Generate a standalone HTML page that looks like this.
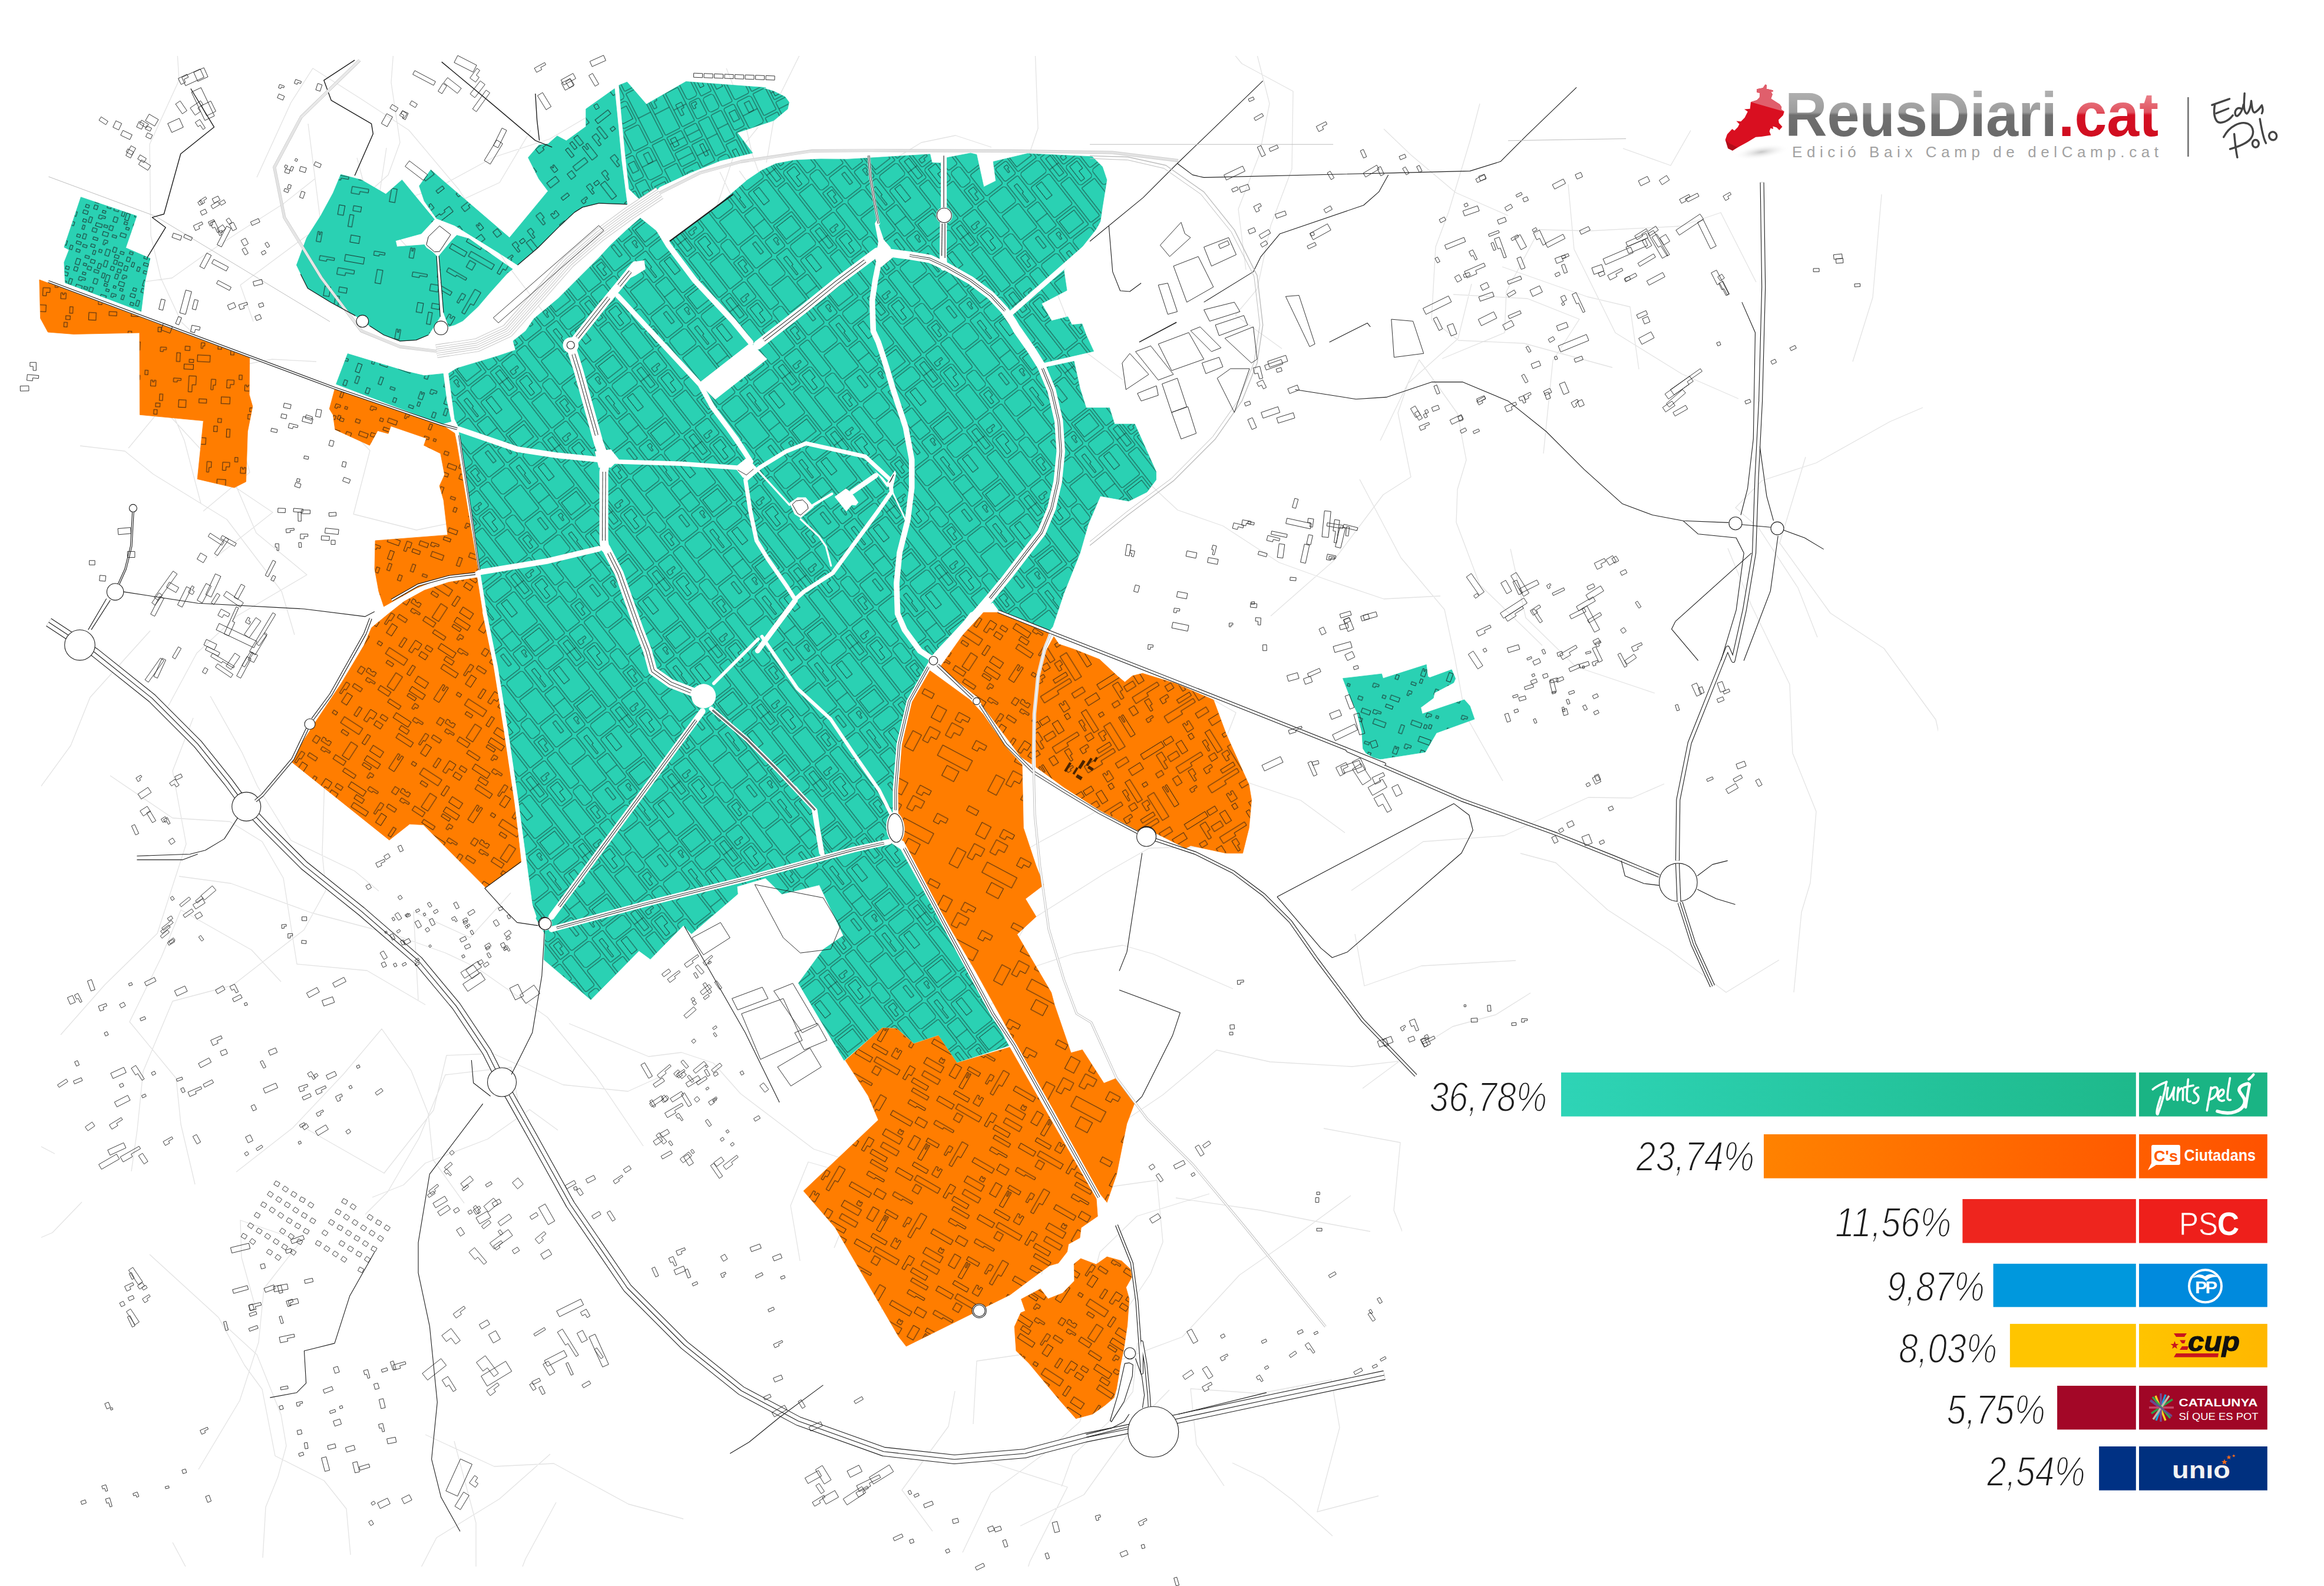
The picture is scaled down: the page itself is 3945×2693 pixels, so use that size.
<!DOCTYPE html><html><head><meta charset="utf-8"><title>Reus</title><style>html,body{margin:0;padding:0;background:#fff}body{width:3945px;height:2693px;position:relative;overflow:hidden;font-family:"Liberation Sans",sans-serif}svg{position:absolute;left:0;top:0}</style></head><body>
<svg width="3945" height="2693" viewBox="0 0 3945 2693">
<defs><clipPath id="mapclip"><path d="M70,95H2870V330H3290V1760H2380V2660H70Z"/></clipPath></defs><path clip-path="url(#mapclip)" d="M1526,1523 L1587,1487 L1703,1467 L1759,1433 L1864,1376 L1956,1338 L2074,1327 M2755,252 L2836,281 L2896,176 L2946,89 L2986,-65 M1081,678 L1214,733 L1352,769 L1494,718 M1583,2600 L1531,2530 L1610,2422 L1621,2362 M254,2130 L371,2237 L415,2318 L445,2359 L467,2472 L550,2514 L588,2562 L595,2640 M2564,932 L2590,1049 L2675,1132 L2809,1177 M500,1078 L478,1004 L385,882 L260,805 L212,766 L136,757 M2343,748 L2409,611 L2474,702 L2489,781 L2474,831 L2472,887 L2512,993 L2618,1096 M2300,1586 L2316,1674 L2413,1640 L2573,1631 M304,1488 L392,1500 L529,1550 L669,1587 L756,1618 L809,1643 L929,1727 L1012,1828 L1092,1946 M331,2011 L307,1909 L299,1831 L220,1735 L274,1625 L307,1545 L427,1613 L477,1667 M771,2447 L808,2586 L808,2666 L839,2740 L920,2828 M1660,897 L1592,854 L1531,801 L1434,745 L1380,699 L1309,584 L1296,522 L1222,427 M1255,290 L1332,398 L1402,359 L1484,291 L1564,242 L1622,230 L1683,250 M1529,1691 L1622,1640 L1707,1630 L1744,1566 L1877,1482 L1951,1440 L2039,1438 M328,1219 L293,1309 L316,1433 L267,1585 L178,1672 L103,1757 M2293,2030 L2196,2101 L2104,2165 L2007,2270 L1873,2320 L1762,2296 L1658,2311 L1652,2418 M1358,2141 L1342,2047 L1372,1973 L1515,2014 L1590,2092 L1640,2109 L1798,2117 M175,488 L292,472 L344,435 L404,395 L481,346 L534,304 M722,1706 L623,1648 L504,1637 L481,1491 L445,1429 L390,1395 L293,1389 L187,1317 M710,1698 L702,1548 L798,1592 L867,1516 M139,2041 L89,2093 L-51,2153 L-99,2119 L-195,2107 L-286,2111 L-299,2180 L-311,2273 M692,513 L669,402 L622,329 L606,268 M2467,500 L2593,507 L2681,542 L2636,612 L2620,770 M944,2551 L892,2647 L849,2759 L759,2889 L755,3020 M891,1118 L860,1189 L776,1254 L617,1269 L559,1266 M1996,2034 L2139,2055 L2234,2074 L2326,2091 M934,2469 L848,2545 L741,2611 L698,2694 L652,2766 L548,2843 L516,2887 L493,3035 L514,3109 M2349,219 L2395,263 L2471,327 L2560,366 M2581,1449 L2641,1465 L2729,1545 L2834,1613 L2930,1685 L3020,1630 M2176,592 L2097,535 L2134,491 L2157,383 L2193,287 L2195,155 L2108,108 L2022,4 L1958,-63 M548,483 L591,358 L659,297 L679,242 L664,140 L674,5 L623,-106 L519,-183 M2308,814 L2378,947 L2452,1035 L2469,1114 L2487,1213 L2551,1326 M1732,306 L1762,218 L1757,81 L1759,-31 M632,2033 L685,2012 L722,1975 L828,1934 L899,1884 L947,1919 M2115,458 L2102,355 L2138,262 L2155,176 L2121,42 L2083,2 L2045,-77 L1993,-107 L1946,-132 M1233,116 L1258,179 L1277,262 L1304,337 L1290,467 L1440,459 L1413,607 M178,368 L208,465 L252,607 L313,748 L341,855 M2825,1331 L2770,1355 L2696,1354 L2553,1419 L2416,1429 L2294,1512 M1518,721 L1463,758 L1399,765 L1294,745 L1229,769 M722,2436 L839,2490 L940,2485 L1067,2554 L1160,2579 M2737,624 L2587,583 L2476,578 L2430,543 L2437,419 L2459,360 L2496,237 L2512,176 M2981,479 L2921,361 L2853,384 L2699,392 L2613,390 L2557,495 L2554,565 L2448,609 M352,670 L406,739 L424,802 L345,868 M3045,1685 L3058,1549 L3073,1499 L3083,1378 L3043,1279 L3038,1162 L2973,1028 L2933,931 M519,1916 L652,1992 L736,1885 L758,1792 L837,1789 L956,1842 L1066,1853 L1128,1825 M1144,463 L1204,415 L1263,377 L1222,292 M3296,444 L3357,340 L3430,411 L3536,448 L3615,445 L3735,449 L3792,416 L3894,419 L4019,409 M1634,2636 L1682,2535 L1769,2471 L1833,2414 L1879,2273 L1953,2163 L1974,2109 L1964,2004 L1857,2019 M835,874 L707,900 L600,873 L628,765 L584,719 M1802,2524 L1821,2471 L1890,2407 L1923,2363 L1931,2280 M1675,2481 L1812,2525 L1748,2652 L1728,2718 L1678,2770 L1746,2871 L1860,2978 M947,1166 L1033,1116 L1076,1045 L992,946 L940,885 L919,826 M1732,2591 L1840,2538 L1897,2458 L1931,2415 L1985,2360 M2662,313 L2672,423 L2742,565 L2855,635 L2951,677 M643,1513 L602,1479 L494,1427 L437,1335 L411,1278 L357,1182 M890,1923 L868,1812 L756,1825 L711,1933 L658,2024 L620,2062 M430,546 L408,484 L521,400 L646,354 L746,317 L838,267 L933,236 L1042,172 M2340,2540 L2236,2567 L2274,2424 L2260,2343 L2138,2366 L2021,2358 L2031,2453 L2078,2523 M767,501 L665,391 L645,324 L656,251 M1287,216 L1244,269 L1212,365 L1197,524 L1175,593 M1301,276 L1319,171 L1369,70 L1405,21 L1420,-114 L1374,-249 M446,2645 L451,2559 L472,2507 L486,2455 L477,2402 L436,2300 L378,2247 M537,614 L462,610 L390,624 L308,547 L273,472 L256,400 L254,245 L304,136 L298,43 M255,1071 L153,1184 L120,1266 L42,1373 L-50,1417 L-112,1474 L-173,1489 M941,1056 L983,990 L983,842 L993,719 L958,606 L986,496 M2093,1679 L1958,1620 L1906,1605 L1823,1619 L1760,1640 L1665,1720 L1620,1697 M1832,2263 L1867,2126 L1930,2065 L2053,2027 M2313,1848 L2397,1786 L2466,1743 L2539,1723 L2598,1686 M1725,413 L1784,472 L1830,588 L1906,645 M1622,972 L1498,1009 L1427,1057 L1326,1158 L1237,1194 L1097,1215 L1114,1098 L1098,941 L1079,806 M3065,776 L3021,922 L3107,1041 L3198,1101 L3286,1222 L3301,1289 M278,1213 L334,1109 L402,1046 L521,976 L435,905 L397,816 L339,761 L275,692 L218,761 M901,221 L848,310 L716,371 L592,432 L543,368 L523,210 M1496,2224 L1525,2119 L1550,2072 L1595,2096 L1646,2102 M1768,2164 L1796,2059 L1856,1939 L1974,1859 L2065,1783 L2156,1803 L2295,1811 L2383,1801 L2463,1770 M365,947 L463,870 L387,819 L402,715 L404,606 M3145,614 L3179,505 L3192,353 L3205,206 L3347,264 L3336,371 M93,1959 L15,1918 L-73,1879 L-109,1827 L-138,1733 L-174,1634 L-200,1586 L-199,1487 L-349,1514 M552,1290 L547,1449 L553,1512 L516,1579 L395,1673 L293,1700 L243,1819 L233,1918 L223,1989 M966,1738 L1101,1794 L1157,1787 L1211,1805 L1257,1857 L1381,1951 L1472,1981 L1416,2119 M293,2619 L367,2757 L404,2841 L410,2983 L375,3048 L365,3116 L304,3105 L235,3047 L116,3006 M2445,1012 L2349,1017 L2254,985 L2171,955 L2076,893 L1999,866 L1926,798 M3085,1082 L3052,998 L2985,896 L2946,862 L2991,816 L3083,786 L3208,716 L3264,692 M1238,1049 L1247,909 L1281,851 L1383,844 L1412,689 L1511,588 L1641,496 L1681,411 L1774,282 M739,1037 L785,1057 L863,1169 L881,1325 L896,1421 L944,1498 L955,1559 M1398,1526 L1457,1502 L1431,1399 L1395,1330 M1974,1284 L2074,1272 L2098,1210 L2015,1163 L2015,1294 L2104,1324 L2208,1359 L2283,1414 M1030,640 L953,570 L860,448 L779,322 L694,221 L613,168 L531,116 L494,174 L436,301 M2247,1916 L2377,1940 L2366,2055 L2399,2138 M2782,627 L2767,521 L2695,504 L2550,453 M2157,1046 L2263,953 L2348,840 L2395,810 L2373,701 L2390,651 L2475,575 L2498,482 M2262,2608 L2194,2547 L2144,2509 L2092,2484 M435,2225 L410,2135 L408,2072 L511,2107 L448,2188 L439,2279 L407,2378 L337,2495 M401,1990 L497,1915 L583,1824 L648,1747 L698,1818 L727,1891 L735,1969 L788,2043" fill="none" stroke="#e3e3e3" stroke-width="1.3" stroke-linejoin="round"/>
<defs><pattern id="pc" width="192" height="144" patternUnits="userSpaceOnUse" patternTransform="rotate(-38)"><g fill="none" stroke="#161616" stroke-opacity="0.78" stroke-width="0.95"><rect x="2.2" y="2.2" width="23.6" height="51.6" rx="2"/><path d="M10.1,12.6h6.3v18.0h-3.1v18.0h-3.1z"/><rect x="2.2" y="58.2" width="23.6" height="51.6" rx="2"/><path d="M2.2,84.0H25.8"/><rect x="2.2" y="114.2" width="23.6" height="27.6" rx="3"/><path d="M16.0,120.6h6.3v6.2h-3.1v6.2h-3.1z"/><rect x="30.2" y="2.2" width="39.6" height="25.6" rx="5"/><rect x="30.2" y="32.2" width="39.6" height="65.6" rx="3"/><rect x="39.5" y="35.7" width="11.7" height="29.0"/><rect x="30.2" y="102.2" width="39.6" height="39.6" rx="1"/><rect x="33.3" y="107.4" width="31.8" height="26.6"/><rect x="74.2" y="2.2" width="19.6" height="51.6" rx="2"/><rect x="80.8" y="9.2" width="9.5" height="37.8"/><path d="M74.2,28.0H93.8"/><rect x="74.2" y="58.2" width="19.6" height="83.6" rx="2"/><rect x="98.2" y="2.2" width="27.6" height="33.6" rx="3"/><path d="M102.1,21.8h15.3v4.0h-7.6v4.0h-7.6z"/><rect x="98.2" y="40.2" width="27.6" height="41.6" rx="5"/><path d="M104.6,44.7h15.8v15.8h-7.9v15.8h-7.9z"/><rect x="98.2" y="86.2" width="27.6" height="55.6" rx="1"/><rect x="130.2" y="2.2" width="19.6" height="65.6" rx="3"/><rect x="130.2" y="72.2" width="19.6" height="33.6" rx="5"/><rect x="130.2" y="110.2" width="19.6" height="31.6" rx="1"/><path d="M135.7,115.4h11.1v10.6h-5.6v10.6h-5.6z"/><rect x="154.2" y="2.2" width="35.6" height="33.6" rx="5"/><rect x="154.2" y="40.2" width="35.6" height="51.6" rx="2"/><rect x="154.2" y="96.2" width="35.6" height="45.6" rx="3"/><rect x="175.8" y="104.9" width="6.0" height="22.2"/></g></pattern><pattern id="pc2" width="192" height="144" patternUnits="userSpaceOnUse" patternTransform="rotate(-27)"><g fill="none" stroke="#161616" stroke-opacity="0.78" stroke-width="0.95"><rect x="2.2" y="2.2" width="19.6" height="65.6" rx="1"/><path d="M2.2,35.0H21.8"/><rect x="2.2" y="72.2" width="19.6" height="33.6" rx="5"/><rect x="2.2" y="110.2" width="19.6" height="31.6" rx="3"/><path d="M5.2,113.4h8.7v5.1h-4.3v5.1h-4.3z"/><rect x="26.2" y="2.2" width="19.6" height="51.6" rx="2"/><path d="M26.2,28.0H45.8"/><rect x="26.2" y="58.2" width="19.6" height="51.6" rx="1"/><rect x="31.5" y="72.1" width="7.0" height="24.4"/><rect x="26.2" y="114.2" width="19.6" height="27.6" rx="5"/><rect x="50.2" y="2.2" width="19.6" height="41.6" rx="3"/><rect x="55.7" y="12.4" width="11.2" height="17.6"/><rect x="50.2" y="48.2" width="19.6" height="93.6" rx="2"/><rect x="55.0" y="66.2" width="11.5" height="45.1"/><rect x="74.2" y="2.2" width="27.6" height="51.6" rx="5"/><rect x="86.0" y="9.7" width="9.1" height="17.7"/><path d="M74.2,28.0H101.8"/><rect x="74.2" y="58.2" width="27.6" height="41.6" rx="5"/><rect x="78.3" y="67.0" width="19.4" height="24.4"/><rect x="74.2" y="104.2" width="27.6" height="37.6" rx="3"/><rect x="106.2" y="2.2" width="23.6" height="41.6" rx="1"/><rect x="106.2" y="48.2" width="23.6" height="93.6" rx="1"/><path d="M106.2,95.0H129.8"/><rect x="134.2" y="2.2" width="27.6" height="25.6" rx="1"/><rect x="138.4" y="7.7" width="9.2" height="14.8"/><path d="M134.2,15.0H161.8"/><rect x="134.2" y="32.2" width="27.6" height="25.6" rx="2"/><path d="M134.2,45.0H161.8"/><rect x="134.2" y="62.2" width="27.6" height="79.6" rx="1"/><path d="M137.3,71.0h11.0v11.0h-5.5v11.0h-5.5z"/><path d="M134.2,102.0H161.8"/><rect x="166.2" y="2.2" width="23.6" height="25.6" rx="2"/><path d="M166.2,15.0H189.8"/><rect x="166.2" y="32.2" width="23.6" height="41.6" rx="2"/><rect x="178.5" y="38.6" width="6.0" height="21.3"/><path d="M166.2,53.0H189.8"/><rect x="166.2" y="78.2" width="23.6" height="63.6" rx="1"/><path d="M172.9,103.5h10.9v10.4h-5.4v10.4h-5.4z"/><path d="M166.2,110.0H189.8"/></g></pattern><pattern id="pc3" width="192" height="144" patternUnits="userSpaceOnUse" patternTransform="rotate(33)"><g fill="none" stroke="#161616" stroke-opacity="0.78" stroke-width="0.95"><rect x="2.2" y="2.2" width="23.6" height="65.6" rx="1"/><rect x="2.2" y="72.2" width="23.6" height="69.6" rx="5"/><path d="M9.5,78.5h8.3v29.9h-4.2v29.9h-4.2z"/><rect x="30.2" y="2.2" width="39.6" height="33.6" rx="5"/><rect x="30.2" y="40.2" width="39.6" height="33.6" rx="1"/><path d="M35.4,60.5h30.9v3.4h-15.4v3.4h-15.4z"/><rect x="30.2" y="78.2" width="39.6" height="63.6" rx="5"/><rect x="74.2" y="2.2" width="39.6" height="51.6" rx="5"/><path d="M74.2,28.0H113.8"/><rect x="74.2" y="58.2" width="39.6" height="83.6" rx="3"/><rect x="100.6" y="86.0" width="9.5" height="20.8"/><rect x="118.2" y="2.2" width="23.6" height="65.6" rx="3"/><path d="M123.7,43.8h10.1v8.8h-5.0v8.8h-5.0z"/><path d="M118.2,35.0H141.8"/><rect x="118.2" y="72.2" width="23.6" height="69.6" rx="2"/><rect x="146.2" y="2.2" width="43.6" height="65.6" rx="1"/><path d="M146.2,35.0H189.8"/><rect x="146.2" y="72.2" width="43.6" height="69.6" rx="3"/><rect x="178.8" y="76.1" width="7.9" height="52.1"/></g></pattern><pattern id="pb0" width="160" height="140" patternUnits="userSpaceOnUse" patternTransform="rotate(3)"><g fill="none" stroke="#161616" stroke-opacity="0.9" stroke-width="0.95"><rect x="24.9" y="10.6" width="8.0" height="6.9"/><path d="M33.9,60.4h12.3v14.9h-6.2v12.2h-6.2z"/><rect x="139.8" y="109.4" width="7.4" height="6.4"/><rect x="90.6" y="93.2" width="14.7" height="11.4"/><path d="M98.7,63.9h12.0v7.5h-6.0v6.1h-6.0z"/><path d="M129.4,71.0h3.1v3.0h2.6v-3.0h3.1v10.0h-8.8z"/><rect x="24.6" y="41.0" width="15.8" height="8.3"/><rect x="52.9" y="98.6" width="12.9" height="6.6"/><rect x="46.6" y="24.2" width="21.4" height="11.1"/><rect x="145.8" y="93.9" width="5.3" height="10.9"/><rect x="118.9" y="54.8" width="5.1" height="7.4"/><path d="M51.7,3.2h6.1v5.3h-3.0v4.3h-3.0z"/><path d="M7.9,65.6h12.8v3.5h-6.4v2.9h-6.4z"/><rect x="32.9" y="32.3" width="7.3" height="5.3"/><rect x="86.7" y="130.2" width="6.1" height="6.6"/><rect x="137.2" y="120.8" width="5.7" height="7.6"/><rect x="102.5" y="7.4" width="5.6" height="13.7"/><rect x="11.1" y="22.3" width="6.0" height="14.8"/><rect x="18.6" y="101.9" width="12.4" height="12.6"/><path d="M72.0,64.2h7.6v9.8h-3.8v8.0h-3.8z"/><rect x="80.4" y="3.3" width="6.1" height="9.4"/><path d="M143.0,14.2h10.1v4.1h-5.1v3.4h-5.1z"/></g></pattern><pattern id="pb20" width="160" height="140" patternUnits="userSpaceOnUse" patternTransform="rotate(20)"><g fill="none" stroke="#161616" stroke-opacity="0.9" stroke-width="0.95"><rect x="142.3" y="91.5" width="7.1" height="15.0"/><rect x="100.6" y="118.2" width="4.1" height="7.0"/><path d="M87.9,3.7h6.3v4.8h-3.2v3.9h-3.2z"/><rect x="26.0" y="100.2" width="5.4" height="12.8"/><path d="M130.6,29.0h8.4v3.9h-4.2v3.2h-4.2z"/><rect x="132.2" y="70.5" width="20.6" height="8.9"/><rect x="147.9" y="112.7" width="5.0" height="12.1"/><rect x="11.7" y="41.2" width="7.3" height="5.8"/><rect x="47.8" y="110.0" width="8.1" height="4.0"/><rect x="10.6" y="125.2" width="5.6" height="9.6"/><rect x="111.0" y="49.0" width="17.6" height="7.7"/><rect x="146.9" y="27.9" width="4.3" height="4.0"/><rect x="49.9" y="68.8" width="20.9" height="8.6"/><rect x="132.2" y="6.6" width="4.5" height="9.6"/><rect x="141.1" y="45.9" width="4.5" height="6.7"/><path d="M27.9,12.1h9.9v3.7h-4.9v3.0h-4.9z"/><rect x="63.0" y="21.2" width="15.6" height="7.2"/><rect x="130.3" y="125.8" width="5.5" height="9.2"/><path d="M43.5,54.3h13.5v3.5h-6.7v2.9h-6.7z"/><rect x="96.1" y="62.6" width="5.9" height="14.6"/><rect x="133.5" y="48.9" width="4.4" height="6.3"/><path d="M113.9,90.8h10.7v4.1h-5.3v3.4h-5.3z"/><path d="M3.7,67.0h8.7v9.5h-4.4v7.8h-4.4z"/><path d="M98.2,100.5h2.6v3.7h2.2v-3.7h2.6v12.5h-7.4z"/><rect x="24.6" y="58.8" width="14.9" height="7.2"/><rect x="49.7" y="25.8" width="5.5" height="5.1"/><rect x="60.3" y="38.4" width="12.2" height="5.2"/><rect x="87.9" y="128.0" width="8.1" height="4.5"/><rect x="17.4" y="75.7" width="13.5" height="5.8"/><rect x="59.3" y="125.6" width="5.1" height="7.4"/></g></pattern><pattern id="pb35" width="160" height="140" patternUnits="userSpaceOnUse" patternTransform="rotate(33)"><g fill="none" stroke="#161616" stroke-opacity="0.9" stroke-width="0.95"><rect x="33.1" y="2.1" width="37.1" height="12.1"/><rect x="101.5" y="36.6" width="26.8" height="9.2"/><rect x="103.2" y="88.4" width="30.1" height="10.0"/><path d="M121.1,58.1h8.0v5.4h-4.0v4.4h-4.0z"/><path d="M133.7,78.1h17.5v3.7h-8.8v3.0h-8.8z"/><path d="M143.8,5.0h3.8v8.9h3.2v-8.9h3.8v29.6h-10.8z"/><rect x="15.1" y="105.5" width="10.4" height="18.3"/><path d="M29.5,64.9h16.1v3.3h-8.0v2.7h-8.0z"/><path d="M3.9,90.9h6.9v12.0h-3.4v9.8h-3.4z"/><rect x="9.9" y="54.8" width="8.5" height="11.2"/><rect x="125.8" y="115.7" width="29.6" height="8.6"/><path d="M21.9,50.5h5.7v2.2h4.9v-2.2h5.7v7.4h-16.2z"/><rect x="55.8" y="64.3" width="21.0" height="8.4"/><rect x="103.0" y="49.3" width="15.5" height="5.3"/><rect x="16.7" y="85.7" width="16.2" height="6.3"/><rect x="65.9" y="31.9" width="13.2" height="27.7"/><rect x="45.0" y="114.1" width="5.6" height="16.7"/><path d="M63.7,107.5h12.7v11.9h-6.4v9.7h-6.4z"/><rect x="82.4" y="5.9" width="5.8" height="17.5"/><rect x="100.7" y="16.2" width="21.0" height="11.3"/><rect x="42.5" y="21.7" width="12.2" height="5.3"/><rect x="82.5" y="118.1" width="13.2" height="8.5"/><rect x="84.7" y="103.9" width="11.6" height="6.5"/><rect x="122.3" y="102.0" width="16.0" height="7.6"/><rect x="12.1" y="2.3" width="7.4" height="5.5"/><rect x="81.1" y="74.9" width="22.8" height="6.6"/></g></pattern><pattern id="pbm40" width="160" height="140" patternUnits="userSpaceOnUse" patternTransform="rotate(-38)"><g fill="none" stroke="#161616" stroke-opacity="0.9" stroke-width="0.95"><path d="M12.8,69.2h2.5v3.2h2.2v-3.2h2.5v10.6h-7.3z"/><rect x="63.7" y="11.1" width="13.6" height="5.4"/><rect x="30.6" y="82.3" width="27.7" height="8.0"/><path d="M8.8,101.8h9.0v10.9h-4.5v8.9h-4.5z"/><rect x="122.7" y="25.5" width="8.1" height="6.0"/><path d="M11.2,8.9h9.5v11.0h-4.7v9.0h-4.7z"/><path d="M80.3,59.2h22.3v5.4h-11.1v4.4h-11.1z"/><rect x="130.1" y="34.7" width="9.7" height="31.9"/><rect x="112.0" y="121.8" width="25.1" height="9.2"/><rect x="96.7" y="125.7" width="9.6" height="11.4"/><path d="M143.8,20.0h7.9v9.0h-4.0v7.4h-4.0z"/><path d="M87.3,36.0h11.3v3.6h-5.6v3.0h-5.6z"/><rect x="143.1" y="84.4" width="7.9" height="16.7"/><path d="M32.2,22.5h3.9v2.8h3.4v-2.8h3.9v9.4h-11.2z"/><rect x="17.3" y="49.5" width="5.4" height="5.4"/><path d="M33.4,45.4h11.1v3.3h9.5v-3.3h11.1v11.1h-31.6z"/><rect x="41.4" y="110.1" width="7.3" height="5.6"/><rect x="132.2" y="87.3" width="5.2" height="13.4"/><path d="M81.1,99.1h2.6v3.4h2.3v-3.4h2.6v11.4h-7.6z"/><path d="M144.6,105.7h4.1v8.2h3.5v-8.2h4.1v27.4h-11.7z"/><rect x="119.7" y="91.5" width="5.6" height="16.7"/><path d="M109.4,22.2h7.8v9.4h-3.9v7.7h-3.9z"/><rect x="23.9" y="95.8" width="6.1" height="22.5"/><rect x="59.9" y="116.4" width="18.9" height="10.5"/></g></pattern><pattern id="pr30" width="160" height="140" patternUnits="userSpaceOnUse" patternTransform="rotate(30)"><g fill="none" stroke="#161616" stroke-opacity="0.9" stroke-width="0.95"><path d="M86.8,13.0h35.7v4.0h-17.8v3.3h-17.8z"/><rect x="68.1" y="53.6" width="12.0" height="22.0"/><path d="M31.3,4.6h30.9v3.9h-15.5v3.2h-15.5z"/><rect x="15.3" y="35.0" width="38.9" height="8.4"/><rect x="90.4" y="45.9" width="22.2" height="6.4"/><rect x="26.3" y="124.6" width="30.6" height="6.4"/><rect x="90.6" y="92.7" width="27.6" height="6.8"/><rect x="20.4" y="68.1" width="33.3" height="11.1"/><path d="M41.5,56.4h2.7v2.2h2.3v-2.2h2.7v7.5h-7.8z"/><path d="M2.4,94.6h10.5v13.8h-5.2v11.3h-5.2z"/><rect x="111.9" y="124.1" width="11.3" height="12.7"/><path d="M143.9,22.2h11.5v25.0h-5.7v20.5h-5.7z"/><rect x="106.0" y="109.8" width="45.6" height="9.3"/><path d="M128.1,38.9h7.2v9.8h-3.6v8.0h-3.6z"/><path d="M126.9,80.4h4.0v4.8h3.5v-4.8h4.0v15.8h-11.6z"/><rect x="58.4" y="23.0" width="17.7" height="11.6"/><rect x="18.2" y="109.4" width="29.2" height="7.9"/><rect x="28.0" y="89.9" width="31.2" height="9.1"/><rect x="71.3" y="114.6" width="29.5" height="8.7"/><path d="M92.4,55.6h2.5v8.7h2.2v-8.7h2.5v29.0h-7.2z"/></g></pattern><pattern id="prm30" width="160" height="140" patternUnits="userSpaceOnUse" patternTransform="rotate(-32)"><g fill="none" stroke="#161616" stroke-opacity="0.9" stroke-width="0.95"><rect x="118.7" y="2.8" width="21.3" height="9.2"/><path d="M90.6,6.9h4.3v4.7h3.7v-4.7h4.3v15.8h-12.3z"/><path d="M24.8,27.7h10.9v15.5h-5.5v12.7h-5.5z"/><rect x="115.4" y="38.7" width="9.5" height="40.4"/><path d="M42.3,106.7h12.8v3.6h-6.4v3.0h-6.4z"/><path d="M42.2,62.9h49.8v6.7h-24.9v5.5h-24.9z"/><rect x="2.9" y="12.5" width="41.5" height="10.1"/><rect x="138.4" y="56.6" width="7.9" height="6.1"/><rect x="27.1" y="76.3" width="10.5" height="13.9"/><path d="M71.0,119.0h58.2v7.1h-29.1v5.8h-29.1z"/><rect x="99.2" y="76.2" width="11.8" height="10.3"/><path d="M4.7,79.3h3.1v11.8h2.6v-11.8h3.1v39.2h-8.8z"/><rect x="47.5" y="13.3" width="15.8" height="9.0"/><rect x="104.1" y="106.4" width="25.2" height="6.7"/><rect x="63.6" y="28.7" width="11.0" height="20.5"/><path d="M56.4,79.2h8.8v11.2h-4.4v9.1h-4.4z"/><rect x="132.0" y="23.4" width="22.7" height="11.9"/><path d="M80.6,89.7h14.7v5.5h-7.4v4.5h-7.4z"/><path d="M103.5,49.5h6.3v10.6h-3.1v8.7h-3.1z"/><rect x="39.9" y="39.7" width="18.1" height="10.2"/><rect x="135.2" y="79.0" width="12.8" height="48.1"/><rect x="88.5" y="27.5" width="7.2" height="8.6"/><rect x="7.2" y="54.0" width="11.6" height="8.0"/><path d="M120.8,84.1h11.2v8.4h-5.6v6.9h-5.6z"/></g></pattern><pattern id="psp" width="160" height="140" patternUnits="userSpaceOnUse" patternTransform="rotate(28)"><g fill="none" stroke="#161616" stroke-opacity="0.9" stroke-width="0.95"><rect x="30.8" y="87.8" width="16.4" height="30.5"/><rect x="47.4" y="30.2" width="17.5" height="23.1"/><path d="M82.9,44.8h22.0v13.2h-11.0v10.8h-11.0z"/><path d="M52.8,68.1h20.1v14.4h-10.1v11.8h-10.1z"/><rect x="109.6" y="112.8" width="22.8" height="19.1"/><path d="M85.1,23.7h21.4v7.9h-10.7v6.5h-10.7z"/><path d="M133.3,52.1h20.5v8.5h-10.2v6.9h-10.2z"/><rect x="14.7" y="15.8" width="18.7" height="9.0"/><rect x="87.0" y="85.7" width="57.0" height="19.5"/></g></pattern><pattern id="ps" width="160" height="140" patternUnits="userSpaceOnUse" patternTransform="rotate(10)"><g fill="none" stroke="#161616" stroke-opacity="0.9" stroke-width="0.95"><rect x="70.2" y="59.3" width="9.6" height="23.1"/><path d="M119.8,13.2h2.6v5.1h2.2v-5.1h2.6v17.0h-7.5z"/><rect x="8.3" y="115.6" width="6.7" height="20.3"/><path d="M3.9,67.9h28.5v6.2h-14.3v5.1h-14.3z"/><rect x="147.7" y="102.5" width="9.7" height="16.4"/><rect x="12.0" y="99.7" width="13.4" height="8.5"/><path d="M130.3,53.0h25.1v4.2h-12.6v3.5h-12.6z"/><rect x="12.8" y="43.6" width="32.5" height="11.0"/><rect x="16.2" y="9.4" width="15.6" height="12.1"/><path d="M59.9,29.4h18.4v3.9h-9.2v3.2h-9.2z"/></g></pattern><pattern id="pd" width="120" height="110" patternUnits="userSpaceOnUse" patternTransform="rotate(18)"><g fill="none" stroke="#161616" stroke-opacity="0.9" stroke-width="0.95"><rect x="17.8" y="3.1" width="5.2" height="8.6"/><rect x="69.1" y="56.7" width="4.5" height="8.1"/><rect x="101.9" y="8.0" width="5.8" height="4.0"/><rect x="46.4" y="88.1" width="6.3" height="3.8"/><rect x="12.2" y="99.6" width="3.7" height="7.1"/><rect x="36.5" y="65.5" width="5.5" height="3.9"/><rect x="91.5" y="42.1" width="6.2" height="5.9"/><rect x="5.3" y="74.9" width="8.2" height="5.6"/><rect x="41.8" y="53.2" width="6.5" height="5.9"/><rect x="86.8" y="12.4" width="6.1" height="4.3"/><rect x="32.1" y="37.1" width="7.0" height="4.1"/><rect x="33.2" y="50.7" width="5.4" height="3.7"/><rect x="2.7" y="28.5" width="4.2" height="7.3"/><rect x="6.4" y="64.7" width="5.8" height="4.7"/><rect x="100.6" y="18.0" width="5.7" height="7.2"/><rect x="58.4" y="69.9" width="6.6" height="8.4"/><rect x="77.5" y="72.6" width="5.5" height="4.2"/><rect x="48.4" y="99.4" width="9.4" height="6.6"/><rect x="66.1" y="35.2" width="5.6" height="10.6"/><rect x="77.6" y="92.3" width="9.5" height="6.1"/><rect x="105.5" y="72.4" width="5.2" height="3.8"/><rect x="79.3" y="41.3" width="5.7" height="6.4"/><rect x="51.3" y="20.2" width="4.9" height="4.8"/><rect x="19.7" y="46.6" width="6.7" height="10.1"/><path d="M94.3,84.8h8.1v3.5h-4.0v2.9h-4.0z"/><rect x="35.5" y="15.8" width="6.9" height="4.6"/><rect x="89.8" y="30.7" width="6.8" height="5.4"/><rect x="101.1" y="33.5" width="5.6" height="7.8"/><rect x="43.3" y="40.6" width="7.2" height="5.7"/><rect x="29.7" y="98.8" width="7.4" height="6.3"/><rect x="35.3" y="3.3" width="8.0" height="4.2"/><rect x="22.7" y="20.8" width="7.0" height="4.1"/><rect x="90.8" y="51.6" width="5.1" height="7.7"/><rect x="56.1" y="86.1" width="6.0" height="7.7"/><path d="M102.9,49.2h7.0v3.8h-3.5v3.1h-3.5z"/><rect x="100.6" y="61.6" width="9.2" height="6.8"/><rect x="94.9" y="100.8" width="8.2" height="6.2"/><rect x="42.4" y="24.9" width="4.2" height="6.8"/><rect x="73.4" y="9.2" width="5.8" height="8.1"/><rect x="18.8" y="82.7" width="4.9" height="9.6"/><rect x="7.7" y="7.1" width="5.8" height="4.6"/><rect x="111.4" y="24.0" width="4.1" height="7.5"/><rect x="93.4" y="71.5" width="4.4" height="3.7"/><rect x="76.6" y="57.6" width="6.0" height="11.9"/><rect x="62.8" y="16.1" width="6.8" height="10.9"/><rect x="10.5" y="18.6" width="8.1" height="4.4"/><rect x="20.6" y="61.1" width="6.0" height="6.7"/><path d="M54.2,2.4h6.6v4.6h-3.3v3.7h-3.3z"/><path d="M33.2,74.7h11.2v3.4h-5.6v2.7h-5.6z"/><rect x="112.1" y="82.0" width="4.0" height="7.7"/><rect x="83.1" y="80.5" width="5.5" height="3.7"/><rect x="54.0" y="55.3" width="8.0" height="4.7"/><rect x="65.1" y="99.9" width="7.3" height="3.9"/><rect x="32.5" y="88.9" width="10.6" height="5.6"/><rect x="81.2" y="29.5" width="5.5" height="6.7"/><rect x="57.6" y="43.3" width="5.1" height="8.4"/><rect x="110.6" y="99.7" width="6.7" height="6.3"/><rect x="79.4" y="20.7" width="7.4" height="5.1"/><rect x="14.3" y="31.6" width="6.5" height="4.4"/><rect x="9.5" y="89.4" width="5.7" height="4.7"/></g></pattern></defs>
<polygon fill="#2ad1b3" stroke="#2ad1b3" stroke-width="0.8" points="137.3,334.7 232.0,366.7 213.4,420.8 254.8,438.7 245.9,479.0 239.6,528.7 110.5,480.1 108.9,445.4 117.2,424.2 108.9,419.7"/>
<polygon fill="#ff7d00" stroke="#ff7d00" stroke-width="0.8" points="66.9,475.0 423.7,607.7 423.1,670.2 428.8,690.1 420.3,732.7 417.5,817.9 397.6,828.1 335.1,813.4 345.3,714.5 237.4,704.3 236.9,565.1 125.0,567.4 81.4,564.0 68.6,540.5"/>
<polygon fill="#2ad1b3" stroke="#2ad1b3" stroke-width="0.8" points="578.5,296.2 613.6,305.5 654.9,329.6 682.4,305.5 737.5,372.6 715.1,396.7 671.4,408.7 673.8,419.1 720.3,415.6 723.8,420.8 734.1,427.7 741.0,434.6 747.2,537.8 737.5,553.3 727.2,568.8 706.5,577.4 679.0,579.1 651.5,568.8 627.4,553.3 603.3,536.1 562.0,513.7 522.4,489.6 503.4,450.1 520.7,403.6 544.8,365.7 565.4,327.8"/>
<polygon fill="#2ad1b3" stroke="#2ad1b3" stroke-width="0.8" points="775.4,399.4 796.0,405.3 870.1,456.9 861.4,463.8 830.5,498.2 811.5,520.6 785.7,544.7 771.9,551.6 761.6,554.4 753.0,530.9 745.1,434.6 765.1,410.5"/>
<polygon fill="#2ad1b3" stroke="#2ad1b3" stroke-width="0.8" points="731.3,288.3 754.7,308.9 864.9,403.6 930.3,324.4 914.8,303.8 896.6,267.6 914.8,246.3 930.3,244.5 945.8,230.8 961.3,239.0 994.7,214.9 994.7,185.0 1043.2,150.6 1049.1,210.8 1054.9,272.8 1064.5,346.8 1016.4,345.1 988.8,351.9 975.0,360.6 947.5,386.4 913.1,420.8 878.7,450.1 844.2,427.7 771.9,382.9 741.0,370.9 720.3,341.6 711.7,315.8"/>
<polygon fill="#2ad1b3" stroke="#2ad1b3" stroke-width="0.8" points="1050.8,144.7 1064.5,139.2 1097.2,177.1 1164.4,138.5 1300.0,148.8 1291.2,148.2 1313.6,155.0 1332.5,164.3 1339.4,173.6 1337.0,185.0 1313.6,204.6 1251.6,225.3 1277.5,259.7 1222.9,272.8 1171.3,293.4 1119.6,317.5 1095.5,345.7 1081.8,334.7 1068.0,321.0 1061.1,259.0 1054.9,193.6"/>
<polygon fill="#2ad1b3" stroke="#2ad1b3" stroke-width="0.8" points="590.2,600.6 689.3,630.6 720.3,637.8 752.3,634.4 758.2,680.5 765.7,715.6 749.6,720.1 570.6,652.3"/>
<polygon fill="#2ad1b3" stroke="#2ad1b3" stroke-width="0.8" points="761.6,634.0 775.4,625.4 844.2,604.8 875.2,594.4 871.1,578.9 892.4,561.9 906.2,541.3 947.5,506.9 981.9,472.4 1016.4,438.0 1037.0,415.6 1064.5,389.8 1086.9,370.2 1136.8,410.5 1200.2,364.0 1240.1,336.5 1200.0,363.0 1220.7,346.8 1244.8,326.1 1268.8,305.5 1292.9,289.3 1317.0,277.9 1348.0,272.1 1392.8,270.0 1437.5,270.4 1485.7,267.6 1578.7,261.8 1582.1,276.2 1595.9,276.9 1607.9,267.6 1647.5,260.0 1657.8,262.4 1669.9,317.5 1690.5,307.2 1686.1,274.5 1743.9,260.7 1854.0,265.9 1871.3,283.1 1878.8,305.5 1871.3,351.9 1867.8,376.0 1860.2,389.8 1805.9,458.7 1811.0,493.1 1768.0,515.5 1785.2,544.7 1812.7,537.8 1819.6,551.6 1836.8,549.9 1843.7,568.8 1856.5,596.4 1768.0,616.8 1774.9,623.7 1823.1,613.4 1833.4,659.8 1843.7,692.5 1883.3,692.5 1891.9,720.1 1926.3,720.1 1962.5,801.0 1962.5,814.7 1947.0,835.4 1916.0,850.9 1867.8,842.3 1847.2,890.5 1833.4,938.7 1805.9,1007.5 1786.9,1064.3 1780.3,1072.3 1698.5,1040.9 1685.4,1023.0 1646.9,1040.0 1591.0,1113.1 1573.8,1132.5 1543.6,1190.6 1526.4,1263.8 1517.8,1341.2 1515.7,1379.9 1509.2,1405.7 1509.2,1429.4 1528.6,1442.3 1608.2,1586.5 1685.6,1721.2 1706.1,1764.0 1712.6,1775.6 1624.4,1804.0 1592.9,1757.6 1551.2,1771.3 1521.9,1745.5 1497.4,1744.7 1432.9,1800.6 1355.4,1669.4 1397.3,1612.3 1431.8,1588.6 1390.9,1502.6 1327.2,1518.1 1299.4,1491.0 1251.0,1505.2 1252.3,1518.1 1173.8,1585.6 1160.0,1571.4 1104.0,1628.6 1084.7,1614.4 1002.9,1697.5 923.3,1629.5 925.5,1586.5 908.3,1556.4 904.0,1534.8 895.4,1470.3 880.3,1362.7 863.1,1246.5 845.9,1139.0 826.5,1040.0 816.7,978.2 815.0,969.6 799.5,869.8 785.7,780.3 779.5,735.6 778.8,725.2 771.9,711.5"/>
<polygon fill="#ff7d00" stroke="#ff7d00" stroke-width="0.8" points="568.2,660.9 749.6,721.1 771.9,735.6 775.4,752.8 789.2,835.4 799.5,897.3 811.5,967.9 802.2,973.1 741.0,985.1 706.5,998.9 679.0,1014.4 651.5,1029.9 642.9,1004.1 636.0,966.2 637.0,918.0 759.9,908.4 753.0,849.2 746.1,825.1 754.7,806.1 747.8,770.0 719.6,756.2 723.8,744.2 663.5,723.5 659.0,736.2 641.1,731.4 627.4,756.2 568.8,729.4 565.4,704.6 559.2,694.3"/>
<polygon fill="#ff7d00" stroke="#ff7d00" stroke-width="0.8" points="809.8,980.7 761.6,988.6 720.3,1002.3 685.9,1021.3 661.8,1040.2 630.7,1065.8 617.8,1095.9 579.1,1160.5 536.1,1225.0 516.7,1255.1 495.2,1293.9 660.8,1426.4 695.3,1399.3 718.9,1400.6 824.4,1506.9 884.6,1463.8 873.8,1362.7 854.5,1233.6 837.3,1126.1 819.2,1040.0"/>
<polygon fill="#ff7d00" stroke="#ff7d00" stroke-width="0.8" points="1575.9,1136.8 1646.9,1188.5 1668.4,1212.1 1707.1,1268.1 1735.1,1298.2 1737.3,1405.7 1758.8,1470.3 1771.7,1502.6 1740.7,1526.2 1758.8,1556.4 1726.5,1586.5 1784.6,1685.4 1790.0,1705.9 1818.0,1787.7 1837.3,1782.5 1873.9,1839.3 1895.4,1830.7 1925.6,1873.8 1912.7,1908.2 1904.0,1951.2 1895.4,1994.2 1879.1,2041.6 1865.3,2024.4 1792.2,1891.0 1723.3,1770.5 1656.6,1650.0 1616.8,1582.2 1539.3,1442.3 1526.4,1423.0 1524.3,1341.2 1530.7,1263.8 1547.9,1190.6"/>
<polygon fill="#ff7d00" stroke="#ff7d00" stroke-width="0.8" points="1597.4,1130.4 1634.0,1078.7 1659.8,1040.0 1698.5,1040.0 1780.3,1074.4 1773.8,1095.9 1760.9,1147.6 1754.5,1212.1 1752.3,1298.2 1733.0,1285.3 1707.1,1250.8 1668.4,1199.2 1659.8,1184.1 1608.2,1143.3"/>
<polygon fill="#ff7d00" stroke="#ff7d00" stroke-width="0.8" points="1788.9,1080.9 1797.5,1093.8 1823.3,1102.4 1866.4,1119.6 1896.5,1147.6 1909.4,1158.3 1922.3,1147.6 1939.5,1143.3 1995.4,1160.5 2060.0,1188.5 2081.5,1246.5 2120.2,1332.6 2124.5,1358.4 2120.2,1405.7 2109.5,1448.8 2081.5,1448.8 2021.3,1435.9 2012.7,1440.2 1969.6,1418.7 1961.0,1414.4 1930.9,1410.1 1866.4,1375.6 1806.1,1336.9 1758.8,1302.5 1756.6,1212.1 1765.2,1147.6 1776.0,1104.5"/>
<polygon fill="#ff7d00" stroke="#ff7d00" stroke-width="0.8" points="1435.0,1800.6 1497.4,1745.5 1521.9,1746.4 1551.2,1772.2 1592.9,1758.4 1624.4,1804.9 1713.9,1778.2 1716.9,1783.4 1787.9,1908.2 1861.0,2035.1 1863.2,2065.2 1835.2,2084.6 1833.0,2101.8 1813.7,2112.6 1811.5,2125.5 1796.5,2144.8 1781.4,2149.1 1749.1,2172.8 1714.7,2198.6 1538.3,2286.0 1525.4,2269.6 1417.8,2084.6 1364.0,2022.2 1491.0,1901.7 1473.8,1860.8"/>
<polygon fill="#ff7d00" stroke="#ff7d00" stroke-width="0.8" points="1766.2,2188.6 1779.1,2205.4 1803.8,2195.7 1823.8,2174.9 1823.2,2146.3 1834.6,2137.0 1860.8,2146.9 1879.1,2134.0 1903.9,2140.9 1918.9,2154.9 1921.1,2168.8 1911.4,2186.1 1916.8,2205.4 1913.6,2250.6 1908.2,2287.2 1901.7,2319.4 1895.3,2358.2 1891.0,2373.2 1875.9,2386.1 1854.4,2401.2 1826.4,2408.7 1800.6,2379.7 1746.8,2315.1 1724.9,2293.6 1722.1,2252.8 1732.8,2229.1 1740.4,2225.9 1733.5,2205.9"/>
<polygon fill="#2ad1b3" stroke="#2ad1b3" stroke-width="0.8" points="2279.5,1151.9 2345.4,1144.2 2347.7,1151.9 2421.2,1128.5 2423.8,1148.8 2427.2,1150.6 2464.2,1137.1 2470.6,1152.3 2467.6,1159.2 2434.9,1176.4 2433.2,1185.3 2411.7,1201.3 2414.3,1212.2 2485.7,1188.1 2495.2,1198.8 2502.9,1221.1 2438.4,1244.4 2419.4,1277.1 2342.9,1289.1 2330.8,1285.7 2318.8,1278.8 2313.6,1271.0 2311.9,1243.5 2303.3,1209.1 2292.9,1186.7"/>
<polygon fill="url(#pd)" points="137.3,334.7 232.0,366.7 213.4,420.8 254.8,438.7 245.9,479.0 239.6,528.7 110.5,480.1 108.9,445.4 117.2,424.2 108.9,419.7"/>
<polygon fill="url(#pb0)" points="66.9,475.0 423.7,607.7 423.1,670.2 428.8,690.1 420.3,732.7 417.5,817.9 397.6,828.1 335.1,813.4 345.3,714.5 237.4,704.3 236.9,565.1 125.0,567.4 81.4,564.0 68.6,540.5"/>
<polygon fill="url(#ps)" points="578.5,296.2 613.6,305.5 654.9,329.6 682.4,305.5 737.5,372.6 715.1,396.7 671.4,408.7 673.8,419.1 720.3,415.6 723.8,420.8 734.1,427.7 741.0,434.6 747.2,537.8 737.5,553.3 727.2,568.8 706.5,577.4 679.0,579.1 651.5,568.8 627.4,553.3 603.3,536.1 562.0,513.7 522.4,489.6 503.4,450.1 520.7,403.6 544.8,365.7 565.4,327.8"/>
<polygon fill="url(#pr30)" points="775.4,399.4 796.0,405.3 870.1,456.9 861.4,463.8 830.5,498.2 811.5,520.6 785.7,544.7 771.9,551.6 761.6,554.4 753.0,530.9 745.1,434.6 765.1,410.5"/>
<polygon fill="url(#pbm40)" points="731.3,288.3 754.7,308.9 864.9,403.6 930.3,324.4 914.8,303.8 896.6,267.6 914.8,246.3 930.3,244.5 945.8,230.8 961.3,239.0 994.7,214.9 994.7,185.0 1043.2,150.6 1049.1,210.8 1054.9,272.8 1064.5,346.8 1016.4,345.1 988.8,351.9 975.0,360.6 947.5,386.4 913.1,420.8 878.7,450.1 844.2,427.7 771.9,382.9 741.0,370.9 720.3,341.6 711.7,315.8"/>
<polygon fill="url(#pc2)" points="1050.8,144.7 1064.5,139.2 1097.2,177.1 1164.4,138.5 1300.0,148.8 1291.2,148.2 1313.6,155.0 1332.5,164.3 1339.4,173.6 1337.0,185.0 1313.6,204.6 1251.6,225.3 1277.5,259.7 1222.9,272.8 1171.3,293.4 1119.6,317.5 1095.5,345.7 1081.8,334.7 1068.0,321.0 1061.1,259.0 1054.9,193.6"/>
<polygon fill="url(#pb20)" points="590.2,600.6 689.3,630.6 720.3,637.8 752.3,634.4 758.2,680.5 765.7,715.6 749.6,720.1 570.6,652.3"/>
<polygon fill="url(#pc)" points="761.6,634.0 775.4,625.4 844.2,604.8 875.2,594.4 871.1,578.9 892.4,561.9 906.2,541.3 947.5,506.9 981.9,472.4 1016.4,438.0 1037.0,415.6 1064.5,389.8 1086.9,370.2 1136.8,410.5 1200.2,364.0 1240.1,336.5 1200.0,363.0 1220.7,346.8 1244.8,326.1 1268.8,305.5 1292.9,289.3 1317.0,277.9 1348.0,272.1 1392.8,270.0 1437.5,270.4 1485.7,267.6 1578.7,261.8 1582.1,276.2 1595.9,276.9 1607.9,267.6 1647.5,260.0 1657.8,262.4 1669.9,317.5 1690.5,307.2 1686.1,274.5 1743.9,260.7 1854.0,265.9 1871.3,283.1 1878.8,305.5 1871.3,351.9 1867.8,376.0 1860.2,389.8 1805.9,458.7 1811.0,493.1 1768.0,515.5 1785.2,544.7 1812.7,537.8 1819.6,551.6 1836.8,549.9 1843.7,568.8 1856.5,596.4 1768.0,616.8 1774.9,623.7 1823.1,613.4 1833.4,659.8 1843.7,692.5 1883.3,692.5 1891.9,720.1 1926.3,720.1 1962.5,801.0 1962.5,814.7 1947.0,835.4 1916.0,850.9 1867.8,842.3 1847.2,890.5 1833.4,938.7 1805.9,1007.5 1786.9,1064.3 1780.3,1072.3 1698.5,1040.9 1685.4,1023.0 1646.9,1040.0 1591.0,1113.1 1573.8,1132.5 1543.6,1190.6 1526.4,1263.8 1517.8,1341.2 1515.7,1379.9 1509.2,1405.7 1509.2,1429.4 1528.6,1442.3 1608.2,1586.5 1685.6,1721.2 1706.1,1764.0 1712.6,1775.6 1624.4,1804.0 1592.9,1757.6 1551.2,1771.3 1521.9,1745.5 1497.4,1744.7 1432.9,1800.6 1355.4,1669.4 1397.3,1612.3 1431.8,1588.6 1390.9,1502.6 1327.2,1518.1 1299.4,1491.0 1251.0,1505.2 1252.3,1518.1 1173.8,1585.6 1160.0,1571.4 1104.0,1628.6 1084.7,1614.4 1002.9,1697.5 923.3,1629.5 925.5,1586.5 908.3,1556.4 904.0,1534.8 895.4,1470.3 880.3,1362.7 863.1,1246.5 845.9,1139.0 826.5,1040.0 816.7,978.2 815.0,969.6 799.5,869.8 785.7,780.3 779.5,735.6 778.8,725.2 771.9,711.5"/>
<polygon fill="url(#pb20)" points="568.2,660.9 749.6,721.1 771.9,735.6 775.4,752.8 789.2,835.4 799.5,897.3 811.5,967.9 802.2,973.1 741.0,985.1 706.5,998.9 679.0,1014.4 651.5,1029.9 642.9,1004.1 636.0,966.2 637.0,918.0 759.9,908.4 753.0,849.2 746.1,825.1 754.7,806.1 747.8,770.0 719.6,756.2 723.8,744.2 663.5,723.5 659.0,736.2 641.1,731.4 627.4,756.2 568.8,729.4 565.4,704.6 559.2,694.3"/>
<polygon fill="url(#pb35)" points="809.8,980.7 761.6,988.6 720.3,1002.3 685.9,1021.3 661.8,1040.2 630.7,1065.8 617.8,1095.9 579.1,1160.5 536.1,1225.0 516.7,1255.1 495.2,1293.9 660.8,1426.4 695.3,1399.3 718.9,1400.6 824.4,1506.9 884.6,1463.8 873.8,1362.7 854.5,1233.6 837.3,1126.1 819.2,1040.0"/>
<polygon fill="url(#psp)" points="1575.9,1136.8 1646.9,1188.5 1668.4,1212.1 1707.1,1268.1 1735.1,1298.2 1737.3,1405.7 1758.8,1470.3 1771.7,1502.6 1740.7,1526.2 1758.8,1556.4 1726.5,1586.5 1784.6,1685.4 1790.0,1705.9 1818.0,1787.7 1837.3,1782.5 1873.9,1839.3 1895.4,1830.7 1925.6,1873.8 1912.7,1908.2 1904.0,1951.2 1895.4,1994.2 1879.1,2041.6 1865.3,2024.4 1792.2,1891.0 1723.3,1770.5 1656.6,1650.0 1616.8,1582.2 1539.3,1442.3 1526.4,1423.0 1524.3,1341.2 1530.7,1263.8 1547.9,1190.6"/>
<polygon fill="url(#pb35)" points="1597.4,1130.4 1634.0,1078.7 1659.8,1040.0 1698.5,1040.0 1780.3,1074.4 1773.8,1095.9 1760.9,1147.6 1754.5,1212.1 1752.3,1298.2 1733.0,1285.3 1707.1,1250.8 1668.4,1199.2 1659.8,1184.1 1608.2,1143.3"/>
<polygon fill="url(#prm30)" points="1788.9,1080.9 1797.5,1093.8 1823.3,1102.4 1866.4,1119.6 1896.5,1147.6 1909.4,1158.3 1922.3,1147.6 1939.5,1143.3 1995.4,1160.5 2060.0,1188.5 2081.5,1246.5 2120.2,1332.6 2124.5,1358.4 2120.2,1405.7 2109.5,1448.8 2081.5,1448.8 2021.3,1435.9 2012.7,1440.2 1969.6,1418.7 1961.0,1414.4 1930.9,1410.1 1866.4,1375.6 1806.1,1336.9 1758.8,1302.5 1756.6,1212.1 1765.2,1147.6 1776.0,1104.5"/>
<polygon fill="url(#pr30)" points="1435.0,1800.6 1497.4,1745.5 1521.9,1746.4 1551.2,1772.2 1592.9,1758.4 1624.4,1804.9 1713.9,1778.2 1716.9,1783.4 1787.9,1908.2 1861.0,2035.1 1863.2,2065.2 1835.2,2084.6 1833.0,2101.8 1813.7,2112.6 1811.5,2125.5 1796.5,2144.8 1781.4,2149.1 1749.1,2172.8 1714.7,2198.6 1538.3,2286.0 1525.4,2269.6 1417.8,2084.6 1364.0,2022.2 1491.0,1901.7 1473.8,1860.8"/>
<polygon fill="url(#pb35)" points="1766.2,2188.6 1779.1,2205.4 1803.8,2195.7 1823.8,2174.9 1823.2,2146.3 1834.6,2137.0 1860.8,2146.9 1879.1,2134.0 1903.9,2140.9 1918.9,2154.9 1921.1,2168.8 1911.4,2186.1 1916.8,2205.4 1913.6,2250.6 1908.2,2287.2 1901.7,2319.4 1895.3,2358.2 1891.0,2373.2 1875.9,2386.1 1854.4,2401.2 1826.4,2408.7 1800.6,2379.7 1746.8,2315.1 1724.9,2293.6 1722.1,2252.8 1732.8,2229.1 1740.4,2225.9 1733.5,2205.9"/>
<polygon fill="url(#pb20)" points="2279.5,1151.9 2345.4,1144.2 2347.7,1151.9 2421.2,1128.5 2423.8,1148.8 2427.2,1150.6 2464.2,1137.1 2470.6,1152.3 2467.6,1159.2 2434.9,1176.4 2433.2,1185.3 2411.7,1201.3 2414.3,1212.2 2485.7,1188.1 2495.2,1198.8 2502.9,1221.1 2438.4,1244.4 2419.4,1277.1 2342.9,1289.1 2330.8,1285.7 2318.8,1278.8 2313.6,1271.0 2311.9,1243.5 2303.3,1209.1 2292.9,1186.7"/>
<g fill="none" stroke="#fff" stroke-linecap="round" stroke-linejoin="round">
<polyline stroke-width="5" points="1474.7,264.2 1477.5,300.3 1484.3,341.6 1491.2,379.5"/>
<polyline stroke-width="10" points="1602.1,262.4 1602.1,351.9"/>
<polyline stroke-width="12" points="1601.4,379.5 1601.0,434.6 1602.1,453.5"/>
<polyline stroke-width="14" points="1502.9,428.4 1544.2,433.9 1578.7,439.7 1606.2,452.5 1647.5,475.9 1681.9,501.7 1706.0,527.5 1719.8,548.2 1726.7,560.0"/>
<polyline stroke-width="14.5" points="1726.7,560.0 1750.8,594.4 1768.0,622.0 1785.2,663.3 1797.2,714.9 1800.7,766.5 1795.5,818.2 1785.2,862.9 1768.0,904.2 1743.9,935.2 1709.5,980.0 1678.5,1017.8 1657.8,1041.9 1613.1,1090.1 1599.1,1105.0 1587.5,1118.3"/>
<polyline stroke-width="8.6" points="1885.0,382.9 1712.9,534.4"/>
<polyline stroke-width="9.6" points="1492.6,441.4 1485.7,475.9 1480.6,510.3 1482.3,561.9 1490.9,580.7 1497.8,601.3 1506.4,628.8 1516.7,663.3 1537.3,725.2 1547.7,780.3 1547.7,828.5 1540.8,883.6 1527.0,938.7 1521.9,990.3 1523.6,1041.9 1535.6,1069.5 1561.4,1104.9 1561.3,1105.0 1580.2,1117.5"/>
<polyline stroke-width="16" points="969.9,591.0 981.9,628.8 999.1,690.8 1016.4,752.8 1026.7,780.3"/>
<polyline stroke-width="15" points="1028.4,780.3 1025.0,801.0 1025.0,918.0 1026.7,930.1"/>
<polyline stroke-width="15" points="1028.4,930.1 1050.8,973.1 1085.2,1069.5 1099.0,1104.9 1108.3,1139.0 1138.5,1160.5 1177.2,1175.5"/>
<polyline stroke-width="7.5" points="1042.2,783.8 1154.0,787.2 1250.4,794.1"/>
<polyline stroke-width="9.6" points="778.8,728.7 878.7,763.1 947.5,773.4 1016.4,780.3"/>
<polyline stroke-width="9.6" points="815.0,971.4 930.3,952.4 1016.4,931.8"/>
<polyline stroke-width="9.7" points="1104.4,366.6 1134.5,416.1 1179.7,476.3 1244.2,545.1 1274.4,581.7"/>
<polyline stroke-width="8.6" points="1048.5,502.1 1188.3,652.7 1209.1,690.8 1250.4,745.9 1274.5,783.8"/>
<polyline stroke-width="14" points="971.0,583.9 1020.5,521.5 1050.6,484.9 1078.6,450.5"/>
<polyline stroke-width="15" points="1286.1,586.0 1365.2,524.1 1420.3,479.3 1475.4,438.0 1489.2,427.7"/>
<polyline stroke-width="7" points="1368.7,752.8 1468.5,775.1 1511.5,814.7 1513.3,835.4 1489.2,869.8 1413.4,973.1 1365.2,1004.1 1349.7,1017.8 1334.3,993.7 1303.3,949.0 1284.3,918.0 1274.0,869.8 1265.4,814.7 1289.5,794.1 1334.3,766.5 1368.7,752.8"/>
<polyline stroke-width="9" points="1349.7,1019.6 1286.1,1104.9"/>
<polyline stroke-width="5.5" points="1286.9,1085.2 1211.6,1160.5"/>
<polyline stroke-width="7.5" points="1207.3,1203.5 1267.6,1255.1 1319.2,1306.8 1383.7,1375.6 1388.0,1405.7 1396.6,1453.1"/>
<polyline stroke-width="10.5" points="936.2,1556.4 1192.3,1207.8"/>
<polyline stroke-width="6" points="1293.4,1080.9 1353.6,1169.1 1409.6,1220.7 1450.0,1281.0 1492.0,1341.2 1513.5,1384.2"/>
<polyline stroke-width="9.5" points="936.2,1577.9 1095.4,1534.8 1267.6,1491.8 1450.0,1442.3 1509.2,1429.4"/>
<polyline stroke-width="9" points="1578.9,1128.2 1543.6,1190.6 1526.4,1263.8 1520.0,1341.2 1520.0,1379.9"/>
<polyline stroke-width="9" points="1530.7,1431.6 1608.2,1577.9 1685.6,1721.2 1721.2,1774.8 1865.3,2033.0 1895.4,2080.3"/>
<polyline stroke-width="7" points="822.6,1040.0 841.6,1132.5 858.8,1240.1 876.9,1362.7 889.8,1466.0 899.7,1534.8 907.0,1556.4"/>
<polyline stroke-width="6" points="1783.7,1076.6 1773.8,1100.2 1762.2,1147.6 1755.8,1212.1 1754.5,1298.2"/>
<polyline stroke-width="5" points="1350.0,1336.9 1380.1,1373.5 1393.0,1448.8"/>
<polyline stroke-width="6" points="1236.9,730.0 1268.7,776.5"/>
<polyline stroke-width="3.2" points="1286.8,798.8 1340.2,857.4"/>
<polyline stroke-width="3.2" points="1359.1,881.5 1390.1,910.7 1402.1,927.9 1410.7,960.6"/>
<polyline stroke-width="4.3" points="1379.7,858.2 1412.4,838.4"/>
<polyline stroke-width="8.6" points="1446.9,835.0 1486.5,807.5"/>
<polyline stroke-width="2.6" points="1514.0,833.3 1538.1,884.9"/>
</g><g fill="#fff">
<polygon points="1488.5,372.6 1500.2,407.0 1511.5,420.1 1516.7,436.3 1496.0,453.5 1485.7,441.4 1490.9,410.5 1485.0,379.5"/>
<polygon points="1009.5,766.5 1037.0,763.1 1050.8,780.3 1037.0,794.1 1016.4,794.1"/>
<polygon points="1063.5,456.9 1078.6,444.0 1093.6,441.9 1095.8,456.9 1078.6,467.7 1070.0,472.0"/>
<polygon points="1186.1,650.6 1274.4,581.7 1302.3,609.7 1214.1,678.5"/>
<polygon points="1247.2,793.7 1268.7,776.5 1279.9,789.4 1287.7,798.0 1266.1,812.6 1261.0,810.9"/>
<polygon points="1340.2,853.9 1353.9,844.5 1367.7,844.5 1378.0,856.5 1381.5,860.8 1359.1,879.7 1348.8,872.9"/>
<polygon points="1416.7,843.6 1435.7,829.5 1445.1,835.9 1457.2,853.1 1452.9,858.2 1446.0,857.4 1436.5,868.6"/>
<polygon points="1484.7,798.8 1498.5,810.9 1505.4,819.5 1519.2,798.8 1521.2,804.0 1516.1,826.4 1505.4,826.4"/>
<circle cx="1602.8" cy="365.7" r="13.8"/>
<circle cx="1194.4" cy="1182.0" r="20.7"/>
<circle cx="968.8" cy="586.0" r="13.3"/>
<circle cx="925.5" cy="1568.4" r="11.6"/>
<circle cx="1584.5" cy="1121.8" r="8.6"/>
<ellipse cx="1520.0" cy="1405.7" rx="15.5" ry="26.7" transform="rotate(-5 1520.0 1405.7)"/>
</g>
<polyline fill="none" stroke="#1e1e1e" stroke-width="16.1" stroke-linejoin="round" points="82.6,1056.5 161.4,1108.2 258.2,1185.6 335.6,1263.1 387.3,1327.6 418.2,1369.6 451.8,1405.1 516.4,1469.6 613.2,1547.1 710.0,1631.0 774.5,1708.4 826.2,1785.9 852.0,1837.5 871.3,1871.7 903.6,1929.0 968.0,2045.0 1065.0,2187.0 1161.7,2284.0 1258.5,2361.5 1355.3,2413.0 1500.0,2464.8 1620.0,2478.0 1740.0,2468.0 1843.0,2441.0 1957.0,2418.0 2150.0,2377.0 2350.0,2335.0"/>
<polyline fill="none" stroke="#fff" stroke-width="13.9" stroke-linejoin="round" points="82.6,1056.5 161.4,1108.2 258.2,1185.6 335.6,1263.1 387.3,1327.6 418.2,1369.6 451.8,1405.1 516.4,1469.6 613.2,1547.1 710.0,1631.0 774.5,1708.4 826.2,1785.9 852.0,1837.5 871.3,1871.7 903.6,1929.0 968.0,2045.0 1065.0,2187.0 1161.7,2284.0 1258.5,2361.5 1355.3,2413.0 1500.0,2464.8 1620.0,2478.0 1740.0,2468.0 1843.0,2441.0 1957.0,2418.0 2150.0,2377.0 2350.0,2335.0"/>
<polyline fill="none" stroke="#1e1e1e" stroke-width="1.1" stroke-linejoin="round" points="82.6,1056.5 161.4,1108.2 258.2,1185.6 335.6,1263.1 387.3,1327.6 418.2,1369.6 451.8,1405.1 516.4,1469.6 613.2,1547.1 710.0,1631.0 774.5,1708.4 826.2,1785.9 852.0,1837.5 871.3,1871.7 903.6,1929.0 968.0,2045.0 1065.0,2187.0 1161.7,2284.0 1258.5,2361.5 1355.3,2413.0 1500.0,2464.8 1620.0,2478.0 1740.0,2468.0 1843.0,2441.0 1957.0,2418.0 2150.0,2377.0 2350.0,2335.0"/>
<circle cx="418.2" cy="1369.6" r="24.5" fill="#fff" stroke="#1e1e1e" stroke-width="1.1"/>
<circle cx="135.5" cy="1095.3" r="25.8" fill="#fff" stroke="#1e1e1e" stroke-width="1.1"/>
<circle cx="195.6" cy="1004.9" r="14.2" fill="#fff" stroke="#1e1e1e" stroke-width="1.1"/>
<circle cx="225.9" cy="862.9" r="6.5" fill="#fff" stroke="#1e1e1e" stroke-width="1.1"/>
<circle cx="852.0" cy="1837.5" r="24.5" fill="#fff" stroke="#1e1e1e" stroke-width="1.1"/>
<polyline fill="none" stroke="#1e1e1e" stroke-width="3.7" stroke-linejoin="round" points="225.9,869.4 222.7,927.5 213.0,966.2 201.4,992.0"/>
<polyline fill="none" stroke="#fff" stroke-width="1.5" stroke-linejoin="round" points="225.9,869.4 222.7,927.5 213.0,966.2 201.4,992.0"/>
<polyline fill="none" stroke="#1e1e1e" stroke-width="1.1" stroke-linejoin="round" points="209.8,1004.9 335.6,1024.3 516.4,1034.0 619.6,1046.9 635.8,1038.5"/>
<polyline fill="none" stroke="#1e1e1e" stroke-width="1.1" stroke-linejoin="round" points="187.2,1019.1 154.9,1069.4"/>
<polyline fill="none" stroke="#1e1e1e" stroke-width="1.1" stroke-linejoin="round" points="180.7,1016.5 149.7,1069.4"/>
<polyline fill="none" stroke="#1e1e1e" stroke-width="5.1" stroke-linejoin="round" points="629.3,1050.1 619.6,1075.9 561.5,1179.2 530.6,1221.1"/>
<polyline fill="none" stroke="#fff" stroke-width="2.9" stroke-linejoin="round" points="629.3,1050.1 619.6,1075.9 561.5,1179.2 530.6,1221.1"/>
<polyline fill="none" stroke="#1e1e1e" stroke-width="5.1" stroke-linejoin="round" points="521.5,1237.3 497.0,1288.9 445.4,1350.2 433.7,1359.9"/>
<polyline fill="none" stroke="#fff" stroke-width="2.9" stroke-linejoin="round" points="521.5,1237.3 497.0,1288.9 445.4,1350.2 433.7,1359.9"/>
<circle cx="526.0" cy="1229.5" r="9.0" fill="#fff" stroke="#1e1e1e" stroke-width="1.1"/>
<polyline fill="none" stroke="#1e1e1e" stroke-width="1.1" stroke-linejoin="round" points="403.4,1388.9 380.8,1424.4 348.5,1443.8 322.7,1450.3 232.4,1453.5"/>
<polyline fill="none" stroke="#1e1e1e" stroke-width="1.1" stroke-linejoin="round" points="232.4,1459.9 309.8,1459.9 335.6,1450.3"/>
<circle cx="924.3" cy="1567.7" r="10.3" fill="#fff" stroke="#1e1e1e" stroke-width="1.1"/>
<polyline fill="none" stroke="#1e1e1e" stroke-width="1.1" stroke-linejoin="round" points="924.3,1579.3 919.8,1656.8 903.6,1753.6 877.8,1805.2 868.1,1824.6"/>
<polyline fill="none" stroke="#1e1e1e" stroke-width="1.1" stroke-linejoin="round" points="913.3,1571.6 877.8,1566.4 852.0,1540.6 822.9,1508.3 884.3,1463.2"/>
<polyline fill="none" stroke="#1e1e1e" stroke-width="4.6" stroke-linejoin="round" points="664.8,1019.1 710.0,993.3 761.6,979.1 806.8,973.9"/>
<polyline fill="none" stroke="#fff" stroke-width="2.4" stroke-linejoin="round" points="664.8,1019.1 710.0,993.3 761.6,979.1 806.8,973.9"/>
<polyline fill="none" stroke="#1e1e1e" stroke-width="4.300000000000001" stroke-linejoin="round" points="82.0,478.0 568.0,659.0 749.5,721.0 776.0,728.0"/>
<polyline fill="none" stroke="#fff" stroke-width="2.1" stroke-linejoin="round" points="82.0,478.0 568.0,659.0 749.5,721.0 776.0,728.0"/>
<polyline fill="none" stroke="#bdbdbd" stroke-width="1.0" stroke-linejoin="round" points="82.5,300.0 263.8,367.1 560.0,546.1"/>
<polyline fill="none" stroke="#1e1e1e" stroke-width="1.4" stroke-linejoin="round" points="602.1,102.2 549.8,136.3 562.3,170.4 630.5,210.2 633.3,227.2 602.1,298.2"/>
<polyline fill="none" stroke="#1e1e1e" stroke-width="1.4" stroke-linejoin="round" points="323.8,150.5 363.5,215.8 306.7,261.3 278.3,363.5 258.4,369.2 281.2,386.2 249.9,437.3"/>
<polyline fill="none" stroke="#1e1e1e" stroke-width="1.4" stroke-linejoin="round" points="749.7,105.1 834.9,176.1 908.8,238.6 937.2,249.9"/>
<polyline fill="none" stroke="#1e1e1e" stroke-width="1.4" stroke-linejoin="round" points="908.8,159.0 911.6,204.5 915.6,238.6"/>
<polyline fill="none" stroke="#bdbdbd" stroke-width="4.9" stroke-linejoin="round" points="610.6,102.2 511.2,198.8 465.7,284.0 482.8,369.2 545.3,471.4 613.6,561.9 679.0,588.8 741.0,596.4 809.8,586.0 861.4,561.9 913.1,503.4 964.7,444.9 1016.4,400.1 1068.0,362.3 1119.6,327.8 1188.5,293.4 1257.3,274.5 1379.0,256.2 1475.4,255.6 1716.4,256.2 1888.5,259.0 2000.0,272.8"/>
<polyline fill="none" stroke="#fff" stroke-width="3.1" stroke-linejoin="round" points="610.6,102.2 511.2,198.8 465.7,284.0 482.8,369.2 545.3,471.4 613.6,561.9 679.0,588.8 741.0,596.4 809.8,586.0 861.4,561.9 913.1,503.4 964.7,444.9 1016.4,400.1 1068.0,362.3 1119.6,327.8 1188.5,293.4 1257.3,274.5 1379.0,256.2 1475.4,255.6 1716.4,256.2 1888.5,259.0 2000.0,272.8"/>
<polyline fill="none" stroke="#bdbdbd" stroke-width="22.9" stroke-linejoin="round" points="741.0,596.4 809.8,586.0 861.4,561.9 913.1,503.4 964.7,444.9 1016.4,400.1 1068.0,362.3 1119.6,327.8"/>
<polyline fill="none" stroke="#fff" stroke-width="21.1" stroke-linejoin="round" points="741.0,596.4 809.8,586.0 861.4,561.9 913.1,503.4 964.7,444.9 1016.4,400.1 1068.0,362.3 1119.6,327.8"/>
<polyline fill="none" stroke="#bdbdbd" stroke-width="14.9" stroke-linejoin="round" points="741.0,596.4 809.8,586.0 861.4,561.9 913.1,503.4 964.7,444.9 1016.4,400.1 1068.0,362.3 1119.6,327.8"/>
<polyline fill="none" stroke="#fff" stroke-width="13.1" stroke-linejoin="round" points="741.0,596.4 809.8,586.0 861.4,561.9 913.1,503.4 964.7,444.9 1016.4,400.1 1068.0,362.3 1119.6,327.8"/>
<polyline fill="none" stroke="#bdbdbd" stroke-width="7.9" stroke-linejoin="round" points="741.0,596.4 809.8,586.0 861.4,561.9 913.1,503.4 964.7,444.9 1016.4,400.1 1068.0,362.3 1119.6,327.8"/>
<polyline fill="none" stroke="#fff" stroke-width="6.1" stroke-linejoin="round" points="741.0,596.4 809.8,586.0 861.4,561.9 913.1,503.4 964.7,444.9 1016.4,400.1 1068.0,362.3 1119.6,327.8"/>
<polyline fill="none" stroke="#bdbdbd" stroke-width="0.9" stroke-linejoin="round" points="610.6,102.2 511.2,198.8 465.7,284.0 482.8,369.2 545.3,471.4 613.6,561.9 679.0,588.8 741.0,596.4 809.8,586.0 861.4,561.9 913.1,503.4 964.7,444.9 1016.4,400.1 1068.0,362.3 1119.6,327.8 1188.5,293.4 1257.3,274.5 1379.0,256.2 1475.4,255.6 1716.4,256.2 1888.5,259.0 2000.0,272.8"/>
<polyline fill="none" stroke="#1e1e1e" stroke-width="0.9" stroke-linejoin="round" points="837.3,539.6 1016.4,382.9 1025.0,391.5 846.0,548.2 837.3,539.6"/>
<polyline fill="none" stroke="#1e1e1e" stroke-width="1.1" stroke-linejoin="round" points="2143.7,137.4 1998.5,277.5 1940.4,335.6 1850.0,409.8"/>
<polyline fill="none" stroke="#1e1e1e" stroke-width="1.1" stroke-linejoin="round" points="1998.5,277.5 2024.3,296.9 2043.6,301.4 2366.4,293.6 2495.4,290.4 2547.1,274.3 2592.3,229.1 2676.2,148.4"/>
<polyline fill="none" stroke="#1e1e1e" stroke-width="1.1" stroke-linejoin="round" points="2356.7,296.9 2340.5,325.9 2314.7,348.5 2172.7,396.9 2140.4,435.6 2127.5,461.4 2043.6,513.1"/>
<polyline fill="none" stroke="#bdbdbd" stroke-width="1.4" stroke-linejoin="round" points="1850.0,264.6 1914.5,266.5 1979.1,280.7 2043.6,325.9 2095.3,390.4 2134.0,467.9 2143.7,551.8 2134.0,616.4 2108.2,680.9 2063.0,745.4 1992.0,816.4 1914.5,874.5 1850.0,926.2"/>
<polyline fill="none" stroke="#bdbdbd" stroke-width="1.0" stroke-linejoin="round" points="1850.0,269.1 1914.5,271.7 1975.9,285.9 2038.5,329.8 2090.1,393.7 2128.8,469.2 2138.5,551.8 2128.8,615.1 2103.0,678.3 2058.5,741.6 1988.1,812.6 1911.3,870.0 1850.0,919.7"/>
<polyline fill="none" stroke="#1e1e1e" stroke-width="1.1" stroke-linejoin="round" points="2198.5,661.5 2301.8,677.7 2353.4,674.4 2430.9,648.6 2482.5,648.6 2560.0,680.9 2624.5,732.5 2689.1,797.1 2753.6,855.2 2805.2,874.5 2856.9,884.2 2934.3,887.4"/>
<polyline fill="none" stroke="#1e1e1e" stroke-width="7.1" stroke-linejoin="round" points="2991.1,309.8 2993.7,487.3 2988.6,680.9 2982.1,810.0 2977.6,939.1 2961.4,1035.9 2942.1,1121.7 2932.7,1100.0 2906.9,1164.5 2868.2,1261.4 2848.8,1358.2 2847.5,1461.4"/>
<polyline fill="none" stroke="#fff" stroke-width="4.9" stroke-linejoin="round" points="2991.1,309.8 2993.7,487.3 2988.6,680.9 2982.1,810.0 2977.6,939.1 2961.4,1035.9 2942.1,1121.7 2932.7,1100.0 2906.9,1164.5 2868.2,1261.4 2848.8,1358.2 2847.5,1461.4"/>
<polyline fill="none" stroke="#1e1e1e" stroke-width="1.1" stroke-linejoin="round" points="2956.9,513.1 2979.5,564.7 2976.3,745.4 2966.6,829.3 2955.0,874.5"/>
<polyline fill="none" stroke="#1e1e1e" stroke-width="1.1" stroke-linejoin="round" points="2987.3,758.3 2998.9,842.3 3010.5,884.2"/>
<circle cx="2946.0" cy="888.7" r="11.0" fill="#fff" stroke="#1e1e1e" stroke-width="1.1"/>
<circle cx="3017.0" cy="897.1" r="11.0" fill="#fff" stroke="#1e1e1e" stroke-width="1.1"/>
<polyline fill="none" stroke="#1e1e1e" stroke-width="1.1" stroke-linejoin="round" points="2956.9,890.7 3005.3,895.2"/>
<polyline fill="none" stroke="#1e1e1e" stroke-width="1.1" stroke-linejoin="round" points="2856.9,884.2 2882.7,906.8 2947.2,913.3 2960.2,939.1 2947.2,1035.9 2921.4,1121.7"/>
<polyline fill="none" stroke="#1e1e1e" stroke-width="1.1" stroke-linejoin="round" points="3027.9,900.3 3063.4,913.3 3095.7,932.6"/>
<polyline fill="none" stroke="#1e1e1e" stroke-width="1.1" stroke-linejoin="round" points="3018.2,910.0 3005.3,1003.6 2960.2,1121.7"/>
<polyline fill="none" stroke="#1e1e1e" stroke-width="1.1" stroke-linejoin="round" points="2844.0,1055.2 2973.1,939.1"/>
<polyline fill="none" stroke="#1e1e1e" stroke-width="1.1" stroke-linejoin="round" points="2844.0,1055.2 2837.5,1068.2 2882.7,1121.7"/>
<polyline fill="none" stroke="#bdbdbd" stroke-width="1.0" stroke-linejoin="round" points="1850.0,245.2 2263.1,245.2"/>
<polyline fill="none" stroke="#bdbdbd" stroke-width="1.0" stroke-linejoin="round" points="2560.0,238.8 2760.1,235.5"/>
<polyline fill="none" stroke="#1e1e1e" stroke-width="5.699999999999999" stroke-linejoin="round" points="1694.2,1037.8 1780.3,1072.3 2081.5,1190.6 2350.0,1297.3 2287.3,1274.3 2480.9,1358.2 2642.3,1416.3 2739.1,1455.0 2816.5,1487.3"/>
<polyline fill="none" stroke="#fff" stroke-width="3.4999999999999996" stroke-linejoin="round" points="1694.2,1037.8 1780.3,1072.3 2081.5,1190.6 2350.0,1297.3 2287.3,1274.3 2480.9,1358.2 2642.3,1416.3 2739.1,1455.0 2816.5,1487.3"/>
<circle cx="2848.8" cy="1498.2" r="32.3" fill="#fff" stroke="#1e1e1e" stroke-width="1.1"/>
<polyline fill="none" stroke="#1e1e1e" stroke-width="7.1" stroke-linejoin="round" points="2847.5,1466.6 2850.1,1531.2"/>
<polyline fill="none" stroke="#fff" stroke-width="4.9" stroke-linejoin="round" points="2847.5,1466.6 2850.1,1531.2"/>
<polyline fill="none" stroke="#1e1e1e" stroke-width="9.1" stroke-linejoin="round" points="2852.0,1532.4 2874.6,1603.4 2906.9,1674.4"/>
<polyline fill="none" stroke="#fff" stroke-width="6.9" stroke-linejoin="round" points="2852.0,1532.4 2874.6,1603.4 2906.9,1674.4"/>
<polyline fill="none" stroke="#1e1e1e" stroke-width="1.1" stroke-linejoin="round" points="2852.0,1532.4 2874.6,1603.4 2906.9,1674.4"/>
<polyline fill="none" stroke="#1e1e1e" stroke-width="1.1" stroke-linejoin="round" points="2752.0,1461.4 2758.4,1487.3 2790.7,1500.2 2816.5,1503.4"/>
<polyline fill="none" stroke="#1e1e1e" stroke-width="1.1" stroke-linejoin="round" points="2881.1,1487.3 2906.9,1467.9 2932.7,1461.4"/>
<polyline fill="none" stroke="#1e1e1e" stroke-width="1.1" stroke-linejoin="round" points="2881.1,1509.9 2913.3,1526.0 2945.6,1535.7"/>
<polyline fill="none" stroke="#1e1e1e" stroke-width="5.6" stroke-linejoin="round" points="1961.3,1425.9 2029.1,1448.5 2093.6,1480.8 2145.3,1519.5 2190.4,1564.7 2235.6,1629.3 2313.1,1732.5 2403.4,1826.1"/>
<polyline fill="none" stroke="#fff" stroke-width="3.4" stroke-linejoin="round" points="1961.3,1425.9 2029.1,1448.5 2093.6,1480.8 2145.3,1519.5 2190.4,1564.7 2235.6,1629.3 2313.1,1732.5 2403.4,1826.1"/>
<polyline fill="none" stroke="#1e1e1e" stroke-width="1.1" stroke-linejoin="round" points="2167.9,1522.8 2468.0,1364.6 2493.8,1384.0 2500.3,1409.8 2480.9,1448.5 2287.3,1616.4 2261.4,1626.0 2242.1,1609.9 2167.9,1522.8"/>
<polyline fill="none" stroke="#1e1e1e" stroke-width="1.1" stroke-linejoin="round" points="1938.7,1448.5 1912.9,1616.4 1900.0,1648.6"/>
<polyline fill="none" stroke="#1e1e1e" stroke-width="1.1" stroke-linejoin="round" points="1900.0,1680.9 2003.3,1719.6 1990.4,1758.3 1938.7,1861.6 1925.8,1874.5"/>
<circle cx="1946.5" cy="1419.5" r="16.1" fill="#fff" stroke="#1e1e1e" stroke-width="1.1"/>
<circle cx="1957.7" cy="2431.3" r="43.0" fill="#fff" stroke="#1e1e1e" stroke-width="1.1"/>
<polyline fill="none" stroke="#1e1e1e" stroke-width="1.1" stroke-linejoin="round" points="1843.6,2440.6 1914.6,2422.7"/>
<polyline fill="none" stroke="#1e1e1e" stroke-width="1.1" stroke-linejoin="round" points="2000.7,2401.2 2150.0,2364.6"/>
<polyline fill="none" stroke="#1e1e1e" stroke-width="5.1" stroke-linejoin="round" points="1895.4,2080.3 1921.3,2144.8 1929.9,2209.4 1938.5,2331.2 1938.3,2278.6 1944.8,2315.1 1950.1,2368.9 1951.2,2388.3"/>
<polyline fill="none" stroke="#fff" stroke-width="2.9" stroke-linejoin="round" points="1895.4,2080.3 1921.3,2144.8 1929.9,2209.4 1938.5,2331.2 1938.3,2278.6 1944.8,2315.1 1950.1,2368.9 1951.2,2388.3"/>
<circle cx="1917.9" cy="2297.9" r="9.7" fill="#fff" stroke="#1e1e1e" stroke-width="1.1"/>
<polyline fill="none" stroke="#1e1e1e" stroke-width="1.1" stroke-linejoin="round" points="1909.3,2315.1 1897.4,2368.9 1884.5,2412.0 1886.7,2414.1 1908.2,2379.7 1922.2,2336.7 1923.2,2317.3 1916.8,2314.1 1909.3,2315.1"/>
<polyline fill="none" stroke="#1e1e1e" stroke-width="1.1" stroke-linejoin="round" points="1927.5,2306.5 1938.3,2336.7 1942.6,2368.9 1939.4,2390.4"/>
<polyline fill="none" stroke="#1e1e1e" stroke-width="1.1" stroke-linejoin="round" points="1843.6,2435.6 1886.7,2424.9 1908.2,2414.1 1916.8,2401.2"/>
<polyline fill="none" stroke="#1e1e1e" stroke-width="1.1" stroke-linejoin="round" points="819.7,1874.2 729.3,1993.6 710.0,2109.8 710.0,2161.4 729.3,2251.8 742.3,2380.9 732.6,2477.7 748.7,2542.3 781.0,2600.3"/>
<polyline fill="none" stroke="#1e1e1e" stroke-width="1.1" stroke-linejoin="round" points="635.8,2125.9 593.8,2200.2 568.0,2280.9 516.4,2293.8 519.6,2348.6 503.4,2364.8 458.3,2373.1"/>
<polyline fill="none" stroke="#1e1e1e" stroke-width="1.1" stroke-linejoin="round" points="1397.4,2351.9 1323.1,2406.7 1271.5,2448.7 1239.2,2468.0"/>
<polyline fill="none" stroke="#1e1e1e" stroke-width="1.1" stroke-linejoin="round" points="800.3,1800.0 803.6,1838.7 832.6,1861.3"/>
<polygon fill="none" stroke="#1e1e1e" stroke-width="0.9" stroke-linejoin="round" points="1969.4,416.3 2004.9,377.5 2011.4,396.9 2021.0,403.4 1985.5,435.6"/>
<polygon fill="none" stroke="#1e1e1e" stroke-width="0.9" stroke-linejoin="round" points="1992.0,451.8 2034.0,435.6 2059.8,487.3 2014.6,513.1"/>
<polygon fill="none" stroke="#1e1e1e" stroke-width="0.9" stroke-linejoin="round" points="2043.6,419.5 2085.6,403.4 2098.5,432.4 2056.5,451.8"/>
<polygon fill="none" stroke="#1e1e1e" stroke-width="0.9" stroke-linejoin="round" points="1966.2,484.0 1982.3,480.8 1998.5,529.2 1982.3,533.7"/>
<polygon fill="none" stroke="#1e1e1e" stroke-width="0.9" stroke-linejoin="round" points="2043.6,526.0 2095.3,513.1 2104.9,529.2 2053.3,545.4"/>
<polygon fill="none" stroke="#1e1e1e" stroke-width="0.9" stroke-linejoin="round" points="2063.0,551.8 2111.4,535.7 2117.9,551.8 2069.4,569.9"/>
<polygon fill="none" stroke="#1e1e1e" stroke-width="0.9" stroke-linejoin="round" points="2079.1,574.4 2127.5,555.0 2134.0,609.9 2124.3,616.4"/>
<polygon fill="none" stroke="#1e1e1e" stroke-width="0.9" stroke-linejoin="round" points="1966.2,584.1 2017.8,564.7 2043.6,609.9 1988.8,629.3"/>
<polygon fill="none" stroke="#1e1e1e" stroke-width="0.9" stroke-linejoin="round" points="1927.5,597.0 1953.3,587.3 1992.0,635.7 1966.2,645.4"/>
<polygon fill="none" stroke="#1e1e1e" stroke-width="0.9" stroke-linejoin="round" points="2021.0,561.5 2037.2,555.0 2072.7,590.5 2056.5,597.0"/>
<polygon fill="none" stroke="#1e1e1e" stroke-width="0.9" stroke-linejoin="round" points="1904.9,616.4 1917.8,600.2 1950.0,635.7 1911.3,661.5"/>
<polygon fill="none" stroke="#1e1e1e" stroke-width="0.9" stroke-linejoin="round" points="1972.6,651.9 1998.5,642.2 2014.6,690.6 1988.8,700.3"/>
<polygon fill="none" stroke="#1e1e1e" stroke-width="0.9" stroke-linejoin="round" points="1988.8,700.3 2016.5,690.6 2030.7,735.8 2004.9,745.4"/>
<polygon fill="none" stroke="#1e1e1e" stroke-width="0.9" stroke-linejoin="round" points="1930.7,668.0 1963.0,655.1 1966.2,671.2 1937.1,680.9"/>
<polygon fill="none" stroke="#1e1e1e" stroke-width="0.9" stroke-linejoin="round" points="2066.2,642.2 2088.8,626.0 2121.1,626.0 2095.3,700.3 2085.6,680.9"/>
<polygon fill="none" stroke="#1e1e1e" stroke-width="0.9" stroke-linejoin="round" points="2040.4,616.4 2069.4,606.7 2075.9,622.8 2046.9,634.4"/>
<polygon fill="none" stroke="#1e1e1e" stroke-width="0.9" stroke-linejoin="round" points="2182.4,503.4 2205.0,501.5 2232.1,584.1 2223.1,588.6"/>
<polygon fill="none" stroke="#1e1e1e" stroke-width="0.9" stroke-linejoin="round" points="2361.8,542.1 2398.6,545.4 2416.7,600.2 2366.4,606.7"/>
<polyline fill="none" stroke="#1e1e1e" stroke-width="1.1" stroke-linejoin="round" points="1882.3,384.0 1888.7,461.4 1901.6,493.7 1917.8,495.0 1937.1,480.8"/>
<polyline fill="none" stroke="#1e1e1e" stroke-width="1.1" stroke-linejoin="round" points="2256.6,580.9 2321.2,548.6 2326.3,555.0"/>
<polyline fill="none" stroke="#1e1e1e" stroke-width="1.6" stroke-linejoin="round" points="1933.9,580.9 1997.2,547.3"/>
<polygon fill="none" stroke="#1e1e1e" stroke-width="0.9" stroke-linejoin="round" points="1281.2,1501.9 1397.4,1524.5 1426.4,1572.9 1410.3,1611.6 1358.6,1618.1 1329.6,1592.3"/>
<polygon fill="none" stroke="#1e1e1e" stroke-width="0.9" stroke-linejoin="round" points="1174.7,1592.3 1223.1,1566.4 1239.2,1592.3 1194.1,1621.3"/>
<polygon fill="none" stroke="#1e1e1e" stroke-width="0.9" stroke-linejoin="round" points="1242.5,1695.5 1294.1,1676.2 1303.8,1695.5 1252.2,1714.9"/>
<polygon fill="none" stroke="#1e1e1e" stroke-width="0.9" stroke-linejoin="round" points="1258.6,1721.3 1329.6,1695.5 1361.9,1766.5 1290.9,1798.8"/>
<polygon fill="none" stroke="#1e1e1e" stroke-width="0.9" stroke-linejoin="round" points="1313.5,1682.6 1345.7,1669.7 1387.7,1740.7 1361.9,1753.6"/>
<polygon fill="none" stroke="#1e1e1e" stroke-width="0.9" stroke-linejoin="round" points="1319.9,1811.7 1374.8,1779.4 1394.1,1811.7 1342.5,1844.0"/>
<polygon fill="none" stroke="#1e1e1e" stroke-width="0.9" stroke-linejoin="round" points="1349.0,1753.6 1387.7,1737.5 1403.8,1766.5 1365.1,1782.7"/>
<polyline fill="none" stroke="#1e1e1e" stroke-width="1.1" stroke-linejoin="round" points="1161.8,1572.9 1265.1,1753.6 1323.1,1871.7"/>
<circle cx="1602.8" cy="365.7" r="12.4" fill="#fff" stroke="#1e1e1e" stroke-width="1.1"/>
<circle cx="968.8" cy="586.0" r="6.5" fill="#fff" stroke="#1e1e1e" stroke-width="1.1"/>
<circle cx="925.5" cy="1568.4" r="10.3" fill="#fff" stroke="#1e1e1e" stroke-width="1.1"/>
<circle cx="1584.5" cy="1121.8" r="7.3" fill="#fff" stroke="#1e1e1e" stroke-width="1.1"/>
<circle cx="1657.7" cy="1190.6" r="6.0" fill="#fff" stroke="#1e1e1e" stroke-width="1.1"/>
<circle cx="1946.0" cy="1420.8" r="16.4" fill="#fff" stroke="#1e1e1e" stroke-width="1.1"/>
<circle cx="1662.2" cy="2225.7" r="12.0" fill="#fff" stroke="#1e1e1e" stroke-width="1.1"/>
<circle cx="1662.2" cy="2225.7" r="9.9" fill="#fff" stroke="#1e1e1e" stroke-width="1.1"/>
<circle cx="615.3" cy="545.4" r="10.3" fill="#fff" stroke="#1e1e1e" stroke-width="1.1"/>
<circle cx="748.5" cy="556.8" r="11.7" fill="#fff" stroke="#1e1e1e" stroke-width="1.1"/>
<ellipse cx="1520.0" cy="1405.8" rx="13" ry="24.5" transform="rotate(-5 1520.0 1405.8)" fill="#fff" stroke="#1e1e1e" stroke-width="1.1"/>
<polygon fill="#fff" stroke="#1e1e1e" stroke-width="1.0" stroke-linejoin="round" points="727.2,401.9 746.1,383.6 765.1,398.4 746.1,427.0 737.5,427.7 723.8,415.6"/>
<polyline fill="none" stroke="#1e1e1e" stroke-width="5.9" stroke-linejoin="round" points="973.3,601.3 981.9,628.8 999.1,690.8 1012.9,739.0"/>
<polyline fill="none" stroke="#fff" stroke-width="4.1" stroke-linejoin="round" points="973.3,601.3 981.9,628.8 999.1,690.8 1012.9,739.0"/>
<polyline fill="none" stroke="#1e1e1e" stroke-width="5.9" stroke-linejoin="round" points="1025.6,801.0 1025.0,918.0"/>
<polyline fill="none" stroke="#fff" stroke-width="4.1" stroke-linejoin="round" points="1025.6,801.0 1025.0,918.0"/>
<polyline fill="none" stroke="#1e1e1e" stroke-width="5.9" stroke-linejoin="round" points="1033.6,938.7 1050.8,973.1 1085.2,1069.5 1099.0,1104.9 1108.3,1139.0 1138.5,1160.5 1172.9,1174.3"/>
<polyline fill="none" stroke="#fff" stroke-width="4.1" stroke-linejoin="round" points="1033.6,938.7 1050.8,973.1 1085.2,1069.5 1099.0,1104.9 1108.3,1139.0 1138.5,1160.5 1172.9,1174.3"/>
<polyline fill="none" stroke="#1e1e1e" stroke-width="5.9" stroke-linejoin="round" points="979.6,573.1 1020.5,521.5 1033.4,505.3"/>
<polyline fill="none" stroke="#fff" stroke-width="4.1" stroke-linejoin="round" points="979.6,573.1 1020.5,521.5 1033.4,505.3"/>
<polyline fill="none" stroke="#1e1e1e" stroke-width="5.9" stroke-linejoin="round" points="1050.6,484.9 1070.0,461.2"/>
<polyline fill="none" stroke="#fff" stroke-width="4.1" stroke-linejoin="round" points="1050.6,484.9 1070.0,461.2"/>
<polyline fill="none" stroke="#1e1e1e" stroke-width="5.9" stroke-linejoin="round" points="1296.4,577.4 1365.2,524.1 1420.3,479.3 1468.5,443.2"/>
<polyline fill="none" stroke="#fff" stroke-width="4.1" stroke-linejoin="round" points="1296.4,577.4 1365.2,524.1 1420.3,479.3 1468.5,443.2"/>
<polyline fill="none" stroke="#1e1e1e" stroke-width="4.4" stroke-linejoin="round" points="949.1,1539.1 1181.5,1222.9"/>
<polyline fill="none" stroke="#fff" stroke-width="2.6" stroke-linejoin="round" points="949.1,1539.1 1181.5,1222.9"/>
<polyline fill="none" stroke="#1e1e1e" stroke-width="3.9" stroke-linejoin="round" points="944.8,1575.7 1095.4,1534.8 1267.6,1491.8 1450.0,1442.3 1500.6,1431.6"/>
<polyline fill="none" stroke="#fff" stroke-width="2.1" stroke-linejoin="round" points="944.8,1575.7 1095.4,1534.8 1267.6,1491.8 1450.0,1442.3 1500.6,1431.6"/>
<polyline fill="none" stroke="#1e1e1e" stroke-width="3.9" stroke-linejoin="round" points="1769.7,625.4 1785.2,663.3 1797.2,714.9 1800.7,766.5 1795.5,818.2 1785.2,862.9 1768.0,904.2 1743.9,935.2 1709.5,980.0 1680.2,1016.1"/>
<polyline fill="none" stroke="#fff" stroke-width="2.1" stroke-linejoin="round" points="1769.7,625.4 1785.2,663.3 1797.2,714.9 1800.7,766.5 1795.5,818.2 1785.2,862.9 1768.0,904.2 1743.9,935.2 1709.5,980.0 1680.2,1016.1"/>
<polyline fill="none" stroke="#1e1e1e" stroke-width="3.9" stroke-linejoin="round" points="1575.9,1132.5 1543.6,1190.6 1526.4,1263.8 1520.4,1341.2 1520.4,1375.6"/>
<polyline fill="none" stroke="#fff" stroke-width="2.1" stroke-linejoin="round" points="1575.9,1132.5 1543.6,1190.6 1526.4,1263.8 1520.4,1341.2 1520.4,1375.6"/>
<polyline fill="none" stroke="#1e1e1e" stroke-width="4.4" stroke-linejoin="round" points="1535.0,1440.2 1608.2,1577.9 1685.6,1721.2 1721.2,1774.8 1865.3,2033.0"/>
<polyline fill="none" stroke="#fff" stroke-width="2.6" stroke-linejoin="round" points="1535.0,1440.2 1608.2,1577.9 1685.6,1721.2 1721.2,1774.8 1865.3,2033.0"/>
<polyline fill="none" stroke="#1e1e1e" stroke-width="2.7" stroke-linejoin="round" points="1209.5,1205.7 1267.6,1255.1 1319.2,1306.8 1383.7,1375.6"/>
<polyline fill="none" stroke="#fff" stroke-width="0.9" stroke-linejoin="round" points="1209.5,1205.7 1267.6,1255.1 1319.2,1306.8 1383.7,1375.6"/>
<polyline fill="none" stroke="#1e1e1e" stroke-width="3.9" stroke-linejoin="round" points="1544.2,433.9 1578.7,439.7 1606.2,452.5 1647.5,475.9 1681.9,501.7 1706.0,527.5"/>
<polyline fill="none" stroke="#fff" stroke-width="2.1" stroke-linejoin="round" points="1544.2,433.9 1578.7,439.7 1606.2,452.5 1647.5,475.9 1681.9,501.7 1706.0,527.5"/>
<polyline fill="none" stroke="#1e1e1e" stroke-width="1.1" stroke-linejoin="round" points="1602.1,264.2 1602.1,351.9"/>
<polyline fill="none" stroke="#1e1e1e" stroke-width="1.1" stroke-linejoin="round" points="1599.3,379.5 1598.6,434.6"/>
<polyline fill="none" stroke="#1e1e1e" stroke-width="1.1" stroke-linejoin="round" points="1604.1,379.5 1604.1,438.0"/>
<polyline fill="none" stroke="#1e1e1e" stroke-width="3.4" stroke-linejoin="round" points="1474.7,264.2 1477.5,300.3 1484.3,341.6 1491.2,379.5"/>
<polyline fill="none" stroke="#fff" stroke-width="1.6" stroke-linejoin="round" points="1474.7,264.2 1477.5,300.3 1484.3,341.6 1491.2,379.5"/>
<polyline fill="none" stroke="#1e1e1e" stroke-width="3.1" stroke-linejoin="round" points="779.5,739.0 785.7,780.3 799.5,869.8 813.9,967.9"/>
<polyline fill="none" stroke="#fff" stroke-width="1.3000000000000003" stroke-linejoin="round" points="779.5,739.0 785.7,780.3 799.5,869.8 813.9,967.9"/>
<polyline fill="none" stroke="#1e1e1e" stroke-width="1.3" stroke-linejoin="round" points="1064.5,346.8 1016.4,345.1 988.8,351.9 975.0,360.6 947.5,386.4 913.1,420.8 878.7,450.1"/>
<polyline fill="none" stroke="#1e1e1e" stroke-width="1.1" stroke-linejoin="round" points="741.0,434.6 747.2,537.8"/>
<polyline fill="none" stroke="#1e1e1e" stroke-width="1.1" stroke-linejoin="round" points="745.1,434.6 753.0,530.9"/>
<polyline fill="none" stroke="#1e1e1e" stroke-width="2.2" stroke-linejoin="round" points="1136.7,409.6 1244.2,330.0"/>
<polyline fill="none" stroke="#1e1e1e" stroke-width="1.2" stroke-linejoin="round" points="603.3,536.1 562.0,513.7 522.4,489.6 510.3,465.5"/>
<polyline fill="none" stroke="#1e1e1e" stroke-width="1.2" stroke-linejoin="round" points="627.4,553.3 651.5,568.8 679.0,579.1 706.5,577.4 727.2,568.8"/>
<polygon fill="none" stroke="#1e1e1e" stroke-width="1.0" stroke-linejoin="round" points="1345.0,856.5 1351.3,850.5 1362.5,848.8 1370.3,856.5 1372.0,863.4 1359.1,874.6 1353.9,872.0"/>
<polygon fill="none" stroke="#1e1e1e" stroke-width="1.0" stroke-linejoin="round" points="1509.7,819.5 1517.1,805.7 1512.3,816.1"/>
<polyline fill="none" stroke="#1e1e1e" stroke-width="0.9" stroke-linejoin="round" points="1252.4,798.0 1267.0,806.6 1279.1,796.3"/>
<polyline fill="none" stroke="#1e1e1e" stroke-width="4.9" stroke-linejoin="round" points="1591.8,1129.1 1651.2,1185.4"/>
<polyline fill="none" stroke="#fff" stroke-width="3.1" stroke-linejoin="round" points="1591.8,1129.1 1651.2,1185.4"/>
<polyline fill="none" stroke="#1e1e1e" stroke-width="4.9" stroke-linejoin="round" points="1664.1,1197.1 1707.1,1263.8 1754.5,1311.1 1806.1,1343.4 1866.4,1379.9 1930.9,1413.5"/>
<polyline fill="none" stroke="#fff" stroke-width="3.1" stroke-linejoin="round" points="1664.1,1197.1 1707.1,1263.8 1754.5,1311.1 1806.1,1343.4 1866.4,1379.9 1930.9,1413.5"/>
<polyline fill="none" stroke="#bdbdbd" stroke-width="3.9" stroke-linejoin="round" points="1783.7,1076.6 1773.8,1100.2 1762.2,1147.6 1755.8,1212.1 1754.5,1298.2 1756.6,1384.2 1765.2,1470.3 1780.3,1577.9 1806.1,1663.9 1827.6,1721.2 1852.4,1736.1 1895.4,1830.7 1947.1,1899.6 2024.5,1977.0 2110.6,2080.3 2250.0,2252.4"/>
<polyline fill="none" stroke="#fff" stroke-width="2.1" stroke-linejoin="round" points="1783.7,1076.6 1773.8,1100.2 1762.2,1147.6 1755.8,1212.1 1754.5,1298.2 1756.6,1384.2 1765.2,1470.3 1780.3,1577.9 1806.1,1663.9 1827.6,1721.2 1852.4,1736.1 1895.4,1830.7 1947.1,1899.6 2024.5,1977.0 2110.6,2080.3 2250.0,2252.4"/>
<rect x="-8.6" y="-2.2" width="17.2" height="4.3" fill="#4a2300" transform="translate(1812.6 1302.5) rotate(-58)"/>
<rect x="-6.5" y="-1.9" width="12.9" height="3.9" fill="#4a2300" transform="translate(1825.5 1308.9) rotate(-58)"/>
<rect x="-7.7" y="-2.6" width="15.5" height="5.2" fill="#4a2300" transform="translate(1836.2 1298.2) rotate(-58)"/>
<rect x="-7.3" y="-2.2" width="14.6" height="4.3" fill="#4a2300" transform="translate(1849.1 1293.9) rotate(-58)"/>
<rect x="-5.2" y="-3.0" width="10.3" height="6.0" fill="#4a2300" transform="translate(1831.9 1319.7) rotate(32)"/>
<rect x="-4.7" y="-2.6" width="9.5" height="5.2" fill="#4a2300" transform="translate(1851.3 1304.6) rotate(32)"/>
<rect x="-4.3" y="-1.9" width="8.6" height="3.9" fill="#4a2300" transform="translate(1859.9 1289.6) rotate(-58)"/><path fill="none" stroke="#222" stroke-width="0.9" d="M206.6,209.7 L201.5,220.6 L191.7,216.0 L196.8,205.1Z M248.8,213.6 L257.4,217.6 L254.9,222.9 L246.4,218.9Z M240.4,204.0 L252.1,211.0 L248.5,217.0 L236.8,210.0Z M253.2,193.8 L269.0,203.1 L262.5,214.1 L246.8,204.8Z M217.0,252.7 L226.7,258.0 L223.8,263.2 L214.2,258.0Z M171.7,198.4 L183.3,206.0 L179.6,211.7 L168.0,204.1Z M250.5,225.5 L258.8,229.4 L255.7,236.0 L247.4,232.1Z M208.7,221.4 L224.3,228.8 L220.4,237.0 L204.8,229.6Z M244.5,210.4 L240.3,219.4 L231.8,215.5 L236.0,206.4Z M237.8,262.9 L248.4,269.3 L244.2,276.2 L233.7,269.9Z M240.3,271.4 L255.9,281.4 L250.9,289.2 L235.3,279.2Z M230.4,251.8 L221.6,268.3 L213.6,264.0 L222.5,247.5Z M322.8,183.3 L340.5,171.2 L344.7,177.4 L335.9,183.4 L340.1,189.6 L331.3,195.6Z M339.1,202.8 L348.5,217.4 L344.6,219.9 L340.0,212.6 L336.1,215.1 L331.4,207.8Z M341.2,148.8 L364.0,196.8 L347.8,204.5 L325.0,156.4Z M302.5,133.3 L317.3,126.1 L319.8,131.1 L312.4,134.7 L314.8,139.8 L307.4,143.4Z M308.6,131.4 L339.8,117.1 L346.3,131.2 L315.0,145.5Z M357.8,171.6 L366.4,188.9 L350.8,196.7 L342.2,179.4Z M328.8,122.8 L346.1,115.0 L353.0,130.4 L335.7,138.2Z M305.8,171.3 L317.3,187.9 L309.5,193.2 L298.0,176.7Z M284.7,209.8 L304.3,200.9 L311.2,216.0 L291.6,224.9Z M501.9,134.9 L511.6,138.4 L510.4,141.7 L505.6,139.9 L504.4,143.2 L499.5,141.4Z M474.7,143.3 L482.7,146.3 L481.7,149.1 L477.7,147.6 L476.6,150.5 L472.6,149.0Z M546.8,144.1 L543.4,154.9 L536.0,152.5 L539.4,141.7Z M473.5,159.5 L482.9,163.5 L480.2,170.0 L470.7,166.0Z M802.2,185.0 L825.2,153.0 L831.5,157.6 L808.6,189.6Z M798.0,159.5 L815.3,137.3 L823.3,143.5 L806.0,165.8Z M759.8,131.8 L783.1,150.0 L776.4,158.5 L753.1,140.4Z M743.6,154.9 L751.7,141.7 L758.4,145.8 L750.2,159.0Z M777.0,94.3 L809.1,110.7 L803.1,122.5 L770.9,106.1Z M822.0,272.5 L843.1,237.7 L853.3,243.9 L832.2,278.7Z M694.9,273.1 L725.9,296.8 L718.7,306.2 L687.7,282.5Z M704.1,119.9 L739.3,138.5 L736.0,144.9 L700.7,126.3Z M837.6,247.0 L852.2,217.5 L860.1,221.4 L845.5,250.9Z M797.7,132.5 L809.6,116.0 L814.5,119.5 L808.5,127.7 L813.4,131.3 L807.4,139.5Z M665.7,177.3 L675.8,183.3 L672.1,189.7 L661.9,183.7Z M666.4,198.5 L657.2,215.1 L647.3,209.5 L656.5,193.0Z M683.2,188.1 L691.0,193.2 L686.0,200.8 L678.2,195.7Z M698.9,171.1 L708.4,176.8 L704.9,182.7 L695.4,177.0Z M693.0,192.4 L688.0,203.2 L683.2,200.9 L685.7,195.6 L680.8,193.3 L683.3,187.9Z M335.7,343.5 L341.3,340.1 L344.5,345.5 L338.9,348.8Z M396.2,377.4 L401.8,388.6 L395.1,391.9 L389.5,380.7Z M364.2,374.9 L372.8,393.0 L369.0,394.8 L364.7,385.8 L360.9,387.5 L356.6,378.5Z M388.8,370.1 L393.6,377.5 L388.6,380.7 L383.8,373.4Z M416.6,404.4 L421.5,413.6 L414.1,417.7 L409.1,408.4Z M358.0,349.1 L369.5,342.1 L372.8,347.5 L361.3,354.5Z M453.8,411.1 L457.9,417.9 L453.8,420.4 L449.7,413.6Z M372.5,343.7 L380.1,339.2 L383.1,344.2 L375.5,348.7Z M370.2,394.0 L376.7,391.0 L378.1,394.0 L374.8,395.5 L376.1,398.5 L372.9,400.0Z M360.1,337.7 L370.1,332.9 L373.6,339.9 L363.6,344.8Z M416.1,420.5 L421.4,430.0 L416.1,433.0 L410.8,423.5Z M338.6,340.8 L348.8,334.2 L350.9,337.3 L345.7,340.6 L347.7,343.7 L342.6,347.0Z M339.9,359.1 L348.3,355.1 L351.4,361.4 L342.9,365.5Z M368.3,388.6 L378.1,381.6 L383.1,388.7 L373.3,395.7Z M443.3,428.3 L449.3,425.1 L451.8,429.7 L445.9,433.0Z M353.5,377.0 L362.9,372.8 L364.4,376.1 L359.7,378.2 L361.2,381.6 L356.5,383.7Z M328.2,383.3 L342.5,376.7 L344.4,380.7 L337.2,384.0 L339.1,388.1 L331.9,391.4Z M425.3,377.0 L438.6,371.0 L441.2,376.9 L428.0,382.9Z M498.5,283.8 L495.7,290.7 L492.0,289.3 L494.8,282.3Z M505.3,270.6 L503.7,274.2 L500.3,272.6 L502.0,269.1Z M483.6,319.9 L490.5,322.6 L488.7,327.2 L481.8,324.5Z M484.5,279.9 L488.5,281.7 L486.6,285.7 L482.7,283.8Z M510.4,282.6 L520.2,285.4 L518.0,293.0 L508.2,290.1Z M484.8,286.7 L492.4,288.7 L490.7,294.8 L483.2,292.7Z M494.5,314.5 L492.6,320.7 L487.9,319.3 L489.8,313.1Z M517.9,326.7 L514.4,336.9 L508.5,334.9 L511.9,324.7Z M535.5,274.5 L545.4,278.9 L542.8,284.9 L532.8,280.5Z M358.7,433.6 L346.6,456.3 L339.1,452.3 L351.1,429.6Z M392.2,387.8 L376.0,419.3 L368.5,415.4 L384.7,384.0Z M313.9,397.8 L326.6,403.3 L324.4,408.5 L311.7,403.0Z M294.4,395.8 L308.7,400.7 L306.2,408.0 L291.9,403.0Z M363.0,440.4 L387.7,453.4 L384.1,460.2 L359.4,447.1Z M370.4,476.1 L392.4,487.7 L389.5,493.2 L367.5,481.5Z M952.2,135.8 L972.7,124.6 L977.4,133.3 L957.0,144.4Z M907.1,115.8 L924.6,106.2 L926.5,109.8 L917.8,114.5 L919.7,118.1 L910.9,122.8Z M953.0,141.1 L967.6,133.3 L974.0,145.5 L959.4,153.2Z M968.1,133.8 L974.8,143.8 L966.6,149.2 L960.0,139.2Z M1001.2,104.3 L1024.5,93.9 L1028.4,102.7 L1005.1,113.1Z M1013.5,176.1 L1017.4,182.8 L1011.6,186.1 L1007.8,179.3Z M921.0,157.2 L935.6,181.0 L927.0,186.3 L912.4,162.5Z M1005.8,124.6 L1016.5,142.7 L1010.2,146.4 L999.5,128.3Z M461.0,727.0 L471.0,729.3 L469.8,734.7 L459.7,732.4Z M509.3,813.5 L508.2,818.5 L503.3,817.4 L504.4,812.5Z M502.1,819.1 L511.0,822.0 L508.9,828.6 L499.9,825.7Z M482.5,684.5 L494.2,687.0 L492.7,694.1 L481.0,691.7Z M519.8,704.3 L530.6,708.0 L528.7,713.6 L517.9,709.9Z M584.0,810.4 L594.8,814.4 L592.5,820.7 L581.6,816.7Z M546.0,696.3 L543.7,708.5 L535.5,707.0 L537.8,694.8Z M491.2,718.7 L505.9,722.4 L505.0,726.1 L497.6,724.3 L496.7,728.0 L489.3,726.2Z M516.6,774.0 L524.0,775.5 L523.1,780.0 L515.7,778.5Z M514.8,707.0 L531.3,711.2 L529.3,719.5 L512.7,715.3Z M478.1,702.6 L486.9,704.4 L485.5,711.1 L476.7,709.2Z M587.9,784.9 L586.2,793.3 L580.2,792.0 L582.0,783.6Z M567.1,749.1 L564.7,758.1 L558.1,756.4 L560.5,747.3Z M577.8,709.1 L584.2,711.1 L582.6,716.2 L576.2,714.3Z M277.4,549.0 L292.7,554.7 L288.6,565.8 L273.3,560.1Z M308.4,539.6 L303.5,551.6 L297.9,549.4 L302.9,537.3Z M280.5,509.4 L276.4,526.7 L269.6,525.1 L273.7,507.8Z M325.8,552.2 L339.8,555.2 L338.6,560.7 L331.6,559.3 L330.4,564.8 L323.5,563.3Z M325.3,495.2 L315.0,533.8 L305.0,531.1 L315.4,492.5Z M336.5,510.2 L332.4,526.2 L326.2,524.6 L330.3,508.6Z M429.5,478.3 L444.3,474.5 L446.2,481.9 L431.4,485.7Z M438.7,516.2 L446.0,513.9 L447.9,519.8 L440.5,522.1Z M386.1,518.4 L397.1,513.7 L400.4,521.4 L389.5,526.1Z M405.2,517.6 L419.1,513.2 L420.4,517.2 L413.5,519.4 L414.8,523.5 L407.8,525.7Z M432.6,537.4 L441.0,533.9 L443.9,540.9 L435.5,544.3Z M61.4,615.3 L61.4,629.0 L56.2,629.0 L56.2,622.1 L50.9,622.1 L50.9,615.3Z M46.4,635.9 L65.8,637.6 L65.3,642.6 L55.6,641.7 L55.2,646.7 L45.5,645.8Z M34.3,655.5 L48.8,655.2 L49.0,663.7 L34.5,664.0Z M2223.3,396.6 L2253.4,380.1 L2259.2,390.6 L2229.1,407.1Z M2164.6,363.9 L2181.3,358.2 L2183.6,364.9 L2167.0,370.7Z M2090.6,321.2 L2099.9,317.0 L2102.2,322.0 L2092.9,326.2Z M2137.2,399.2 L2153.3,389.7 L2156.9,395.9 L2140.8,405.4Z M2139.4,414.2 L2148.8,408.6 L2152.0,414.1 L2142.6,419.7Z M2224.2,395.9 L2229.5,393.8 L2231.4,398.8 L2226.1,400.8Z M2103.4,318.2 L2118.4,312.9 L2121.5,321.6 L2106.5,326.9Z M2118.5,390.6 L2128.8,386.4 L2131.6,393.0 L2121.2,397.3Z M2218.9,417.7 L2232.0,411.6 L2234.4,416.5 L2221.3,422.7Z M2247.2,355.7 L2258.2,349.5 L2261.5,355.4 L2250.6,361.5Z M2068.4,415.6 L2084.0,408.7 L2086.8,415.3 L2071.3,422.1Z M2128.0,350.8 L2138.9,345.4 L2141.2,350.1 L2135.8,352.8 L2138.1,357.5 L2132.6,360.2Z M2510.1,504.1 L2533.6,495.9 L2536.2,503.3 L2512.7,511.5Z M2650.4,435.2 L2656.5,433.1 L2658.1,437.5 L2652.0,439.6Z M2452.4,416.3 L2485.0,403.1 L2487.8,410.2 L2455.3,423.4Z M2580.5,398.4 L2591.3,419.0 L2581.9,424.0 L2571.0,403.4Z M2483.9,466.2 L2493.9,462.5 L2495.8,467.6 L2485.8,471.3Z M2485.8,461.0 L2519.0,446.7 L2521.4,452.2 L2504.8,459.3 L2507.1,464.8 L2490.5,471.9Z M2526.6,397.9 L2543.7,391.3 L2545.1,395.1 L2528.0,401.6Z M2440.2,436.4 L2444.4,444.0 L2440.0,446.4 L2435.9,438.8Z M2544.9,402.6 L2557.1,436.7 L2552.9,438.1 L2546.9,421.1 L2542.7,422.6 L2536.6,405.6Z M2558.2,499.6 L2570.4,492.4 L2573.3,497.4 L2561.1,504.6Z M2415.5,523.7 L2458.8,502.5 L2463.8,512.6 L2420.5,533.8Z M2564.8,405.0 L2575.8,398.6 L2577.9,402.3 L2566.9,408.7Z M2512.7,484.9 L2523.9,479.4 L2527.9,487.6 L2516.8,493.1Z M2655.9,501.3 L2659.5,509.4 L2652.8,512.4 L2649.2,504.3Z M2509.3,542.4 L2535.6,529.4 L2540.9,540.1 L2514.6,553.1Z M2639.3,465.3 L2646.2,461.9 L2648.5,466.7 L2641.6,470.0Z M2534.7,411.5 L2539.5,423.8 L2535.6,425.3 L2530.8,413.0Z M2550.8,551.7 L2565.6,544.0 L2570.2,552.8 L2555.4,560.5Z M2623.5,413.2 L2653.2,397.8 L2656.8,404.9 L2627.1,420.2Z M2438.8,538.3 L2448.7,558.3 L2442.9,561.2 L2433.0,541.2Z M2560.1,536.2 L2580.2,527.5 L2582.3,532.3 L2562.2,541.1Z M2476.6,466.3 L2481.5,475.0 L2474.0,479.2 L2469.2,470.5Z M2466.4,549.3 L2473.0,566.7 L2463.2,570.5 L2456.5,553.0Z M2581.5,436.1 L2589.0,454.8 L2582.3,457.4 L2574.9,438.7Z M2500.0,424.2 L2507.7,440.0 L2504.5,441.5 L2500.7,433.6 L2497.5,435.2 L2493.6,427.3Z M2558.7,477.2 L2581.0,468.7 L2583.1,474.1 L2560.8,482.7Z M2681.2,391.7 L2696.5,384.6 L2699.4,390.8 L2684.1,398.0Z M2613.4,390.7 L2624.2,414.0 L2619.1,416.4 L2613.7,404.7 L2608.5,407.1 L2603.1,395.5Z M2702.0,454.9 L2718.9,449.1 L2722.7,460.0 L2705.8,465.9Z M2760.1,419.6 L2792.5,406.0 L2797.1,416.9 L2764.7,430.5Z M2642.2,553.4 L2658.9,547.2 L2662.0,555.5 L2645.3,561.7Z M2760.0,411.5 L2794.3,396.3 L2797.5,403.6 L2763.2,418.8Z M2655.7,448.5 L2660.7,462.2 L2655.4,464.1 L2650.5,450.4Z M2796.4,403.9 L2804.0,416.8 L2795.1,422.0 L2787.5,409.1Z M2795.3,477.1 L2822.4,462.7 L2826.3,469.9 L2799.2,484.3Z M2778.1,534.6 L2794.0,527.4 L2796.8,533.8 L2780.9,540.9Z M2757.1,473.8 L2776.2,463.8 L2778.7,468.6 L2759.6,478.6Z M2645.1,587.4 L2692.9,567.9 L2697.0,578.1 L2649.2,597.6Z M2639.4,438.9 L2661.9,430.6 L2663.5,434.8 L2652.2,439.0 L2653.8,443.2 L2642.5,447.4Z M2650.6,515.2 L2654.3,513.3 L2656.2,517.0 L2652.5,518.9Z M2713.0,464.0 L2722.0,460.1 L2724.6,466.0 L2715.5,469.9Z M2628.1,576.3 L2636.3,571.5 L2639.3,576.7 L2631.1,581.5Z M2721.2,439.7 L2768.1,419.6 L2772.3,429.2 L2725.4,449.4Z M2675.4,496.7 L2690.6,529.1 L2687.2,530.7 L2679.6,514.5 L2676.2,516.1 L2668.6,499.9Z M2600.9,390.1 L2607.2,386.4 L2609.3,390.1 L2603.0,393.8Z M2597.0,492.9 L2613.4,485.3 L2618.3,495.8 L2601.8,503.4Z M2728.9,467.7 L2752.9,455.3 L2754.9,459.2 L2742.9,465.4 L2745.0,469.4 L2733.0,475.6Z M2788.0,541.1 L2797.2,537.4 L2800.9,546.4 L2791.6,550.2Z M2758.1,472.3 L2765.6,469.1 L2767.9,474.4 L2760.4,477.7Z M2781.7,574.5 L2802.6,563.4 L2808.0,573.6 L2787.1,584.7Z M2628.5,665.6 L2632.2,675.9 L2625.5,678.4 L2621.8,668.1Z M2587.2,635.4 L2594.0,647.8 L2589.6,650.2 L2582.8,637.8Z M2672.0,609.4 L2685.1,604.6 L2687.3,610.5 L2674.2,615.3Z M2656.1,648.4 L2663.5,666.1 L2654.3,669.9 L2647.0,652.2Z M2620.1,664.7 L2630.8,659.4 L2634.1,666.0 L2623.4,671.3Z M2642.3,604.7 L2644.0,609.5 L2640.1,611.0 L2638.3,606.1Z M2593.9,587.5 L2599.0,596.3 L2595.3,598.4 L2590.2,589.7Z M2586.1,672.0 L2590.2,683.2 L2586.2,684.7 L2584.1,679.1 L2580.1,680.6 L2578.0,674.9Z M2667.0,683.7 L2677.3,678.0 L2679.6,682.3 L2674.5,685.1 L2676.8,689.3 L2671.6,692.1Z M2685.3,678.5 L2689.3,687.7 L2681.5,691.0 L2677.5,681.9Z M2586.2,671.6 L2597.5,666.1 L2599.2,669.6 L2593.6,672.4 L2595.3,675.9 L2589.7,678.6Z M2599.0,618.2 L2612.4,612.9 L2615.5,620.6 L2602.1,625.9Z M2826.2,669.0 L2868.2,638.8 L2874.3,647.3 L2832.3,677.5Z M2822.3,691.8 L2838.2,681.1 L2843.4,688.7 L2827.4,699.5Z M2828.5,685.4 L2856.2,661.4 L2861.3,667.2 L2833.5,691.3Z M2839.9,700.3 L2861.3,688.2 L2864.8,694.4 L2843.4,706.5Z M2835.5,661.6 L2886.3,626.0 L2889.4,630.4 L2864.0,648.2 L2867.2,652.7 L2841.8,670.5Z M2151.8,613.6 L2182.6,603.3 L2185.9,613.3 L2155.1,623.6Z M2143.5,645.1 L2149.7,657.8 L2144.6,660.3 L2141.5,653.9 L2136.5,656.3 L2133.4,650.0Z M2125.9,709.2 L2133.0,725.9 L2125.2,729.3 L2118.0,712.6Z M2140.7,700.4 L2169.3,690.6 L2172.6,700.3 L2144.1,710.1Z M2185.9,660.0 L2202.3,653.8 L2205.4,662.1 L2189.1,668.3Z M2146.6,620.5 L2174.9,610.3 L2177.7,618.0 L2149.4,628.3Z M2167.1,709.6 L2195.3,700.8 L2198.0,709.7 L2169.8,718.5Z M2138.6,622.0 L2143.6,642.1 L2138.0,643.5 L2135.4,633.5 L2129.8,634.9 L2127.2,624.8Z M2166.2,626.6 L2174.6,624.0 L2176.4,629.8 L2168.0,632.4Z M2112.4,684.2 L2121.1,681.0 L2123.1,686.4 L2114.4,689.6Z M2253.1,887.6 L2280.1,892.2 L2279.2,897.6 L2252.2,893.1Z M2184.7,879.9 L2226.3,889.0 L2224.3,898.0 L2182.7,888.9Z M2222.8,925.8 L2216.1,956.4 L2207.6,954.5 L2214.3,923.9Z M2228.4,909.3 L2224.9,925.1 L2217.9,923.5 L2221.4,907.8Z M2109.2,882.7 L2123.6,885.2 L2122.8,889.7 L2115.6,888.4 L2114.9,892.8 L2107.7,891.6Z M2274.1,883.5 L2268.8,921.9 L2264.5,921.3 L2267.2,902.1 L2262.9,901.5 L2265.6,882.3Z M2256.2,944.5 L2265.6,945.5 L2265.1,950.2 L2255.7,949.2Z M2290.6,894.8 L2288.9,910.2 L2284.2,909.7 L2285.9,894.3Z M2065.2,927.3 L2061.1,942.3 L2057.9,941.5 L2060.0,933.9 L2056.8,933.1 L2058.9,925.5Z M2230.0,881.3 L2228.0,895.1 L2223.4,894.4 L2224.4,887.5 L2219.7,886.9 L2220.7,880.0Z M2118.5,885.3 L2129.3,887.5 L2128.4,891.5 L2117.7,889.3Z M2203.8,847.8 L2199.5,863.2 L2193.6,861.5 L2197.9,846.2Z M2281.2,890.2 L2304.8,896.0 L2303.6,901.0 L2280.0,895.2Z M2158.7,901.7 L2185.2,907.3 L2184.1,912.7 L2157.6,907.1Z M2259.2,868.4 L2255.0,912.5 L2244.0,911.5 L2248.3,867.4Z M2137.0,935.9 L2151.1,939.9 L2149.5,945.5 L2135.4,941.5Z M2180.8,924.5 L2177.7,947.6 L2168.2,946.4 L2171.3,923.2Z M2152.2,909.2 L2172.7,914.4 L2171.6,918.5 L2161.4,915.9 L2160.3,920.1 L2150.1,917.5Z M2253.4,940.9 L2267.9,943.9 L2266.9,948.6 L2259.7,947.1 L2258.7,951.7 L2251.5,950.2Z M2051.2,946.6 L2068.1,949.8 L2066.4,958.3 L2049.6,955.0Z M2094.3,887.8 L2111.2,891.8 L2110.1,896.5 L2101.7,894.4 L2100.6,899.0 L2092.1,897.0Z M2283.9,896.8 L2275.8,930.6 L2266.6,928.4 L2274.7,894.6Z M2408.9,724.2 L2425.3,717.3 L2426.7,720.6 L2418.5,724.0 L2419.9,727.4 L2411.7,730.8Z M2402.2,689.3 L2411.0,704.4 L2403.2,708.9 L2394.4,693.9Z M2407.1,697.7 L2414.6,710.2 L2408.6,713.7 L2401.2,701.3Z M2461.2,713.3 L2480.5,703.9 L2484.0,711.1 L2464.7,720.5Z M2506.5,677.4 L2519.4,671.8 L2521.9,677.4 L2509.0,683.1Z M2554.2,690.2 L2572.7,682.8 L2574.6,687.3 L2565.3,691.1 L2567.1,695.7 L2557.9,699.4Z M2422.5,695.2 L2425.1,700.3 L2420.8,702.4 L2418.3,697.4Z M2478.5,731.1 L2487.2,726.5 L2489.7,731.1 L2481.0,735.8Z M2430.2,692.1 L2441.0,688.0 L2443.5,694.5 L2432.6,698.6Z M2420.3,701.8 L2423.3,707.6 L2419.1,709.8 L2416.1,704.0Z M2500.4,732.6 L2509.8,728.3 L2511.6,732.1 L2502.1,736.4Z M2438.8,653.8 L2444.2,667.4 L2439.4,669.3 L2434.0,655.7Z M2480.5,705.5 L2483.6,713.0 L2477.8,715.4 L2474.7,707.9Z M2506.6,680.7 L2519.9,673.1 L2521.8,676.5 L2515.2,680.3 L2517.2,683.8 L2510.5,687.6Z M2706.3,956.4 L2723.5,948.2 L2725.9,953.4 L2717.4,957.5 L2719.8,962.7 L2711.3,966.8Z M2726.2,950.4 L2737.4,943.4 L2743.4,952.8 L2732.2,959.9Z M2750.2,971.3 L2759.1,967.0 L2761.9,972.6 L2753.0,977.0Z M2743.2,944.3 L2747.9,952.0 L2740.7,956.3 L2736.0,948.7Z M2757.8,1121.9 L2773.7,1110.8 L2777.9,1116.8 L2762.0,1127.9Z M2756.5,1065.5 L2760.6,1071.5 L2754.8,1075.5 L2750.7,1069.5Z M2521.5,1100.5 L2524.1,1105.1 L2519.8,1107.5 L2517.2,1102.9Z M2708.8,1098.1 L2720.2,1121.7 L2714.3,1124.6 L2702.9,1101.0Z M2506.1,1072.1 L2529.2,1061.3 L2531.1,1065.4 L2519.5,1070.7 L2521.4,1074.8 L2509.9,1080.2Z M2497.5,973.8 L2519.4,1005.1 L2511.1,1010.9 L2489.2,979.7Z M2692.1,1010.5 L2717.1,994.8 L2722.4,1003.3 L2697.4,1019.0Z M2694.7,1053.2 L2716.1,1040.0 L2718.8,1044.4 L2697.4,1057.6Z M2664.3,1044.9 L2689.2,1032.5 L2692.2,1038.5 L2667.3,1050.9Z M2573.7,972.0 L2595.6,1007.0 L2586.4,1012.7 L2564.6,977.7Z M2769.4,1098.7 L2786.1,1091.2 L2787.8,1094.9 L2779.4,1098.7 L2781.1,1102.5 L2772.8,1106.2Z M2597.5,1036.9 L2612.9,1027.0 L2615.4,1031.0 L2607.7,1035.9 L2610.3,1039.9 L2602.6,1044.8Z M2554.8,1048.2 L2583.9,1029.6 L2586.1,1033.0 L2571.5,1042.3 L2573.7,1045.7 L2559.2,1055.0Z M2750.6,1108.9 L2762.1,1130.7 L2757.7,1133.1 L2746.2,1111.3Z M2579.4,999.6 L2608.9,984.8 L2612.5,991.9 L2582.9,1006.6Z M2779.5,1020.8 L2785.8,1030.2 L2782.1,1032.7 L2775.9,1023.2Z M2707.6,1092.2 L2716.3,1087.8 L2717.9,1091.1 L2713.6,1093.2 L2715.2,1096.5 L2710.8,1098.7Z M2647.5,1111.2 L2674.8,1095.5 L2677.3,1099.9 L2663.7,1107.8 L2666.2,1112.2 L2652.6,1120.0Z M2556.0,985.3 L2566.2,1003.5 L2557.8,1008.2 L2547.6,990.0Z M2634.9,1007.3 L2654.3,998.0 L2656.1,1001.9 L2636.7,1011.2Z M2625.3,994.3 L2631.3,990.9 L2632.9,993.6 L2629.9,995.3 L2631.4,998.0 L2628.4,999.7Z M2500.8,1105.5 L2517.1,1130.3 L2508.7,1135.8 L2492.4,1111.1Z M2574.7,985.0 L2584.6,1006.9 L2578.2,1009.8 L2568.2,987.9Z M2501.6,1011.6 L2507.3,1007.6 L2510.4,1011.8 L2504.7,1015.9Z M2693.9,1028.8 L2715.5,1068.8 L2706.7,1073.5 L2685.2,1033.5Z M2693.8,996.1 L2704.7,991.1 L2707.3,996.7 L2696.4,1001.7Z M2604.7,1034.1 L2618.4,1054.9 L2614.1,1057.7 L2600.4,1036.9Z M2546.6,1041.2 L2586.7,1015.3 L2592.3,1024.0 L2552.3,1049.9Z M2703.9,1088.2 L2713.2,1083.5 L2716.5,1090.1 L2707.3,1094.7Z M2675.8,1030.0 L2704.1,1013.4 L2708.2,1020.5 L2679.9,1037.0Z M2273.4,1062.0 L2287.3,1058.3 L2289.3,1065.7 L2275.3,1069.4Z M2282.8,1112.0 L2295.4,1106.1 L2299.9,1115.7 L2287.3,1121.6Z M2263.0,1097.8 L2292.3,1089.5 L2295.2,1099.5 L2265.9,1107.9Z M2290.5,1048.8 L2298.2,1068.4 L2288.2,1072.4 L2280.5,1052.8Z M2313.9,1044.9 L2335.8,1038.8 L2338.0,1046.7 L2316.1,1052.7Z M2274.3,1042.8 L2292.0,1037.6 L2294.0,1044.2 L2276.2,1049.4Z M2246.5,1064.7 L2251.2,1074.6 L2243.6,1078.2 L2239.0,1068.3Z M2309.7,1046.6 L2322.3,1042.7 L2324.7,1050.7 L2312.1,1054.5Z M2280.9,1052.1 L2290.0,1048.4 L2292.6,1054.5 L2283.5,1058.3Z M2780.2,447.0 L2807.0,431.0 L2810.3,436.5 L2783.5,452.4Z M2844.9,390.8 L2885.8,363.4 L2891.6,372.0 L2850.6,399.3Z M2924.9,333.1 L2936.5,326.5 L2938.6,330.2 L2932.8,333.5 L2935.0,337.2 L2929.2,340.5Z M2806.7,391.3 L2831.0,433.2 L2821.8,438.6 L2797.5,396.6Z M2812.3,397.5 L2834.2,432.2 L2830.1,434.8 L2819.2,417.4 L2815.1,420.0 L2804.1,402.7Z M2891.2,372.9 L2913.3,417.7 L2903.7,422.5 L2881.6,377.6Z M2915.8,470.2 L2922.8,465.5 L2927.3,472.0 L2920.3,476.8Z M2827.5,398.0 L2834.6,409.6 L2824.5,415.9 L2817.4,404.2Z M2774.9,400.6 L2794.6,388.4 L2796.6,391.6 L2786.7,397.7 L2788.7,400.9 L2778.9,407.0Z M2913.8,458.7 L2934.6,499.4 L2930.0,501.8 L2919.6,481.4 L2915.1,483.7 L2904.7,463.3Z M2924.7,477.6 L2935.5,499.3 L2931.9,501.1 L2926.5,490.2 L2923.0,492.0 L2917.6,481.1Z M2816.5,306.2 L2829.0,298.0 L2833.9,305.5 L2821.4,313.7Z M2781.1,307.0 L2796.4,299.5 L2800.6,308.1 L2785.3,315.6Z M2850.9,338.6 L2867.0,330.2 L2868.8,333.6 L2860.7,337.8 L2862.4,341.1 L2854.4,345.3Z M2796.6,393.6 L2810.5,384.0 L2815.1,390.6 L2801.1,400.2Z M2862.4,337.7 L2881.4,328.0 L2884.0,333.2 L2865.0,342.9Z M2343.5,282.8 L2349.5,295.8 L2343.7,298.5 L2337.8,285.5Z M2375.0,265.7 L2384.6,261.8 L2386.9,267.3 L2377.3,271.3Z M2258.1,290.7 L2264.7,302.0 L2259.6,305.0 L2253.0,293.7Z M2385.5,283.4 L2391.9,294.1 L2387.2,296.9 L2380.8,286.2Z M2128.7,200.2 L2142.3,192.6 L2144.8,197.1 L2131.2,204.8Z M2314.1,294.0 L2337.1,280.4 L2341.1,287.1 L2318.1,300.7Z M2154.2,252.1 L2167.8,246.2 L2170.0,251.4 L2156.4,257.3Z M2234.3,214.8 L2250.5,206.6 L2252.6,211.0 L2244.6,215.1 L2246.8,219.4 L2238.7,223.5Z M2077.6,297.1 L2109.4,282.0 L2113.5,290.6 L2081.7,305.7Z M2119.0,168.2 L2127.2,164.6 L2129.2,168.9 L2120.9,172.6Z M2314.3,253.7 L2319.8,266.1 L2314.6,268.4 L2309.1,256.1Z M2140.4,247.0 L2148.1,263.2 L2141.9,266.1 L2134.3,249.9Z M2409.2,280.8 L2414.0,290.4 L2409.4,292.7 L2404.6,283.0Z M2443.0,372.9 L2451.7,368.4 L2454.4,373.7 L2445.7,378.2Z M2485.0,347.1 L2490.1,344.6 L2492.3,349.1 L2487.2,351.5Z M2510.1,299.3 L2519.8,295.9 L2522.6,303.9 L2512.9,307.2Z M2673.9,296.7 L2683.3,292.6 L2686.5,300.0 L2677.1,304.1Z M2635.1,313.6 L2653.7,303.9 L2657.6,311.3 L2639.0,321.1Z M2584.8,336.9 L2592.1,334.0 L2594.5,340.0 L2587.2,342.9Z M2541.7,373.7 L2554.5,368.9 L2557.1,375.9 L2544.3,380.7Z M2505.0,304.0 L2519.7,296.6 L2522.8,302.6 L2508.0,310.0Z M2573.2,331.2 L2582.2,326.7 L2584.0,330.3 L2575.0,334.8Z M2554.4,352.4 L2564.4,346.7 L2567.7,352.4 L2557.7,358.2Z M2483.2,358.2 L2508.1,349.5 L2511.1,358.0 L2486.2,366.7Z M2190.2,980.0 L2200.2,980.9 L2199.7,986.1 L2189.7,985.3Z M2150.1,1094.8 L2150.3,1104.7 L2143.7,1104.8 L2143.6,1094.9Z M2086.5,1058.0 L2092.9,1058.0 L2092.8,1061.2 L2089.7,1061.1 L2089.7,1064.3 L2086.5,1064.3Z M2123.1,1024.2 L2133.7,1025.2 L2133.1,1032.0 L2122.4,1031.0Z M2140.4,1049.2 L2139.8,1061.2 L2135.3,1061.0 L2135.6,1055.0 L2131.1,1054.7 L2131.4,1048.7Z M2123.7,1022.1 L2129.4,1021.6 L2129.7,1025.9 L2124.0,1026.4Z M1991.0,1056.5 L2018.0,1062.0 L2016.0,1071.7 L1989.0,1066.2Z M2015.0,935.3 L2031.7,938.7 L2029.9,947.9 L2013.1,944.4Z M1949.0,1094.5 L1957.5,1095.2 L1957.2,1099.1 L1953.0,1098.7 L1952.7,1102.6 L1948.5,1102.3Z M1999.1,1004.3 L2015.9,1007.6 L2014.1,1016.9 L1997.3,1013.6Z M1934.5,995.1 L1931.6,1005.9 L1924.5,1004.1 L1927.4,993.2Z M1926.4,935.8 L1924.1,945.4 L1920.4,944.5 L1921.6,939.7 L1917.9,938.8 L1919.0,934.1Z M1920.0,925.4 L1917.0,944.0 L1910.0,942.9 L1913.0,924.2Z M1993.3,1032.5 L2002.8,1033.9 L2002.3,1037.6 L1997.5,1036.9 L1997.0,1040.6 L1992.2,1039.9Z M3116.4,439.5 L3128.4,438.7 L3128.9,446.3 L3116.9,447.1Z M3078.2,455.9 L3088.0,455.8 L3088.1,461.3 L3078.2,461.5Z M3112.4,432.6 L3126.6,431.1 L3127.4,438.8 L3113.2,440.3Z M3148.0,482.1 L3157.5,481.6 L3157.7,486.6 L3148.3,487.1Z M3038.1,590.8 L3047.0,586.5 L3049.3,591.2 L3040.4,595.5Z M2913.9,582.2 L2919.1,580.2 L2921.1,585.4 L2915.9,587.4Z M2961.9,681.1 L2970.2,677.9 L2972.1,682.9 L2963.8,686.1Z M3005.9,613.3 L3013.1,609.9 L3015.6,615.2 L3008.5,618.6Z M2212.5,1152.6 L2224.4,1148.3 L2227.8,1157.7 L2215.8,1162.0Z M2256.7,1211.8 L2273.6,1205.1 L2277.5,1214.9 L2260.6,1221.6Z M2225.9,1292.5 L2235.8,1315.3 L2229.9,1317.9 L2220.0,1295.1Z M2275.8,1301.9 L2307.4,1291.1 L2311.3,1302.4 L2279.7,1313.3Z M2187.0,1240.2 L2209.3,1233.0 L2210.3,1236.1 L2199.2,1239.7 L2200.2,1242.8 L2189.0,1246.4Z M2335.4,1256.6 L2339.1,1267.2 L2329.4,1270.6 L2325.7,1260.0Z M2219.4,1143.7 L2239.7,1134.8 L2242.2,1140.5 L2221.9,1149.4Z M2142.0,1299.5 L2173.5,1284.7 L2178.0,1294.3 L2146.5,1309.1Z M2184.5,1147.3 L2202.3,1142.2 L2205.1,1151.9 L2187.3,1156.9Z M2261.8,1247.7 L2299.7,1229.5 L2304.5,1239.4 L2266.6,1257.6Z M2290.6,1179.3 L2298.8,1201.3 L2291.4,1204.1 L2283.2,1182.1Z M2227.2,1294.1 L2237.5,1291.3 L2239.0,1296.8 L2228.7,1299.6Z M2297.2,1132.2 L2304.8,1129.9 L2306.3,1134.9 L2298.8,1137.2Z M2307.0,1210.7 L2316.9,1245.3 L2307.8,1247.9 L2298.0,1213.3Z M2329.1,1320.5 L2348.0,1311.8 L2350.6,1317.4 L2341.2,1321.8 L2343.7,1327.4 L2334.3,1331.7Z M2347.1,1347.4 L2362.4,1375.3 L2354.9,1379.4 L2347.3,1365.4 L2339.8,1369.5 L2332.2,1355.5Z M2267.6,1303.4 L2284.7,1294.7 L2288.4,1301.7 L2279.8,1306.1 L2283.4,1313.2 L2274.8,1317.6Z M2322.2,1337.2 L2346.8,1323.2 L2354.4,1336.6 L2329.8,1350.6Z M2372.8,1332.0 L2380.3,1347.4 L2370.1,1352.4 L2362.6,1337.0Z M2308.9,1287.0 L2318.3,1306.3 L2304.8,1312.8 L2295.5,1293.6Z M2310.3,1296.4 L2327.7,1323.3 L2313.0,1332.8 L2295.6,1306.0Z M2703.2,1181.4 L2711.0,1177.9 L2713.3,1183.1 L2705.5,1186.6Z M2567.6,1181.7 L2575.9,1179.0 L2577.1,1182.5 L2568.8,1185.2Z M2587.5,1166.3 L2601.8,1161.7 L2603.4,1166.7 L2589.1,1171.2Z M2662.5,1175.4 L2671.5,1172.2 L2672.9,1176.2 L2663.9,1179.4Z M2577.9,1184.7 L2588.9,1181.5 L2590.6,1187.3 L2579.5,1190.5Z M2600.0,1145.5 L2604.2,1143.8 L2605.7,1147.5 L2601.5,1149.2Z M2606.3,1220.2 L2609.0,1226.9 L2605.4,1228.3 L2602.8,1221.6Z M2558.4,1100.5 L2577.5,1094.7 L2579.8,1102.3 L2560.8,1108.1Z M2663.0,1134.9 L2679.6,1127.6 L2682.1,1133.3 L2665.5,1140.6Z M2560.1,1211.0 L2564.4,1224.3 L2558.5,1226.3 L2554.1,1212.9Z M2591.8,1118.0 L2599.2,1114.9 L2600.4,1117.8 L2593.0,1120.9Z M2659.2,1203.1 L2662.0,1212.9 L2654.6,1215.1 L2651.8,1205.2Z M2601.8,1123.0 L2612.5,1118.1 L2615.4,1124.6 L2604.8,1129.5Z M2688.9,1130.4 L2690.0,1134.2 L2686.8,1135.1 L2685.8,1131.2Z M2620.8,1102.2 L2623.9,1109.1 L2620.2,1110.8 L2617.1,1103.9Z M2643.0,1108.6 L2651.1,1105.9 L2653.1,1112.1 L2645.0,1114.8Z M2705.1,1209.0 L2712.1,1205.6 L2714.4,1210.5 L2707.4,1213.9Z M2691.2,1196.8 L2694.6,1204.0 L2690.0,1206.2 L2686.5,1199.0Z M2691.4,1107.8 L2699.9,1105.5 L2700.7,1108.4 L2692.2,1110.7Z M2598.2,1156.2 L2607.5,1152.7 L2609.5,1158.2 L2600.2,1161.6Z M2631.2,1154.1 L2643.6,1150.9 L2645.0,1156.4 L2632.6,1159.6Z M2654.4,1200.4 L2656.9,1207.8 L2653.7,1208.8 L2651.3,1201.5Z M2618.5,1145.9 L2626.0,1143.3 L2628.1,1149.2 L2620.6,1151.9Z M2680.8,1128.0 L2696.0,1123.0 L2698.1,1129.4 L2682.9,1134.4Z M2641.4,1153.4 L2652.5,1148.8 L2654.7,1154.0 L2643.6,1158.7Z M2702.4,1124.5 L2711.7,1121.4 L2712.7,1124.6 L2708.1,1126.2 L2709.2,1129.4 L2704.6,1130.9Z M2662.5,1187.1 L2665.1,1194.5 L2661.2,1195.9 L2658.6,1188.4Z M2634.1,1175.2 L2640.0,1173.4 L2641.0,1176.7 L2635.1,1178.4Z M2636.9,1154.5 L2642.0,1174.7 L2635.0,1176.4 L2630.0,1156.2Z M2569.9,1205.9 L2576.2,1203.7 L2577.8,1208.3 L2571.5,1210.5Z M2645.5,1409.3 L2651.9,1405.5 L2654.7,1410.3 L2648.3,1414.1Z M2729.9,1371.5 L2736.6,1368.5 L2739.0,1374.1 L2732.3,1377.0Z M2697.1,1416.6 L2702.8,1431.6 L2690.9,1436.1 L2685.1,1421.1Z M2713.3,1314.4 L2717.1,1323.6 L2710.3,1326.3 L2706.6,1317.1Z M2712.3,1316.4 L2717.7,1327.1 L2708.4,1331.8 L2703.0,1321.1Z M2640.4,1419.0 L2645.1,1428.9 L2638.7,1432.0 L2633.9,1422.1Z M2692.0,1331.5 L2697.3,1328.6 L2699.8,1333.1 L2694.5,1336.0Z M2659.5,1397.7 L2668.8,1393.4 L2672.3,1401.1 L2663.0,1405.4Z M2714.6,1429.3 L2721.7,1426.0 L2723.8,1430.7 L2716.8,1434.0Z M2847.9,1196.1 L2851.0,1205.6 L2846.7,1207.0 L2843.7,1197.5Z M2923.4,1157.1 L2928.9,1172.3 L2920.4,1175.4 L2914.9,1160.1Z M2924.9,1174.2 L2934.7,1169.8 L2936.6,1174.2 L2926.8,1178.6Z M2914.4,1187.1 L2924.4,1183.1 L2926.8,1188.9 L2916.8,1193.0Z M2880.1,1159.7 L2888.5,1178.4 L2880.1,1182.2 L2871.6,1163.5Z M2889.4,1166.0 L2892.9,1176.1 L2886.2,1178.4 L2882.8,1168.3Z M2338.1,1768.3 L2361.2,1759.7 L2364.9,1769.5 L2341.8,1778.1Z M2389.9,1762.9 L2399.5,1759.3 L2402.0,1766.0 L2392.5,1769.6Z M2401.2,1730.1 L2408.4,1749.0 L2403.9,1750.7 L2400.3,1741.3 L2395.8,1743.0 L2392.3,1733.5Z M2417.4,1762.1 L2424.0,1774.9 L2417.7,1778.1 L2411.2,1765.3Z M2376.9,1745.0 L2384.6,1740.8 L2386.1,1743.6 L2382.3,1745.7 L2383.9,1748.5 L2380.1,1750.7Z M2412.2,1765.5 L2423.3,1761.5 L2425.8,1768.5 L2414.7,1772.5Z M2353.0,1763.6 L2357.1,1775.0 L2350.9,1777.2 L2346.8,1765.8Z M2422.8,1756.5 L2425.9,1762.7 L2421.0,1765.2 L2417.9,1759.0Z M2414.3,1769.2 L2434.1,1759.1 L2436.2,1763.2 L2426.3,1768.3 L2428.5,1772.5 L2418.6,1777.5Z M2583.0,1729.6 L2592.8,1730.0 L2592.6,1733.0 L2587.7,1732.8 L2587.6,1735.8 L2582.7,1735.6Z M2530.2,1706.8 L2531.1,1716.8 L2525.7,1717.3 L2524.8,1707.2Z M2488.4,1706.0 L2488.5,1709.4 L2485.3,1709.5 L2485.2,1706.1Z M2497.1,1729.3 L2507.7,1728.7 L2508.1,1735.1 L2497.5,1735.8Z M2565.9,1736.9 L2573.6,1736.4 L2573.9,1741.0 L2566.2,1741.5Z M2034.8,1944.1 L2044.1,1959.5 L2038.1,1963.2 L2028.7,1947.8Z M2041.5,1944.8 L2052.0,1937.3 L2055.2,1941.9 L2044.7,1949.3Z M2021.6,1993.8 L2026.7,1990.9 L2028.9,1994.8 L2023.8,1997.7Z M1967.0,1992.6 L1974.6,2003.8 L1969.9,2007.0 L1962.3,1995.8Z M1992.2,1978.7 L2008.8,1970.3 L2012.0,1976.6 L1995.4,1985.0Z M1951.4,2069.5 L1965.8,2060.6 L1970.5,2068.1 L1956.1,2077.0Z M1950.2,1981.0 L1956.9,1976.4 L1960.7,1982.0 L1954.0,1986.6Z M2929.5,1340.1 L2946.3,1330.3 L2950.7,1337.8 L2933.8,1347.6Z M2947.0,1297.6 L2961.1,1292.4 L2964.1,1300.6 L2950.0,1305.8Z M2985.8,1322.4 L2991.2,1332.4 L2985.3,1335.5 L2980.0,1325.5Z M2942.0,1322.8 L2955.1,1315.7 L2957.8,1320.8 L2944.7,1327.9Z M2896.9,1323.2 L2906.8,1319.0 L2908.3,1322.8 L2898.5,1327.0Z M2238.9,2033.7 L2238.7,2041.6 L2233.0,2041.5 L2233.2,2033.6Z M2234.9,2024.2 L2240.2,2024.0 L2240.4,2028.3 L2235.1,2028.5Z M2235.0,2085.7 L2244.0,2085.7 L2244.0,2090.2 L2235.1,2090.2Z M2087.0,1752.8 L2092.9,1752.6 L2093.0,1757.1 L2087.1,1757.3Z M2100.3,1664.7 L2111.0,1664.1 L2111.2,1667.5 L2105.8,1667.8 L2106.0,1671.1 L2100.7,1671.5Z M2087.8,1740.4 L2095.1,1739.9 L2095.5,1746.9 L2088.3,1747.4Z M459.7,984.7 L463.5,977.0 L468.1,979.2 L464.4,987.0Z M349.2,1009.5 L365.6,974.4 L374.9,978.7 L358.5,1013.9Z M423.5,1106.2 L463.1,1040.4 L467.9,1043.3 L448.1,1076.2 L452.9,1079.1 L433.1,1112.0Z M377.4,909.2 L401.2,922.5 L398.3,927.7 L374.5,914.4Z M246.1,1154.3 L272.3,1117.4 L278.2,1121.6 L251.9,1158.4Z M356.8,905.3 L380.2,920.4 L376.7,925.9 L353.3,910.8Z M261.7,1014.5 L293.9,969.7 L300.8,974.6 L268.6,1019.4Z M450.2,976.9 L463.3,951.3 L468.2,953.9 L455.1,979.4Z M255.7,1042.8 L271.2,1012.5 L278.2,1016.1 L262.6,1046.4Z M257.7,1023.5 L269.8,1006.6 L275.5,1010.7 L263.3,1027.6Z M397.3,1014.3 L409.5,992.0 L415.8,995.4 L403.7,1017.7Z M340.5,938.9 L351.2,945.1 L345.2,955.5 L334.5,949.3Z M372.0,1058.6 L436.2,1089.1 L431.1,1099.9 L366.9,1069.4Z M410.7,1129.7 L425.4,1106.3 L429.9,1109.2 L415.2,1132.5Z M384.5,1004.0 L413.2,1023.5 L408.1,1031.0 L379.4,1011.5Z M369.4,1127.1 L395.6,1145.0 L391.8,1150.5 L365.6,1132.6Z M261.0,1148.6 L275.3,1117.7 L281.5,1120.6 L267.2,1151.5Z M383.7,1131.0 L398.7,1109.0 L407.3,1114.8 L392.3,1136.8Z M375.5,1034.2 L390.2,1042.1 L387.4,1047.4 L380.0,1043.4 L377.2,1048.7 L369.8,1044.7Z M287.3,988.5 L303.5,997.7 L298.7,1006.1 L282.5,996.9Z M421.1,1119.7 L427.7,1107.4 L437.5,1112.6 L430.8,1124.9Z M334.6,1019.1 L349.9,990.7 L358.6,995.4 L343.3,1023.8Z M358.5,1023.4 L368.6,1007.4 L373.4,1010.4 L363.2,1026.4Z M350.4,1085.7 L368.1,1094.2 L363.6,1103.5 L346.0,1095.0Z M380.4,1076.3 L401.0,1030.4 L405.0,1032.2 L394.7,1055.1 L398.6,1056.9 L388.3,1079.8Z M364.0,939.8 L383.1,912.6 L388.2,916.2 L369.1,943.4Z M301.4,1027.0 L316.7,996.2 L324.5,1000.1 L309.2,1030.9Z M416.4,1056.4 L421.0,1048.0 L424.3,1049.8 L422.0,1054.0 L425.3,1055.8 L423.1,1060.1Z M401.6,1147.7 L419.2,1114.9 L426.2,1118.7 L408.6,1151.5Z M360.9,1109.2 L398.0,1131.5 L396.4,1134.2 L377.8,1123.1 L376.2,1125.8 L357.6,1114.7Z M292.5,1116.0 L302.8,1098.3 L307.6,1101.1 L297.3,1118.8Z M435.7,1093.5 L449.3,1074.2 L453.5,1077.2 L439.9,1096.5Z M343.4,1141.1 L347.7,1133.5 L353.1,1136.7 L348.8,1144.2Z M414.6,1077.1 L434.5,1048.7 L442.9,1054.6 L422.9,1083.0Z M319.6,1005.5 L326.1,994.6 L329.6,996.8 L326.3,1002.2 L329.9,1004.3 L326.6,1009.7Z M351.5,1097.5 L373.2,1108.3 L370.3,1114.1 L348.6,1103.4Z M552.4,896.7 L575.1,899.0 L574.2,907.5 L551.5,905.1Z M558.2,870.7 L570.4,869.9 L570.8,875.9 L558.6,876.7Z M511.8,865.9 L526.5,866.1 L526.4,872.4 L511.7,872.2Z M498.5,863.1 L514.4,864.3 L513.9,870.1 L498.0,868.9Z M471.9,862.9 L484.5,863.3 L484.2,870.5 L471.6,870.1Z M473.3,923.3 L473.2,934.9 L470.2,934.8 L470.2,929.1 L467.2,929.0 L467.3,923.2Z M485.4,898.3 L499.1,897.0 L499.4,900.2 L492.5,900.8 L492.9,904.1 L486.0,904.7Z M511.2,869.5 L511.3,885.0 L506.1,885.0 L505.9,869.5Z M511.2,921.1 L511.9,929.2 L507.5,929.6 L506.9,921.5Z M569.0,917.3 L569.0,924.4 L562.0,924.4 L562.1,917.2Z M509.9,906.8 L522.7,906.9 L522.7,910.9 L516.3,910.8 L516.2,914.9 L509.8,914.8Z M545.7,909.8 L559.4,910.7 L558.9,917.7 L545.3,916.9Z M254.7,1377.0 L264.6,1393.5 L258.7,1396.9 L248.9,1380.5Z M296.5,1318.9 L307.0,1314.0 L309.6,1319.5 L299.2,1324.5Z M284.2,1388.3 L288.9,1398.1 L285.7,1399.7 L283.3,1394.8 L280.1,1396.4 L277.7,1391.5Z M286.2,1427.5 L293.0,1422.9 L297.3,1429.3 L290.5,1434.0Z M273.4,1390.9 L280.5,1386.7 L283.8,1392.2 L276.7,1396.4Z M228.6,1400.1 L235.6,1415.2 L230.2,1417.7 L223.3,1402.5Z M234.1,1348.3 L251.1,1337.0 L256.8,1345.5 L239.8,1356.8Z M237.7,1376.9 L249.9,1369.1 L255.4,1377.7 L243.3,1385.6Z M297.2,1323.0 L304.1,1333.0 L299.4,1336.3 L295.9,1331.3 L291.2,1334.6 L287.7,1329.6Z M230.8,1321.0 L239.0,1316.2 L240.8,1319.2 L236.7,1321.6 L238.5,1324.7 L234.4,1327.1Z M327.4,1536.1 L343.6,1525.9 L348.2,1533.2 L332.1,1543.5Z M331.8,1529.7 L341.5,1521.4 L344.7,1525.2 L335.0,1533.5Z M272.1,1589.4 L284.3,1579.2 L287.4,1582.9 L275.2,1593.1Z M330.4,1553.9 L339.7,1548.3 L343.8,1555.2 L334.5,1560.7Z M304.8,1536.1 L320.8,1523.1 L323.7,1526.7 L307.7,1539.7Z M310.8,1553.6 L325.5,1543.3 L328.6,1547.8 L313.9,1558.0Z M284.1,1559.3 L290.7,1555.1 L293.5,1559.5 L286.9,1563.7Z M292.9,1521.8 L296.1,1526.5 L292.2,1529.1 L289.1,1524.4Z M286.1,1598.5 L294.3,1592.5 L297.2,1596.5 L289.0,1602.5Z M272.6,1581.2 L286.2,1570.5 L289.1,1574.2 L275.5,1584.9Z M340.7,1588.4 L345.9,1595.3 L342.4,1598.0 L337.2,1591.0Z M284.3,1600.8 L293.8,1595.0 L296.4,1599.3 L286.9,1605.1Z M341.0,1520.8 L360.4,1504.2 L366.7,1511.5 L347.3,1528.2Z M274.6,1575.8 L291.0,1562.8 L294.1,1566.7 L277.7,1579.7Z M727.8,1606.0 L730.5,1604.1 L732.4,1606.8 L729.7,1608.7Z M679.7,1520.0 L683.1,1524.7 L678.6,1527.8 L675.3,1523.1Z M684.4,1598.5 L694.0,1593.4 L697.3,1599.5 L687.6,1604.6Z M651.0,1614.6 L657.5,1625.7 L651.6,1629.1 L645.1,1618.0Z M729.2,1531.9 L733.2,1538.2 L729.3,1540.6 L725.3,1534.3Z M704.2,1637.0 L710.3,1633.9 L711.9,1637.0 L705.8,1640.1Z M666.6,1585.2 L670.8,1594.2 L666.0,1596.4 L661.9,1587.5Z M733.9,1559.3 L738.8,1569.1 L733.3,1571.9 L728.4,1562.0Z M682.4,1637.1 L688.2,1634.0 L690.0,1637.5 L684.2,1640.6Z M689.1,1553.9 L695.1,1551.0 L696.9,1554.8 L690.9,1557.7Z M687.4,1553.6 L692.2,1550.6 L694.0,1553.7 L689.3,1556.6Z M721.2,1550.0 L723.0,1553.9 L720.0,1555.3 L718.1,1551.5Z M705.3,1545.8 L710.9,1543.1 L712.6,1546.5 L707.0,1549.3Z M671.7,1635.1 L674.0,1640.0 L670.0,1642.0 L667.6,1637.0Z M675.6,1549.4 L682.1,1559.1 L676.7,1562.7 L670.2,1553.0Z M652.9,1582.6 L656.0,1580.8 L657.5,1583.4 L654.4,1585.2Z M668.1,1557.3 L670.6,1562.0 L667.6,1563.6 L665.1,1558.9Z M735.5,1547.5 L741.6,1543.9 L744.0,1547.9 L737.9,1551.5Z M684.5,1595.7 L687.9,1602.5 L682.9,1604.9 L679.6,1598.1Z M726.3,1574.6 L729.6,1579.4 L724.9,1582.7 L721.6,1577.9Z M673.1,1581.3 L677.8,1578.0 L679.9,1580.9 L675.2,1584.3Z M653.0,1633.1 L656.2,1640.0 L650.2,1642.7 L647.0,1635.9Z M774.7,1531.4 L779.5,1540.9 L774.7,1543.3 L769.9,1533.9Z M710.2,1562.6 L715.6,1572.6 L709.5,1575.9 L704.1,1565.9Z M772.0,1556.0 L776.4,1563.6 L773.6,1565.3 L771.4,1561.5 L768.5,1563.1 L766.3,1559.3Z M704.2,1630.6 L709.9,1626.8 L712.0,1629.9 L706.3,1633.8Z M792.8,1570.7 L796.5,1568.8 L797.9,1571.7 L794.2,1573.6Z M842.6,1561.4 L847.8,1569.6 L842.2,1573.1 L837.1,1564.9Z M785.9,1565.8 L791.2,1562.4 L793.7,1566.2 L788.3,1569.7Z M855.7,1585.5 L864.2,1579.4 L867.9,1584.6 L859.4,1590.6Z M822.7,1605.9 L830.3,1601.0 L833.7,1606.4 L826.1,1611.3Z M858.6,1592.9 L864.4,1589.4 L866.5,1593.0 L860.7,1596.4Z M823.9,1609.9 L829.6,1606.2 L831.9,1609.8 L826.2,1613.4Z M780.4,1594.4 L789.5,1589.9 L792.1,1595.3 L783.1,1599.8Z M863.9,1552.9 L866.8,1558.6 L863.5,1560.3 L860.6,1554.6Z M810.5,1633.5 L817.5,1629.4 L820.5,1634.6 L813.5,1638.6Z M854.3,1611.1 L859.8,1608.2 L861.4,1611.3 L856.0,1614.2Z M792.0,1571.0 L794.7,1574.8 L792.1,1576.7 L789.3,1573.0Z M801.4,1579.4 L804.4,1585.4 L801.0,1587.1 L798.0,1581.1Z M788.2,1606.4 L796.4,1602.5 L799.0,1608.0 L790.8,1611.8Z M855.2,1600.2 L858.4,1606.8 L852.5,1609.6 L849.4,1603.0Z M860.6,1605.4 L865.9,1613.7 L863.3,1615.3 L860.7,1611.2 L858.1,1612.8 L855.5,1608.7Z M793.9,1549.9 L803.4,1544.0 L806.4,1548.9 L796.9,1554.8Z M787.4,1621.0 L789.4,1624.8 L785.6,1626.8 L783.6,1622.9Z M820.3,1638.0 L827.2,1633.1 L830.3,1637.4 L823.4,1642.4Z M785.4,1561.9 L791.8,1558.2 L794.5,1563.0 L788.1,1566.7Z M829.9,1617.5 L833.9,1624.6 L830.3,1626.6 L826.3,1619.5Z M845.7,1542.0 L852.2,1539.1 L854.3,1543.6 L847.8,1546.6Z M782.1,1651.3 L811.1,1632.3 L817.6,1642.2 L788.6,1661.2Z M882.5,1689.5 L906.4,1672.6 L916.5,1687.0 L892.6,1703.9Z M785.7,1671.0 L815.5,1651.1 L823.7,1663.5 L793.9,1683.3Z M803.4,1638.1 L813.9,1652.7 L801.2,1661.8 L790.7,1647.2Z M879.2,1671.2 L888.8,1691.1 L874.7,1697.9 L865.0,1678.1Z M1193.3,1634.2 L1207.8,1622.0 L1209.9,1624.5 L1202.7,1630.7 L1204.9,1633.2 L1197.6,1639.4Z M1108.7,1841.0 L1124.4,1830.2 L1128.2,1835.6 L1112.4,1846.4Z M1178.5,1699.0 L1182.5,1703.9 L1178.7,1706.9 L1174.8,1702.0Z M1210.7,1823.2 L1216.6,1819.7 L1219.3,1824.2 L1213.4,1827.7Z M1209.6,1745.6 L1215.2,1741.7 L1217.2,1744.5 L1211.6,1748.4Z M1123.4,1654.0 L1135.1,1645.2 L1138.6,1649.8 L1126.8,1658.6Z M1216.6,1665.3 L1225.4,1677.5 L1221.8,1680.1 L1213.0,1667.8Z M1152.7,1826.0 L1160.5,1819.5 L1165.1,1825.1 L1157.3,1831.5Z M1161.6,1637.0 L1184.1,1620.9 L1186.2,1623.8 L1174.9,1631.8 L1177.0,1634.7 L1165.7,1642.7Z M1213.4,1753.3 L1217.2,1758.7 L1214.4,1760.6 L1210.7,1755.2Z M1197.9,1848.5 L1201.9,1845.6 L1203.7,1848.1 L1199.7,1851.0Z M1180.8,1651.1 L1185.5,1659.3 L1182.1,1661.3 L1177.3,1653.1Z M1207.6,1816.7 L1222.0,1805.1 L1225.7,1809.6 L1211.3,1821.2Z M1202.5,1871.2 L1215.7,1862.4 L1217.5,1865.1 L1210.9,1869.5 L1212.8,1872.2 L1206.2,1876.7Z M1160.8,1724.1 L1177.5,1709.6 L1181.8,1714.5 L1165.1,1729.0Z M1188.5,1684.1 L1203.6,1671.5 L1207.9,1676.6 L1192.8,1689.3Z M1201.3,1634.5 L1206.0,1631.6 L1207.7,1634.3 L1203.0,1637.2Z M1173.8,1767.7 L1178.1,1764.0 L1181.4,1767.8 L1177.1,1771.6Z M1127.6,1859.3 L1134.1,1867.3 L1129.0,1871.4 L1122.6,1863.5Z M1115.5,1825.5 L1136.8,1807.5 L1139.2,1810.4 L1128.5,1819.4 L1130.9,1822.2 L1120.3,1831.2Z M1184.6,1638.0 L1195.2,1650.6 L1190.7,1654.3 L1180.1,1641.7Z M1176.8,1693.3 L1180.0,1697.3 L1176.1,1700.4 L1172.9,1696.4Z M1169.9,1825.6 L1177.8,1835.5 L1174.6,1838.0 L1166.7,1828.1Z M1122.7,1867.8 L1131.7,1860.2 L1135.4,1864.6 L1126.4,1872.2Z M1209.5,1868.2 L1214.8,1864.8 L1216.6,1867.8 L1211.3,1871.1Z M1178.2,1866.4 L1183.5,1861.8 L1188.0,1867.0 L1182.7,1871.6Z M1197.2,1668.4 L1208.1,1684.5 L1204.1,1687.3 L1193.1,1671.2Z M1197.2,1810.3 L1200.3,1808.3 L1202.1,1811.2 L1199.1,1813.2Z M1182.0,1838.0 L1197.6,1827.6 L1200.4,1831.9 L1184.8,1842.3Z M1133.0,1662.8 L1152.5,1648.0 L1154.6,1650.7 L1144.8,1658.1 L1146.9,1660.9 L1137.1,1668.3Z M1161.8,1855.5 L1174.1,1875.9 L1168.7,1879.1 L1156.5,1858.7Z M1194.0,1693.9 L1201.6,1688.2 L1204.1,1691.6 L1196.5,1697.3Z M299.3,1832.3 L308.8,1828.8 L310.2,1832.6 L300.7,1836.1Z M398.1,1671.0 L404.7,1684.0 L400.7,1686.0 L397.4,1679.5 L393.4,1681.6 L390.1,1675.1Z M181.6,1751.7 L184.1,1757.0 L179.3,1759.2 L176.9,1753.9Z M319.0,1854.4 L340.9,1845.0 L342.5,1848.8 L331.6,1853.5 L333.2,1857.2 L322.2,1861.9Z M506.8,1846.0 L521.4,1841.0 L522.7,1844.9 L515.4,1847.4 L516.8,1851.3 L509.5,1853.9Z M336.8,1805.9 L354.7,1796.3 L358.6,1803.5 L340.7,1813.0Z M131.5,1800.9 L134.6,1808.2 L129.8,1810.3 L126.6,1803.0Z M455.5,1784.2 L467.6,1779.3 L470.7,1786.8 L458.6,1791.8Z M155.3,1663.3 L161.3,1680.3 L154.4,1682.7 L148.4,1665.8Z M256.8,1821.5 L262.3,1818.8 L264.5,1823.4 L259.1,1826.0Z M194.3,1871.3 L216.8,1859.9 L221.0,1868.1 L198.5,1879.5Z M124.5,1835.5 L137.9,1829.9 L140.0,1834.8 L126.6,1840.5Z M123.1,1690.3 L128.0,1701.7 L119.3,1705.4 L114.4,1694.0Z M245.4,1667.8 L261.9,1659.6 L264.9,1665.8 L248.4,1674.0Z M414.5,1703.7 L418.7,1702.2 L420.2,1706.3 L415.9,1707.8Z M394.5,1695.6 L408.3,1688.7 L411.1,1694.2 L397.3,1701.1Z M167.0,1708.6 L180.0,1703.9 L181.5,1708.0 L175.0,1710.4 L176.5,1714.5 L170.0,1716.8Z M446.8,1848.3 L468.1,1839.1 L471.5,1847.0 L450.2,1856.2Z M564.7,1669.3 L583.7,1659.4 L587.4,1666.5 L568.4,1676.4Z M365.7,1681.0 L378.4,1673.8 L382.0,1680.2 L369.3,1687.4Z M202.8,1705.6 L210.0,1701.8 L213.1,1707.6 L205.9,1711.5Z M237.6,1729.4 L245.7,1726.1 L247.4,1730.2 L239.2,1733.4Z M569.4,1862.1 L579.5,1857.4 L581.4,1861.6 L576.3,1863.9 L578.3,1868.1 L573.2,1870.4Z M202.4,1841.8 L207.9,1839.2 L210.2,1844.0 L204.6,1846.6Z M520.4,1686.2 L538.0,1676.7 L542.2,1684.4 L524.6,1694.0Z M296.2,1682.3 L313.8,1674.2 L318.0,1683.1 L300.4,1691.3Z M535.2,1851.4 L552.2,1843.6 L553.8,1847.2 L545.3,1851.1 L546.9,1854.6 L538.5,1858.5Z M373.8,1785.3 L383.2,1781.5 L386.2,1788.8 L376.7,1792.6Z M311.2,1846.6 L314.4,1853.3 L309.8,1855.5 L306.6,1848.8Z M344.9,1841.1 L359.9,1833.4 L362.5,1838.4 L347.5,1846.2Z M218.2,1670.2 L223.4,1668.4 L224.8,1672.3 L219.6,1674.1Z M357.6,1766.4 L375.2,1758.7 L377.2,1763.2 L368.4,1767.0 L370.3,1771.4 L361.5,1775.3Z M546.5,1698.9 L564.5,1692.5 L567.8,1702.0 L549.8,1708.3Z M132.2,1686.7 L139.2,1700.7 L136.3,1702.2 L132.8,1695.2 L129.9,1696.6 L126.4,1689.6Z M512.5,1556.8 L520.6,1556.8 L520.6,1563.2 L512.6,1563.2Z M478.0,1570.2 L485.9,1569.6 L486.1,1572.8 L482.2,1573.1 L482.4,1576.2 L478.4,1576.5Z M488.7,1585.4 L496.7,1585.2 L496.7,1589.0 L492.7,1589.1 L492.8,1592.8 L488.8,1592.9Z M512.2,1596.7 L520.0,1597.3 L519.6,1602.3 L511.8,1601.7Z M169.6,976.8 L179.7,977.8 L178.8,987.0 L168.7,986.0Z M151.6,951.8 L161.1,951.8 L161.1,959.2 L151.6,959.2Z M216.4,936.4 L228.9,936.4 L228.9,946.5 L216.4,946.5Z M200.0,897.6 L221.5,895.7 L222.4,905.9 L200.9,907.8Z M651.6,1453.8 L658.9,1449.4 L662.4,1455.2 L655.1,1459.6Z M626.9,1500.9 L630.5,1507.2 L624.6,1510.6 L621.0,1504.4Z M680.6,1435.0 L684.7,1444.0 L679.3,1446.5 L675.2,1437.5Z M637.8,1465.6 L652.0,1459.1 L653.6,1462.7 L646.6,1465.9 L648.2,1469.5 L641.1,1472.8Z M782.0,2084.0 L788.7,2094.5 L781.5,2099.1 L774.8,2088.6Z M782.0,2009.9 L797.8,1996.8 L803.5,2003.7 L787.7,2016.8Z M835.2,2042.8 L847.4,2035.9 L851.0,2042.1 L838.8,2049.1Z M769.7,2054.7 L776.7,2050.2 L780.1,2055.4 L773.0,2059.9Z M824.1,2011.7 L833.0,2006.3 L835.4,2010.3 L826.5,2015.6Z M803.3,2054.8 L813.6,2048.0 L816.0,2051.7 L810.9,2055.1 L813.3,2058.8 L808.1,2062.2Z M727.8,2022.5 L742.3,2010.9 L744.6,2013.8 L737.4,2019.6 L739.6,2022.5 L732.4,2028.3Z M794.0,2057.3 L799.2,2054.2 L802.0,2058.8 L796.8,2061.9Z M754.4,1982.3 L764.7,1973.3 L767.9,1977.0 L757.5,1986.0Z M849.1,2088.1 L853.8,2094.5 L850.0,2097.3 L845.3,2091.0Z M817.4,2082.1 L829.9,2071.9 L833.5,2076.3 L820.9,2086.5Z M807.5,2046.8 L815.8,2057.8 L811.5,2061.0 L803.2,2050.0Z M734.9,2043.1 L754.9,2031.1 L759.5,2038.8 L739.5,2050.8Z M762.9,1957.3 L767.7,1953.2 L771.3,1957.5 L766.4,1961.5Z M742.8,2057.9 L760.1,2046.4 L764.5,2053.1 L747.3,2064.6Z M784.1,2019.0 L793.1,2011.5 L795.7,2014.7 L786.7,2022.1Z M758.3,1984.9 L766.5,1994.6 L764.2,1996.5 L760.1,1991.7 L757.7,1993.7 L753.7,1988.9Z M725.5,2029.1 L735.8,2022.3 L738.6,2026.5 L728.3,2033.3Z M821.1,2048.4 L837.8,2034.3 L845.7,2043.7 L829.0,2057.8Z M831.4,2110.6 L862.7,2087.7 L870.1,2097.8 L838.8,2120.7Z M837.6,2115.7 L850.6,2106.6 L853.1,2110.1 L846.5,2114.6 L848.9,2118.1 L842.4,2122.7Z M917.7,2129.7 L931.4,2121.3 L936.7,2129.9 L923.0,2138.3Z M908.3,2103.9 L923.6,2091.2 L926.8,2095.2 L919.2,2101.5 L922.5,2105.4 L914.9,2111.8Z M845.2,2075.2 L864.2,2061.6 L868.7,2067.9 L849.7,2081.5Z M925.3,2044.3 L941.8,2073.2 L930.7,2079.5 L914.2,2050.7Z M808.0,2067.9 L826.9,2056.7 L833.1,2067.0 L814.1,2078.2Z M879.2,2000.0 L888.2,2010.6 L878.6,2018.7 L869.7,2008.1Z M899.4,2065.7 L910.3,2058.7 L913.5,2063.8 L902.5,2070.7Z M805.5,2118.4 L826.2,2142.9 L821.4,2146.9 L811.1,2134.7 L806.4,2138.6 L796.1,2126.4Z M869.4,2123.2 L878.2,2117.6 L881.9,2123.4 L873.1,2129.0Z M841.3,2259.5 L849.4,2273.6 L837.4,2280.4 L829.4,2266.3Z M769.2,2231.2 L787.4,2217.9 L789.9,2221.3 L780.9,2228.0 L783.4,2231.5 L774.3,2238.1Z M823.7,2302.0 L846.1,2331.8 L838.5,2337.5 L827.3,2322.6 L819.8,2328.2 L808.6,2313.3Z M765.7,2255.7 L781.3,2276.2 L773.4,2282.2 L765.6,2271.9 L757.7,2277.9 L749.9,2267.7Z M813.4,2249.2 L827.0,2241.1 L831.4,2248.5 L817.8,2256.6Z M716.8,2332.1 L748.6,2306.9 L757.6,2318.3 L725.8,2343.4Z M826.0,2361.6 L844.4,2348.0 L847.4,2352.1 L838.2,2358.9 L841.3,2363.0 L832.1,2369.8Z M760.3,2337.2 L774.4,2359.8 L769.4,2362.9 L762.3,2351.6 L757.4,2354.7 L750.3,2343.4Z M816.7,2336.7 L858.4,2311.4 L868.7,2328.4 L827.0,2353.7Z M988.9,2258.9 L997.1,2274.8 L987.6,2279.7 L979.4,2263.9Z M902.7,2346.2 L915.3,2340.1 L917.6,2345.0 L905.0,2351.0Z M1010.1,2265.4 L1033.2,2316.6 L1022.9,2321.2 L999.8,2270.1Z M954.7,2256.7 L982.1,2300.7 L977.8,2303.3 L964.1,2281.3 L959.9,2284.0 L946.2,2262.0Z M906.0,2265.1 L923.9,2254.1 L926.1,2257.7 L908.2,2268.7Z M944.8,2226.1 L985.8,2205.8 L990.6,2215.5 L949.7,2235.8Z M924.1,2310.2 L957.4,2293.1 L962.5,2303.0 L929.2,2320.1Z M1013.1,2288.6 L1024.1,2304.2 L1020.1,2307.0 L1009.1,2291.4Z M903.9,2347.9 L910.1,2358.0 L905.2,2361.0 L898.9,2350.9Z M995.2,2222.9 L1001.6,2234.5 L996.7,2237.3 L993.5,2231.5 L988.5,2234.2 L985.3,2228.4Z M919.5,2353.6 L925.5,2365.6 L920.6,2368.0 L914.6,2356.0Z M930.8,2311.2 L942.0,2329.9 L933.0,2335.3 L921.8,2316.5Z M987.8,2351.7 L1000.0,2344.7 L1002.8,2349.5 L990.6,2356.5Z M964.2,2313.5 L973.3,2333.4 L969.5,2335.1 L960.5,2315.2Z M220.9,2234.0 L229.1,2251.2 L224.5,2253.4 L216.3,2236.2Z M223.2,2160.7 L227.9,2170.5 L224.0,2172.4 L219.3,2162.6Z M233.4,2183.4 L241.6,2177.8 L245.4,2183.4 L237.2,2189.0Z M241.6,2205.6 L253.0,2198.2 L255.0,2201.4 L249.4,2205.1 L251.5,2208.3 L245.8,2212.0Z M225.5,2152.0 L242.0,2176.4 L234.8,2181.3 L218.3,2156.8Z M211.5,2184.3 L225.2,2177.9 L227.1,2181.9 L220.2,2185.1 L222.1,2189.2 L215.3,2192.4Z M221.6,2222.5 L236.3,2244.7 L229.2,2249.4 L214.5,2227.2Z M203.0,2212.5 L209.3,2209.5 L212.3,2215.8 L206.0,2218.8Z M217.2,2203.3 L225.4,2199.6 L227.8,2205.0 L219.6,2208.7Z M240.7,2186.3 L247.2,2182.3 L250.0,2186.7 L243.4,2190.7Z M428.7,2214.0 L431.5,2223.1 L425.1,2225.1 L422.3,2216.0Z M394.7,2189.8 L419.8,2182.9 L421.6,2189.3 L396.5,2196.2Z M448.2,2187.8 L464.8,2181.7 L467.2,2188.3 L450.7,2194.4Z M516.6,2173.4 L530.3,2170.4 L531.6,2176.3 L518.0,2179.4Z M464.0,2184.6 L487.4,2180.1 L489.1,2189.0 L465.7,2193.5Z M422.1,2216.4 L442.5,2211.5 L443.7,2216.1 L433.5,2218.6 L434.6,2223.2 L424.4,2225.7Z M477.7,2234.6 L481.2,2246.4 L477.4,2247.6 L473.9,2235.8Z M489.2,2209.0 L505.0,2204.9 L507.0,2212.8 L491.2,2216.8Z M391.4,2118.5 L422.4,2111.0 L424.6,2120.1 L393.6,2127.6Z M448.7,2145.5 L450.6,2152.8 L443.7,2154.6 L441.8,2147.3Z M476.9,2182.0 L480.1,2194.6 L474.3,2196.1 L471.1,2183.5Z M383.7,2243.5 L387.5,2258.2 L383.2,2259.3 L379.5,2244.6Z M422.2,2255.8 L436.5,2250.6 L438.2,2255.3 L423.9,2260.5Z M484.5,2122.8 L493.8,2119.9 L495.6,2125.4 L486.3,2128.4Z M474.0,2270.6 L499.2,2265.3 L500.2,2270.1 L487.6,2272.7 L488.6,2277.4 L476.0,2280.0Z M493.3,2105.2 L514.2,2097.6 L516.6,2104.2 L495.7,2111.8Z M485.7,2209.4 L496.1,2205.8 L497.7,2210.4 L492.5,2212.2 L494.1,2216.9 L488.9,2218.7Z M423.0,2230.6 L434.4,2226.7 L436.0,2231.5 L424.7,2235.3Z M609.7,2490.8 L626.1,2485.8 L627.8,2491.3 L611.4,2496.4Z M559.4,2396.3 L568.5,2393.2 L569.9,2397.1 L560.7,2400.2Z M649.7,2416.9 L652.8,2430.4 L649.2,2431.2 L647.7,2424.5 L644.1,2425.3 L642.6,2418.6Z M555.9,2454.7 L568.6,2451.5 L570.2,2458.2 L557.5,2461.3Z M553.6,2473.6 L559.6,2496.3 L551.6,2498.4 L545.6,2475.7Z M624.2,2325.5 L627.9,2339.5 L624.4,2340.4 L622.5,2333.4 L619.0,2334.3 L617.2,2327.3Z M650.5,2374.8 L654.1,2390.2 L646.9,2391.8 L643.4,2376.5Z M565.6,2413.2 L576.8,2409.4 L579.6,2417.9 L568.5,2421.6Z M511.1,2427.6 L512.7,2434.5 L505.8,2436.1 L504.2,2429.1Z M641.2,2348.5 L643.7,2357.4 L636.9,2359.3 L634.4,2350.3Z M666.9,2317.9 L687.8,2312.0 L689.0,2316.1 L678.6,2319.1 L679.8,2323.3 L669.3,2326.2Z M548.5,2359.7 L563.3,2354.3 L565.5,2360.4 L550.7,2365.8Z M476.0,2355.6 L488.3,2353.3 L489.2,2357.8 L476.8,2360.0Z M479.3,2386.2 L481.2,2392.2 L475.6,2393.9 L473.7,2388.0Z M521.4,2449.3 L523.0,2459.3 L518.0,2460.1 L516.4,2450.1Z M586.4,2458.2 L600.7,2454.0 L602.9,2461.5 L588.6,2465.7Z M573.2,2320.1 L576.2,2329.6 L568.8,2331.9 L565.8,2322.4Z M656.6,2443.1 L671.2,2440.3 L672.8,2448.9 L658.3,2451.6Z M576.1,2388.1 L580.7,2386.6 L582.0,2390.5 L577.4,2392.0Z M667.6,2310.8 L672.3,2324.7 L667.2,2326.4 L662.4,2312.6Z M647.2,2325.6 L656.6,2322.4 L658.2,2327.0 L648.9,2330.2Z M506.8,2468.2 L514.2,2465.7 L515.8,2470.6 L508.4,2473.0Z M606.2,2481.8 L610.4,2499.1 L602.7,2500.9 L598.6,2483.7Z M503.0,2381.7 L513.1,2379.6 L513.8,2382.7 L508.7,2383.8 L509.4,2386.9 L504.3,2387.9Z M204.1,1964.5 L236.1,1946.3 L238.5,1950.5 L222.5,1959.6 L225.0,1963.9 L209.0,1973.0Z M167.6,1977.2 L197.9,1959.7 L202.7,1967.9 L172.3,1985.4Z M185.5,1910.1 L205.7,1897.6 L207.9,1901.2 L197.9,1907.5 L200.1,1911.1 L190.0,1917.4Z M187.8,1822.4 L210.1,1812.2 L214.2,1821.2 L191.8,1831.3Z M240.3,1860.4 L246.4,1857.6 L248.2,1861.4 L242.1,1864.2Z M182.8,1952.7 L209.8,1940.4 L213.8,1949.1 L186.8,1961.5Z M241.9,1958.2 L251.1,1972.1 L244.5,1976.5 L235.2,1962.6Z M276.9,1938.5 L291.7,1930.2 L293.5,1933.4 L286.1,1937.6 L288.0,1940.9 L280.6,1945.0Z M230.4,1809.1 L245.0,1831.9 L241.2,1834.4 L233.9,1822.9 L230.1,1825.4 L222.8,1813.9Z M144.6,1913.5 L156.4,1905.2 L161.0,1911.8 L149.2,1920.0Z M333.6,1926.4 L340.6,1939.1 L334.4,1942.5 L327.3,1929.8Z M97.6,1842.1 L112.4,1832.3 L115.2,1836.6 L100.4,1846.3Z M535.2,1920.7 L552.9,1910.0 L557.4,1917.5 L539.8,1928.2Z M424.7,1926.9 L429.4,1936.7 L421.3,1940.5 L416.7,1930.7Z M506.0,1939.2 L510.0,1937.4 L511.6,1941.2 L507.7,1943.0Z M553.6,1825.9 L568.2,1819.1 L571.4,1826.0 L556.9,1832.8Z M532.6,1825.8 L537.4,1822.6 L540.1,1826.5 L535.3,1829.8Z M536.7,1890.4 L548.0,1884.6 L549.3,1887.3 L543.7,1890.2 L545.1,1892.9 L539.5,1895.8Z M434.6,1950.4 L444.0,1944.3 L446.2,1947.7 L436.8,1953.8Z M512.9,1862.8 L526.0,1856.8 L528.3,1862.0 L515.3,1867.9Z M414.9,1958.4 L419.5,1955.3 L422.4,1959.7 L417.8,1962.7Z M586.9,1921.0 L592.3,1917.2 L595.5,1921.9 L590.1,1925.7Z M508.2,1910.4 L516.3,1906.2 L518.5,1910.5 L510.5,1914.7Z M445.7,1800.7 L451.4,1811.8 L447.3,1813.9 L441.6,1802.8Z M595.9,1842.9 L598.0,1847.0 L594.2,1848.9 L592.1,1844.8Z M528.2,1819.3 L535.2,1831.1 L532.0,1833.0 L528.5,1827.1 L525.4,1828.9 L521.9,1823.0Z M512.5,1912.5 L519.7,1907.5 L523.9,1913.4 L516.7,1918.5Z M636.9,1855.4 L647.1,1848.1 L650.2,1852.5 L640.0,1859.7Z M604.9,1810.1 L609.4,1808.1 L611.2,1812.1 L606.7,1814.2Z M431.8,1875.5 L435.6,1883.6 L429.7,1886.3 L426.0,1878.2Z M1176.6,1817.4 L1195.1,1802.2 L1199.3,1807.2 L1180.7,1822.4Z M1119.2,1923.2 L1131.9,1938.2 L1126.4,1942.8 L1113.7,1927.9Z M1260.3,1818.2 L1263.1,1823.2 L1258.8,1825.6 L1256.0,1820.6Z M1122.0,1963.3 L1138.6,1954.0 L1141.2,1958.7 L1124.7,1968.0Z M1094.3,1804.5 L1107.5,1827.3 L1101.2,1831.0 L1087.9,1808.2Z M1143.6,1823.0 L1151.1,1816.5 L1153.7,1819.4 L1149.9,1822.7 L1152.5,1825.7 L1148.7,1828.9Z M1168.0,1959.9 L1177.2,1974.8 L1169.6,1979.5 L1160.4,1964.6Z M1211.7,1975.2 L1226.7,1997.0 L1221.1,2000.9 L1206.1,1979.1Z M1137.8,1936.9 L1142.2,1943.3 L1139.1,1945.4 L1134.7,1939.0Z M1152.0,1890.2 L1159.6,1901.5 L1157.1,1903.2 L1153.3,1897.6 L1150.8,1899.2 L1147.0,1893.6Z M1148.1,1824.8 L1161.1,1815.8 L1163.0,1818.6 L1156.5,1823.1 L1158.4,1825.8 L1151.9,1830.4Z M1279.3,1899.4 L1287.8,1894.3 L1290.5,1898.8 L1282.0,1903.9Z M1137.7,1865.3 L1156.8,1853.2 L1160.6,1859.1 L1141.5,1871.3Z M1102.5,1873.6 L1122.7,1860.4 L1126.5,1866.2 L1106.3,1879.4Z M1222.4,1934.3 L1226.8,1931.1 L1229.5,1934.8 L1225.1,1938.0Z M1211.7,1974.1 L1224.3,1964.6 L1229.2,1971.2 L1216.7,1980.7Z M1239.7,1943.0 L1244.0,1939.7 L1246.5,1943.0 L1242.2,1946.3Z M1227.5,1979.4 L1250.6,1961.6 L1253.1,1964.8 L1241.5,1973.7 L1244.0,1976.9 L1232.5,1985.8Z M1119.9,1925.0 L1132.9,1917.5 L1136.5,1923.8 L1123.6,1931.3Z M1154.3,1968.0 L1169.0,1956.0 L1174.3,1962.4 L1159.5,1974.5Z M1199.5,1815.4 L1205.3,1825.6 L1201.2,1827.9 L1195.5,1817.6Z M1164.1,1839.3 L1185.0,1826.3 L1189.1,1832.8 L1168.1,1845.8Z M1235.4,1918.2 L1237.9,1921.8 L1234.5,1924.1 L1232.0,1920.5Z M1108.9,1937.9 L1120.5,1930.1 L1125.0,1936.8 L1113.4,1944.6Z M1159.6,1799.9 L1168.9,1811.0 L1165.1,1814.2 L1155.8,1803.1Z M1128.4,1890.0 L1157.4,1873.2 L1159.7,1877.0 L1145.2,1885.5 L1147.4,1889.3 L1132.9,1897.8Z M1296.1,1838.6 L1304.8,1849.7 L1298.4,1854.7 L1289.7,1843.6Z M1201.1,1900.6 L1207.8,1910.1 L1203.9,1912.9 L1197.2,1903.4Z M1106.7,1867.3 L1113.1,1878.0 L1109.4,1880.3 L1102.9,1869.5Z M1175.2,1951.5 L1179.0,1956.7 L1176.0,1958.8 L1172.3,1953.6Z M973.4,2016.6 L978.0,2014.4 L980.2,2019.0 L975.6,2021.2Z M959.2,2013.2 L974.6,2004.3 L977.8,2009.8 L962.3,2018.6Z M984.0,2017.3 L990.2,2026.7 L984.8,2030.3 L978.6,2020.9Z M994.4,2002.5 L1007.8,1995.7 L1011.0,2002.0 L997.6,2008.8Z M1035.4,2055.9 L1044.6,2070.5 L1039.6,2073.6 L1030.4,2058.9Z M1040.9,2005.0 L1055.7,1995.2 L1057.4,1997.8 L1050.0,2002.7 L1051.6,2005.2 L1044.2,2010.1Z M1058.2,1985.7 L1067.8,1979.4 L1071.5,1985.0 L1061.9,1991.2Z M1004.6,2064.6 L1017.0,2057.0 L1020.1,2062.0 L1007.7,2069.6Z M1174.9,2179.8 L1182.9,2176.1 L1184.6,2179.9 L1176.6,2183.6Z M1142.5,2133.4 L1148.9,2148.2 L1145.3,2149.8 L1142.0,2142.4 L1138.3,2144.0 L1135.1,2136.6Z M1223.2,2163.1 L1231.1,2159.9 L1232.4,2163.0 L1228.5,2164.6 L1229.7,2167.8 L1225.8,2169.4Z M1167.3,2154.6 L1172.6,2168.4 L1167.9,2170.2 L1162.6,2156.4Z M1282.0,2166.3 L1293.3,2160.8 L1295.3,2165.0 L1284.0,2170.4Z M1303.6,2223.6 L1312.8,2219.5 L1314.6,2223.6 L1305.4,2227.7Z M1230.3,2129.7 L1234.9,2137.6 L1228.0,2141.7 L1223.3,2133.8Z M1147.6,2124.1 L1162.1,2118.6 L1163.5,2122.4 L1156.3,2125.1 L1157.7,2128.9 L1150.5,2131.7Z M1324.9,2168.2 L1331.4,2165.8 L1332.8,2169.7 L1326.3,2172.1Z M1273.1,2118.3 L1289.6,2112.3 L1292.2,2119.3 L1275.7,2125.3Z M1312.9,2282.7 L1327.5,2276.1 L1328.8,2278.9 L1321.5,2282.2 L1322.8,2285.1 L1315.4,2288.4Z M1111.4,2151.4 L1118.0,2166.0 L1113.0,2168.3 L1106.4,2153.7Z M1311.3,2134.1 L1324.8,2128.9 L1327.5,2135.9 L1314.0,2141.1Z M1144.0,2156.5 L1160.4,2149.7 L1163.7,2157.7 L1147.4,2164.6Z M1395.8,2488.4 L1410.9,2512.7 L1399.3,2519.9 L1384.3,2495.6Z M1431.2,2545.2 L1462.9,2524.2 L1469.6,2534.4 L1437.9,2555.4Z M1452.9,2534.8 L1472.0,2523.3 L1474.2,2527.0 L1464.6,2532.8 L1466.9,2536.5 L1457.3,2542.2Z M1475.5,2508.4 L1509.6,2487.3 L1516.7,2498.8 L1482.7,2519.9Z M1366.4,2509.6 L1389.4,2496.9 L1394.5,2506.3 L1371.6,2519.0Z M1395.8,2542.9 L1417.2,2530.9 L1423.5,2542.1 L1402.1,2554.1Z M1437.9,2497.8 L1458.0,2487.8 L1463.4,2498.5 L1443.3,2508.6Z M1454.0,2522.7 L1492.4,2504.1 L1494.8,2509.1 L1475.6,2518.4 L1478.0,2523.4 L1458.8,2532.7Z M1378.9,2550.9 L1398.5,2538.9 L1400.6,2542.3 L1390.7,2548.3 L1392.8,2551.7 L1382.9,2557.6Z M1390.4,2518.9 L1399.5,2532.4 L1393.9,2536.2 L1384.8,2522.6Z M756.9,2531.5 L781.6,2477.3 L801.4,2486.3 L776.7,2540.5Z M772.1,2557.6 L786.9,2533.5 L796.3,2539.2 L781.5,2563.4Z M796.6,2518.0 L805.7,2505.4 L810.9,2509.2 L806.4,2515.5 L811.6,2519.2 L807.0,2525.5Z M640.7,2552.0 L657.7,2543.8 L662.3,2553.2 L645.3,2561.5Z M629.8,2552.0 L634.7,2548.9 L637.3,2552.8 L632.3,2556.0Z M630.6,2581.3 L634.3,2587.5 L629.4,2590.5 L625.7,2584.3Z M681.7,2544.5 L694.7,2538.0 L699.2,2546.9 L686.2,2553.4Z M184.1,2380.9 L187.6,2389.8 L181.3,2392.3 L177.8,2383.4Z M137.1,2549.3 L144.7,2546.7 L146.5,2551.9 L138.9,2554.6Z M339.6,2428.8 L352.1,2423.4 L353.5,2426.7 L347.3,2429.4 L348.7,2432.7 L342.5,2435.4Z M186.3,2543.3 L190.3,2557.7 L186.7,2558.7 L184.7,2551.5 L181.1,2552.5 L179.1,2545.3Z M233.0,2533.4 L235.8,2540.9 L232.1,2542.3 L230.7,2538.5 L227.0,2539.9 L225.6,2536.1Z M179.7,2521.1 L182.9,2531.2 L179.4,2532.3 L177.8,2527.2 L174.3,2528.3 L172.7,2523.3Z M308.8,2496.2 L314.9,2494.3 L316.8,2500.3 L310.7,2502.2Z M187.3,2391.2 L190.7,2390.2 L191.6,2393.3 L188.2,2394.3Z M280.3,2524.5 L286.3,2523.0 L287.2,2526.4 L281.2,2527.9Z M355.0,2538.9 L358.6,2548.8 L352.5,2551.1 L348.9,2541.1Z M1516.0,2611.3 L1530.7,2604.6 L1533.0,2609.6 L1518.3,2616.3Z M1567.6,2554.4 L1582.1,2548.8 L1584.4,2554.7 L1569.9,2560.4Z M1551.2,2538.7 L1558.5,2535.4 L1560.3,2539.2 L1553.0,2542.5Z M1616.5,2580.3 L1625.6,2577.9 L1627.4,2584.7 L1618.2,2587.1Z M1543.6,2615.1 L1549.8,2613.1 L1551.6,2618.9 L1545.5,2620.9Z M1676.4,2594.1 L1685.2,2590.8 L1688.0,2598.0 L1679.2,2601.4Z M1655.5,2660.9 L1669.1,2654.3 L1671.6,2659.6 L1658.0,2666.1Z M1545.2,2530.4 L1547.8,2536.0 L1543.8,2537.8 L1541.2,2532.2Z M1687.3,2594.9 L1698.0,2591.2 L1700.2,2597.7 L1689.6,2601.4Z M1604.7,2632.3 L1610.3,2629.7 L1612.6,2634.8 L1607.0,2637.3Z M1901.1,2636.9 L1912.1,2632.4 L1915.0,2639.4 L1904.1,2643.9Z M1707.2,2614.2 L1710.9,2625.4 L1705.6,2627.2 L1701.9,2616.0Z M1942.0,2622.2 L1943.7,2628.3 L1938.8,2629.7 L1937.0,2623.6Z M1794.4,2583.4 L1798.7,2600.3 L1790.4,2602.4 L1786.1,2585.5Z M1997.6,2678.0 L2001.6,2691.4 L1996.5,2692.9 L1992.6,2679.5Z M1859.2,2574.3 L1867.2,2572.0 L1868.3,2575.9 L1864.3,2577.0 L1865.4,2580.9 L1861.4,2582.0Z M1778.6,2636.6 L1781.6,2645.7 L1776.9,2647.3 L1773.9,2638.2Z M1932.1,2584.5 L1945.5,2578.1 L1947.0,2581.3 L1940.3,2584.5 L1941.9,2587.8 L1935.2,2591.0Z M2342.1,2203.0 L2346.5,2210.9 L2342.0,2213.4 L2337.6,2205.5Z M2202.0,2261.3 L2210.2,2257.5 L2212.3,2262.1 L2204.1,2265.8Z M2297.9,2329.5 L2310.6,2322.8 L2313.0,2327.5 L2300.4,2334.2Z M2255.2,2165.5 L2265.8,2159.3 L2268.2,2163.5 L2257.6,2169.7Z M2221.3,2279.7 L2232.1,2295.8 L2229.1,2297.8 L2223.7,2289.8 L2220.7,2291.8 L2215.3,2283.7Z M2326.5,2228.4 L2334.8,2240.6 L2330.3,2243.6 L2322.1,2231.4Z M2188.3,2301.3 L2198.5,2294.1 L2201.2,2297.9 L2190.9,2305.1Z M2329.3,2319.7 L2336.5,2316.3 L2338.3,2320.0 L2331.1,2323.4Z M2146.4,2321.8 L2151.8,2318.8 L2153.8,2322.4 L2148.4,2325.4Z M2230.2,2263.1 L2236.2,2260.4 L2237.6,2263.6 L2231.6,2266.3Z M2342.7,2308.1 L2351.3,2303.4 L2353.0,2306.6 L2344.5,2311.3Z M2326.8,2223.2 L2330.2,2229.0 L2327.0,2230.9 L2323.6,2225.1Z M2022.6,2256.8 L2033.5,2277.0 L2025.7,2281.2 L2014.7,2261.0Z M2138.2,2334.6 L2144.2,2344.3 L2141.2,2346.1 L2138.3,2341.2 L2135.4,2343.0 L2132.4,2338.2Z M2048.3,2320.0 L2059.0,2336.6 L2051.7,2341.3 L2041.0,2324.6Z M2071.1,2305.3 L2083.1,2299.0 L2084.6,2301.8 L2078.6,2304.9 L2080.1,2307.8 L2074.1,2310.9Z M2007.6,2336.3 L2022.3,2326.2 L2026.4,2332.3 L2011.7,2342.4Z M2040.5,2355.0 L2055.5,2346.9 L2057.6,2350.9 L2050.2,2354.9 L2052.3,2358.9 L2044.8,2362.9Z M2141.1,2277.3 L2148.6,2273.7 L2150.5,2277.6 L2142.9,2281.2Z M2071.5,2268.0 L2077.3,2264.8 L2079.8,2269.3 L2074.0,2272.5Z M1360.0,2376.7 L1367.0,2388.4 L1361.9,2391.5 L1354.9,2379.7Z M1449.7,2379.0 L1462.9,2371.4 L1465.4,2375.9 L1452.3,2383.4Z M1373.0,2423.1 L1393.1,2414.1 L1396.1,2421.0 L1376.1,2429.9Z M1296.0,2372.3 L1306.8,2367.3 L1309.0,2372.1 L1298.2,2377.1Z M1312.6,2340.0 L1326.2,2334.7 L1328.8,2341.5 L1315.3,2346.8Z M1310.3,2398.6 L1331.7,2386.0 L1336.0,2393.2 L1314.6,2405.8Z M468.3,2005.0 L475.2,2008.9 L471.7,2015.0 L464.8,2011.1Z M457.6,2022.6 L464.2,2027.3 L460.1,2033.0 L453.6,2028.4Z M446.0,2040.6 L452.9,2044.5 L449.5,2050.6 L442.5,2046.7Z M435.0,2058.4 L441.8,2062.5 L438.3,2068.5 L431.4,2064.4Z M424.2,2076.1 L430.8,2080.6 L426.8,2086.4 L420.2,2081.8Z M412.7,2094.0 L419.6,2098.0 L416.0,2104.1 L409.1,2100.0Z M483.3,2013.8 L489.7,2018.6 L485.6,2024.2 L479.1,2019.5Z M472.1,2031.6 L478.6,2036.3 L474.5,2042.0 L468.0,2037.3Z M461.1,2049.4 L467.5,2054.2 L463.3,2059.8 L456.9,2055.0Z M438.4,2085.1 L445.2,2089.4 L441.4,2095.3 L434.6,2091.0Z M427.7,2102.9 L434.1,2107.6 L429.9,2113.3 L423.5,2108.5Z M497.3,2022.9 L504.1,2027.1 L500.4,2033.1 L493.6,2028.9Z M486.2,2040.7 L493.0,2045.0 L489.2,2050.9 L482.5,2046.6Z M475.4,2058.4 L481.9,2063.2 L477.7,2068.8 L471.3,2064.1Z M453.1,2094.1 L459.6,2098.8 L455.5,2104.4 L449.0,2099.8Z M511.3,2032.1 L518.4,2035.8 L515.2,2042.0 L508.1,2038.3Z M500.9,2049.7 L507.4,2054.3 L503.4,2060.0 L496.8,2055.4Z M489.4,2067.6 L496.2,2071.7 L492.6,2077.7 L485.8,2073.6Z M478.5,2085.3 L485.1,2089.8 L481.2,2095.6 L474.6,2091.1Z M467.3,2103.1 L474.0,2107.5 L470.2,2113.4 L463.5,2109.0Z M456.1,2121.0 L462.9,2125.3 L459.1,2131.2 L452.3,2126.8Z M526.4,2040.9 L532.9,2045.4 L529.0,2051.2 L522.4,2046.6Z M514.8,2058.8 L521.7,2062.8 L518.3,2068.9 L511.3,2064.9Z M503.8,2076.6 L510.6,2080.7 L507.0,2086.7 L500.2,2082.6Z M493.0,2094.3 L499.6,2098.9 L495.5,2104.6 L489.0,2100.0Z M481.7,2112.2 L488.4,2116.5 L484.6,2122.4 L477.9,2118.1Z M470.9,2129.9 L477.3,2134.6 L473.2,2140.3 L466.7,2135.5Z M529.4,2067.8 L536.2,2072.0 L532.5,2077.9 L525.7,2073.7Z M518.0,2085.7 L525.0,2089.5 L521.7,2095.6 L514.6,2091.8Z M507.1,2103.4 L513.9,2107.5 L510.3,2113.5 L503.5,2109.4Z M496.4,2121.1 L502.9,2125.8 L498.7,2131.5 L492.3,2126.7Z M583.2,2035.0 L590.2,2038.8 L586.8,2045.0 L579.8,2041.2Z M572.2,2052.8 L579.1,2056.8 L575.6,2062.8 L568.7,2058.8Z M561.3,2070.5 L568.0,2074.8 L564.2,2080.7 L557.5,2076.4Z M550.3,2088.3 L556.9,2092.9 L552.9,2098.6 L546.3,2094.0Z M538.6,2106.3 L545.7,2110.1 L542.3,2116.2 L535.3,2112.4Z M598.2,2043.8 L604.7,2048.5 L600.7,2054.2 L594.1,2049.6Z M587.1,2061.6 L593.6,2066.4 L589.4,2072.0 L583.0,2067.3Z M575.4,2079.6 L582.4,2083.5 L578.9,2089.6 L572.0,2085.7Z M553.7,2115.1 L560.2,2119.7 L556.1,2125.4 L549.6,2120.8Z M601.4,2070.7 L608.0,2075.2 L604.0,2081.0 L597.4,2076.4Z M590.3,2088.5 L596.9,2093.1 L592.8,2098.8 L586.3,2094.2Z M578.8,2106.4 L585.7,2110.4 L582.1,2116.5 L575.2,2112.5Z M568.2,2124.1 L574.6,2128.8 L570.5,2134.4 L564.0,2129.7Z M626.9,2061.9 L633.5,2066.3 L629.6,2072.2 L623.0,2067.7Z M615.9,2079.7 L622.4,2084.3 L618.3,2090.0 L611.8,2085.4Z M604.3,2097.6 L611.2,2101.6 L607.7,2107.7 L600.8,2103.7Z M593.4,2115.4 L600.1,2119.6 L596.4,2125.6 L589.6,2121.3Z M582.5,2133.1 L589.0,2137.7 L585.0,2143.4 L578.4,2138.8Z M640.9,2071.0 L647.9,2075.0 L644.4,2081.0 L637.5,2077.1Z M630.2,2088.7 L636.8,2093.2 L632.9,2099.0 L626.3,2094.5Z M619.1,2106.5 L625.7,2111.1 L621.7,2116.8 L615.1,2112.2Z M607.6,2124.4 L614.5,2128.4 L611.0,2134.5 L604.1,2130.5Z M655.8,2079.9 L662.4,2084.4 L658.4,2090.2 L651.8,2085.6Z M644.7,2097.7 L651.2,2102.3 L647.2,2108.0 L640.7,2103.4Z M632.9,2115.7 L640.0,2119.5 L636.7,2125.6 L629.7,2121.9Z M622.5,2133.3 L629.0,2138.0 L624.9,2143.6 L618.4,2139.0Z M610.7,2151.3 L617.7,2155.0 L614.5,2161.2 L607.4,2157.5Z M1177.6,124.2 L1192.6,124.8 L1192.4,131.8 L1177.4,131.2Z M1195.1,124.8 L1210.1,125.4 L1209.9,132.4 L1194.9,131.8Z M1212.6,125.4 L1227.6,126.0 L1227.4,133.0 L1212.4,132.4Z M1230.1,126.0 L1245.1,126.6 L1244.9,133.6 L1229.9,133.0Z M1247.6,126.6 L1262.6,127.2 L1262.4,134.2 L1247.4,133.6Z M1265.1,127.2 L1280.1,127.8 L1279.9,134.8 L1264.9,134.2Z M1282.6,127.8 L1297.6,128.4 L1297.4,135.4 L1282.4,134.8Z M1300.1,128.4 L1315.1,129.0 L1314.9,136.0 L1299.9,135.4Z"/>
</svg>
<svg width="3945" height="2693" viewBox="0 0 3945 2693" style="font-family:'Liberation Sans',sans-serif">
<defs>
<linearGradient id="g1" x1="0" x2="1"><stop offset="0" stop-color="#2ed4b6"/><stop offset="1" stop-color="#1eb98b"/></linearGradient>
<linearGradient id="g2" x1="0" x2="1"><stop offset="0" stop-color="#ff8200"/><stop offset="1" stop-color="#ff5a00"/></linearGradient>
<linearGradient id="g2b" x1="0" x2="1"><stop offset="0" stop-color="#ff5e00"/><stop offset="1" stop-color="#ff5200"/></linearGradient>
<linearGradient id="g5b" x1="0" x2="1"><stop offset="0" stop-color="#ffc400"/><stop offset="1" stop-color="#ffb700"/></linearGradient>
</defs>
<rect x="2650" y="1821.1" width="975.8000000000002" height="74.60000000000014" fill="url(#g1)"/>
<rect x="3631" y="1821.1" width="217.8" height="74.60000000000014" fill="#1ab484"/>
<text x="2426.5" y="1887.3" font-size="71" font-style="italic" fill="#1c1c1c" stroke="#fff" stroke-width="2.0" textLength="199.6" lengthAdjust="spacingAndGlyphs">36,78%</text>
<rect x="2994" y="1926" width="631.8000000000002" height="74.70000000000005" fill="url(#g2)"/>
<rect x="3631" y="1926" width="217.8" height="74.70000000000005" fill="url(#g2b)"/>
<text x="2777.6" y="1988.2" font-size="71" font-style="italic" fill="#1c1c1c" stroke="#fff" stroke-width="2.0" textLength="200.5" lengthAdjust="spacingAndGlyphs">23,74%</text>
<rect x="3331.4" y="2036" width="294.4000000000001" height="74.59999999999991" fill="#ee251e"/>
<rect x="3631" y="2036" width="217.8" height="74.59999999999991" fill="#ee1f1b"/>
<text x="3115.1" y="2099.5" font-size="71" font-style="italic" fill="#1c1c1c" stroke="#fff" stroke-width="2.0" textLength="197.2" lengthAdjust="spacingAndGlyphs">11,56%</text>
<rect x="3383.6" y="2145.8" width="242.20000000000027" height="73.5" fill="#0098dd"/>
<rect x="3631" y="2145.8" width="217.8" height="73.5" fill="#008add"/>
<text x="3202.8" y="2208.5" font-size="71" font-style="italic" fill="#1c1c1c" stroke="#fff" stroke-width="2.0" textLength="166.2" lengthAdjust="spacingAndGlyphs">9,87%</text>
<rect x="3411.9" y="2247.9" width="213.9000000000001" height="73.79999999999973" fill="#ffc500"/>
<rect x="3631" y="2247.9" width="217.8" height="73.79999999999973" fill="url(#g5b)"/>
<text x="3222.9" y="2313.5" font-size="71" font-style="italic" fill="#1c1c1c" stroke="#fff" stroke-width="2.0" textLength="167.4" lengthAdjust="spacingAndGlyphs">8,03%</text>
<rect x="3492.1" y="2353" width="133.70000000000027" height="74.40000000000009" fill="#a30727"/>
<rect x="3631" y="2353" width="217.8" height="74.40000000000009" fill="#a00626"/>
<text x="3304.5" y="2418.3" font-size="71" font-style="italic" fill="#1c1c1c" stroke="#fff" stroke-width="2.0" textLength="167.4" lengthAdjust="spacingAndGlyphs">5,75%</text>
<rect x="3563.1" y="2456" width="62.70000000000027" height="74.59999999999991" fill="#003184"/>
<rect x="3631" y="2456" width="217.8" height="74.59999999999991" fill="#00307f"/>
<text x="3373.0" y="2522.5" font-size="71" font-style="italic" fill="#1c1c1c" stroke="#fff" stroke-width="2.0" textLength="166.7" lengthAdjust="spacingAndGlyphs">2,54%</text>

<!-- junts pel si script -->
<g transform="translate(3400,1800) scale(0.2151)" fill="none" stroke="#fff" stroke-linecap="round" stroke-linejoin="round" stroke-width="17">
<path d="M1182,232 C1215,205 1255,185 1292,172"/>
<path d="M1290,172 C1280,240 1255,340 1222,428 C1205,430 1215,380 1245,290"/>
<path d="M1302,218 C1296,250 1288,300 1296,312 C1315,315 1340,260 1352,216 C1346,250 1342,290 1348,312"/>
<path d="M1384,218 C1380,250 1377,290 1377,316 M1380,262 C1392,232 1410,212 1420,228 C1424,250 1418,290 1420,316"/>
<path d="M1462,152 C1456,210 1448,270 1452,310 C1458,328 1470,330 1480,326 M1430,216 L1502,200"/>
<path d="M1542,216 C1520,218 1500,238 1512,255 C1540,275 1552,300 1535,325 C1522,340 1508,342 1498,338"/>
<path d="M1642,216 C1632,280 1620,340 1610,398 M1640,232 C1660,212 1690,205 1694,232 C1696,270 1665,305 1630,312"/>
<path d="M1700,292 C1725,285 1748,265 1742,240 C1730,220 1700,245 1696,285 C1698,320 1725,328 1745,318"/>
<path d="M1792,142 C1782,200 1770,260 1772,298 C1776,315 1786,318 1796,314"/>
<path d="M1946,192 C1935,250 1925,310 1915,372" stroke-width="22"/>
<path d="M1940,152 C1955,140 1968,128 1978,114" stroke-width="20"/>
<path d="M1936,186 C1900,190 1860,210 1864,240 C1880,280 1920,300 1905,345 C1885,400 1800,440 1692,404" stroke-width="26"/>
</g>
<!-- Cs -->
<path d="M3655,1944 h43 q3,0 3,3 v28 q0,3 -3,3 h-38 l-14,9 l6,-12 v-28 q0,-3 3,-3z" fill="#fff"/>
<text x="3656" y="1972" font-size="26" font-weight="bold" fill="#ff5a00" textLength="41" lengthAdjust="spacingAndGlyphs">C's</text>
<text x="3707.5" y="1971" font-size="27" font-weight="bold" fill="#fff" textLength="121.5" lengthAdjust="spacingAndGlyphs">Ciutadans</text>
<!-- PSC -->
<text x="3699" y="2096.5" font-size="55" fill="#fff" stroke="#ee1f1b" stroke-width="0.8" textLength="66" lengthAdjust="spacingAndGlyphs">PS</text>
<text x="3764" y="2096.5" font-size="55" font-weight="bold" fill="#fff" textLength="37" lengthAdjust="spacingAndGlyphs">C</text>
<!-- PP -->
<circle cx="3743.5" cy="2183.8" r="27.5" fill="none" stroke="#fff" stroke-width="4"/>
<path d="M3722,2170 q10,-10 21,-3 q10,-8 24,2 q-14,-3 -22,6 q-9,-9 -23,-5z" fill="#fff"/>
<text x="3726" y="2196" font-size="30" font-weight="bold" fill="#fff" textLength="35" lengthAdjust="spacingAndGlyphs" letter-spacing="-3">PP</text>
<!-- CUP -->
<g fill="#c8161d">
<polygon points="3690,2264 3712,2264 3708,2270 3694,2270"/>
<polygon points="3700,2275.5 3710,2275.5 3708,2281 3704,2281"/>
<polygon points="3704,2286 3715,2286 3713,2292 3700,2292"/>
<polygon points="3694,2298 3766,2298 3765,2304.5 3690,2304.5"/>
<polygon points="3691.5,2277 3693.3,2282 3698.5,2282 3694.3,2285.2 3695.8,2290.3 3691.5,2287.2 3687.2,2290.3 3688.7,2285.2 3684.5,2282 3689.7,2282"/>
</g>
<text x="3714" y="2293.5" font-size="47" font-weight="bold" font-style="italic" fill="#111" stroke="#111" stroke-width="1.2" textLength="88" lengthAdjust="spacingAndGlyphs">cup</text>
<!-- CSQEP -->
<g stroke-linecap="butt" stroke-width="3.4" fill="none">
<path d="M3650,2378 L3686,2404" stroke="#6b4a8f"/><path d="M3652,2400 L3688,2376" stroke="#2e9d48"/>
<path d="M3659,2370 L3676,2412" stroke="#f4d21f"/><path d="M3676,2368 L3660,2412" stroke="#1da2d8"/>
<path d="M3668,2366 L3668,2414" stroke="#7b4b94"/><path d="M3648,2390 L3690,2390" stroke="#c44a6a"/>
<path d="M3682,2370 L3655,2410" stroke="#bfb8a8"/><path d="M3654,2372 L3684,2408" stroke="#35a853"/>
<path d="M3651,2377 L3687,2405" stroke="#6b4a8f" stroke-width="2.5"/>
</g>
<text x="3698.5" y="2387.8" font-size="18.5" font-weight="bold" fill="#fff" textLength="134" lengthAdjust="spacingAndGlyphs">CATALUNYA</text>
<text x="3698.5" y="2410.8" font-size="16.6" fill="#fff" textLength="135" lengthAdjust="spacingAndGlyphs">SÍ QUE ES POT</text>
<!-- unio -->
<text x="3687" y="2510" font-size="41" font-weight="bold" fill="#f2f2f2" textLength="99" lengthAdjust="spacingAndGlyphs">unıo</text>
<g fill="#f26a1b">
<polygon id="st" points="0,-5 1.5,-1.6 5,-1.6 2.2,0.7 3.2,4.3 0,2.2 -3.2,4.3 -2.2,0.7 -5,-1.6 -1.5,-1.6" transform="translate(3776,2482.5)"/>
<polygon points="0,-5 1.5,-1.6 5,-1.6 2.2,0.7 3.2,4.3 0,2.2 -3.2,4.3 -2.2,0.7 -5,-1.6 -1.5,-1.6" transform="translate(3783.5,2474.5) scale(.8)"/>
<polygon points="0,-5 1.5,-1.6 5,-1.6 2.2,0.7 3.2,4.3 0,2.2 -3.2,4.3 -2.2,0.7 -5,-1.6 -1.5,-1.6" transform="translate(3791.8,2472) scale(.55)"/>
</g>


<defs>
<linearGradient id="gg" x1="0" y1="155" x2="0" y2="231" gradientUnits="userSpaceOnUse"><stop offset="0" stop-color="#b0b0b0"/><stop offset="0.47" stop-color="#9c9c9c"/><stop offset="0.53" stop-color="#6f6f6f"/><stop offset="1" stop-color="#6a6a6a"/></linearGradient>
<linearGradient id="gr" x1="0" y1="155" x2="0" y2="231" gradientUnits="userSpaceOnUse"><stop offset="0" stop-color="#ec8a92"/><stop offset="0.47" stop-color="#e0525f"/><stop offset="0.53" stop-color="#d41023"/><stop offset="1" stop-color="#d00e20"/></linearGradient>
<radialGradient id="sh" cx="0.5" cy="0.5" r="0.5"><stop offset="0" stop-color="#999" stop-opacity=".55"/><stop offset="1" stop-color="#fff" stop-opacity="0"/></radialGradient>
<linearGradient id="rm" x1="0" y1="0" x2="1" y2="1"><stop offset="0" stop-color="#e01020"/><stop offset="1" stop-color="#c80c1c"/></linearGradient>
</defs>
<ellipse cx="2990" cy="258" rx="48" ry="12" fill="url(#sh)" transform="rotate(-8 2990 258)"/>
<g transform="translate(2910,130) scale(0.1291)">
<path d="M145,830 L180,945 L240,975 L330,920 L440,860 L545,795 L620,790 L745,770 C720,800 640,880 440,900 L300,950z" fill="#fff"/>
<polygon fill="#d90f20" points="670,105 690,110 685,160 770,180 775,195 745,200 765,235 745,290 860,365 885,400 880,430 920,460 905,510 845,570 850,610 895,660 855,705 820,670 770,655 775,690 740,680 725,720 745,770 620,790 545,795 440,860 330,920 240,975 180,945 145,830 170,760 235,690 265,710 310,665 330,625 290,585 350,590 400,540 440,460 395,430 470,425 480,335 560,310 595,275 600,215 560,210 560,165 640,150"/>
<polygon fill="#e05f6c" points="670,105 690,110 685,160 770,180 775,195 745,200 765,235 745,290 860,365 885,400 880,430 920,460 480,335 560,310 595,275 600,215 560,210 560,165 640,150"/>
<polygon fill="#9a0a16" opacity=".6" points="145,830 180,945 240,975 300,930 200,880"/>
</g>
<text x="3030" y="230.5" font-size="105.4" font-weight="bold" fill="url(#gg)" textLength="462" lengthAdjust="spacingAndGlyphs">ReusDiari</text>
<text x="3494" y="230.5" font-size="105.4" font-weight="bold" fill="url(#gr)" textLength="170" lengthAdjust="spacingAndGlyphs">.cat</text>
<text x="3042" y="266.8" font-size="26" fill="#a2a2a2" textLength="622" lengthAdjust="spacing">Edició Baix Camp de delCamp.cat</text>
<rect x="3713.1" y="165" width="2.6" height="101" fill="#727272"/>
<g transform="translate(3690,140) scale(0.0946)" fill="none" stroke="#444" stroke-width="36" stroke-linecap="round" stroke-linejoin="round">
<path d="M1000,295 L685,405"/>
<path d="M735,405 C720,500 715,620 770,690 C830,760 980,700 1060,590"/>
<path d="M760,555 L980,468"/>
<path d="M1210,470 C1130,430 1080,520 1110,590 C1150,640 1230,520 1250,400"/>
<path d="M1270,195 C1262,350 1240,520 1310,560 C1350,540 1385,420 1390,330 C1400,420 1410,540 1450,540 C1500,520 1560,440 1580,410 C1600,460 1600,520 1580,555"/>
<path d="M895,980 C1000,780 1200,690 1330,740 C1450,800 1450,950 1350,1040 C1250,1130 1100,1170 1010,1195"/>
<path d="M1085,925 C1100,1100 1120,1250 1140,1345"/>
<ellipse cx="1468" cy="1098" rx="58" ry="68"/>
<path d="M1545,655 C1570,800 1600,1000 1655,1090"/>
<ellipse cx="1778" cy="960" rx="68" ry="74" transform="rotate(-15 1778 960)"/>
</g>

</svg>
</body></html>
